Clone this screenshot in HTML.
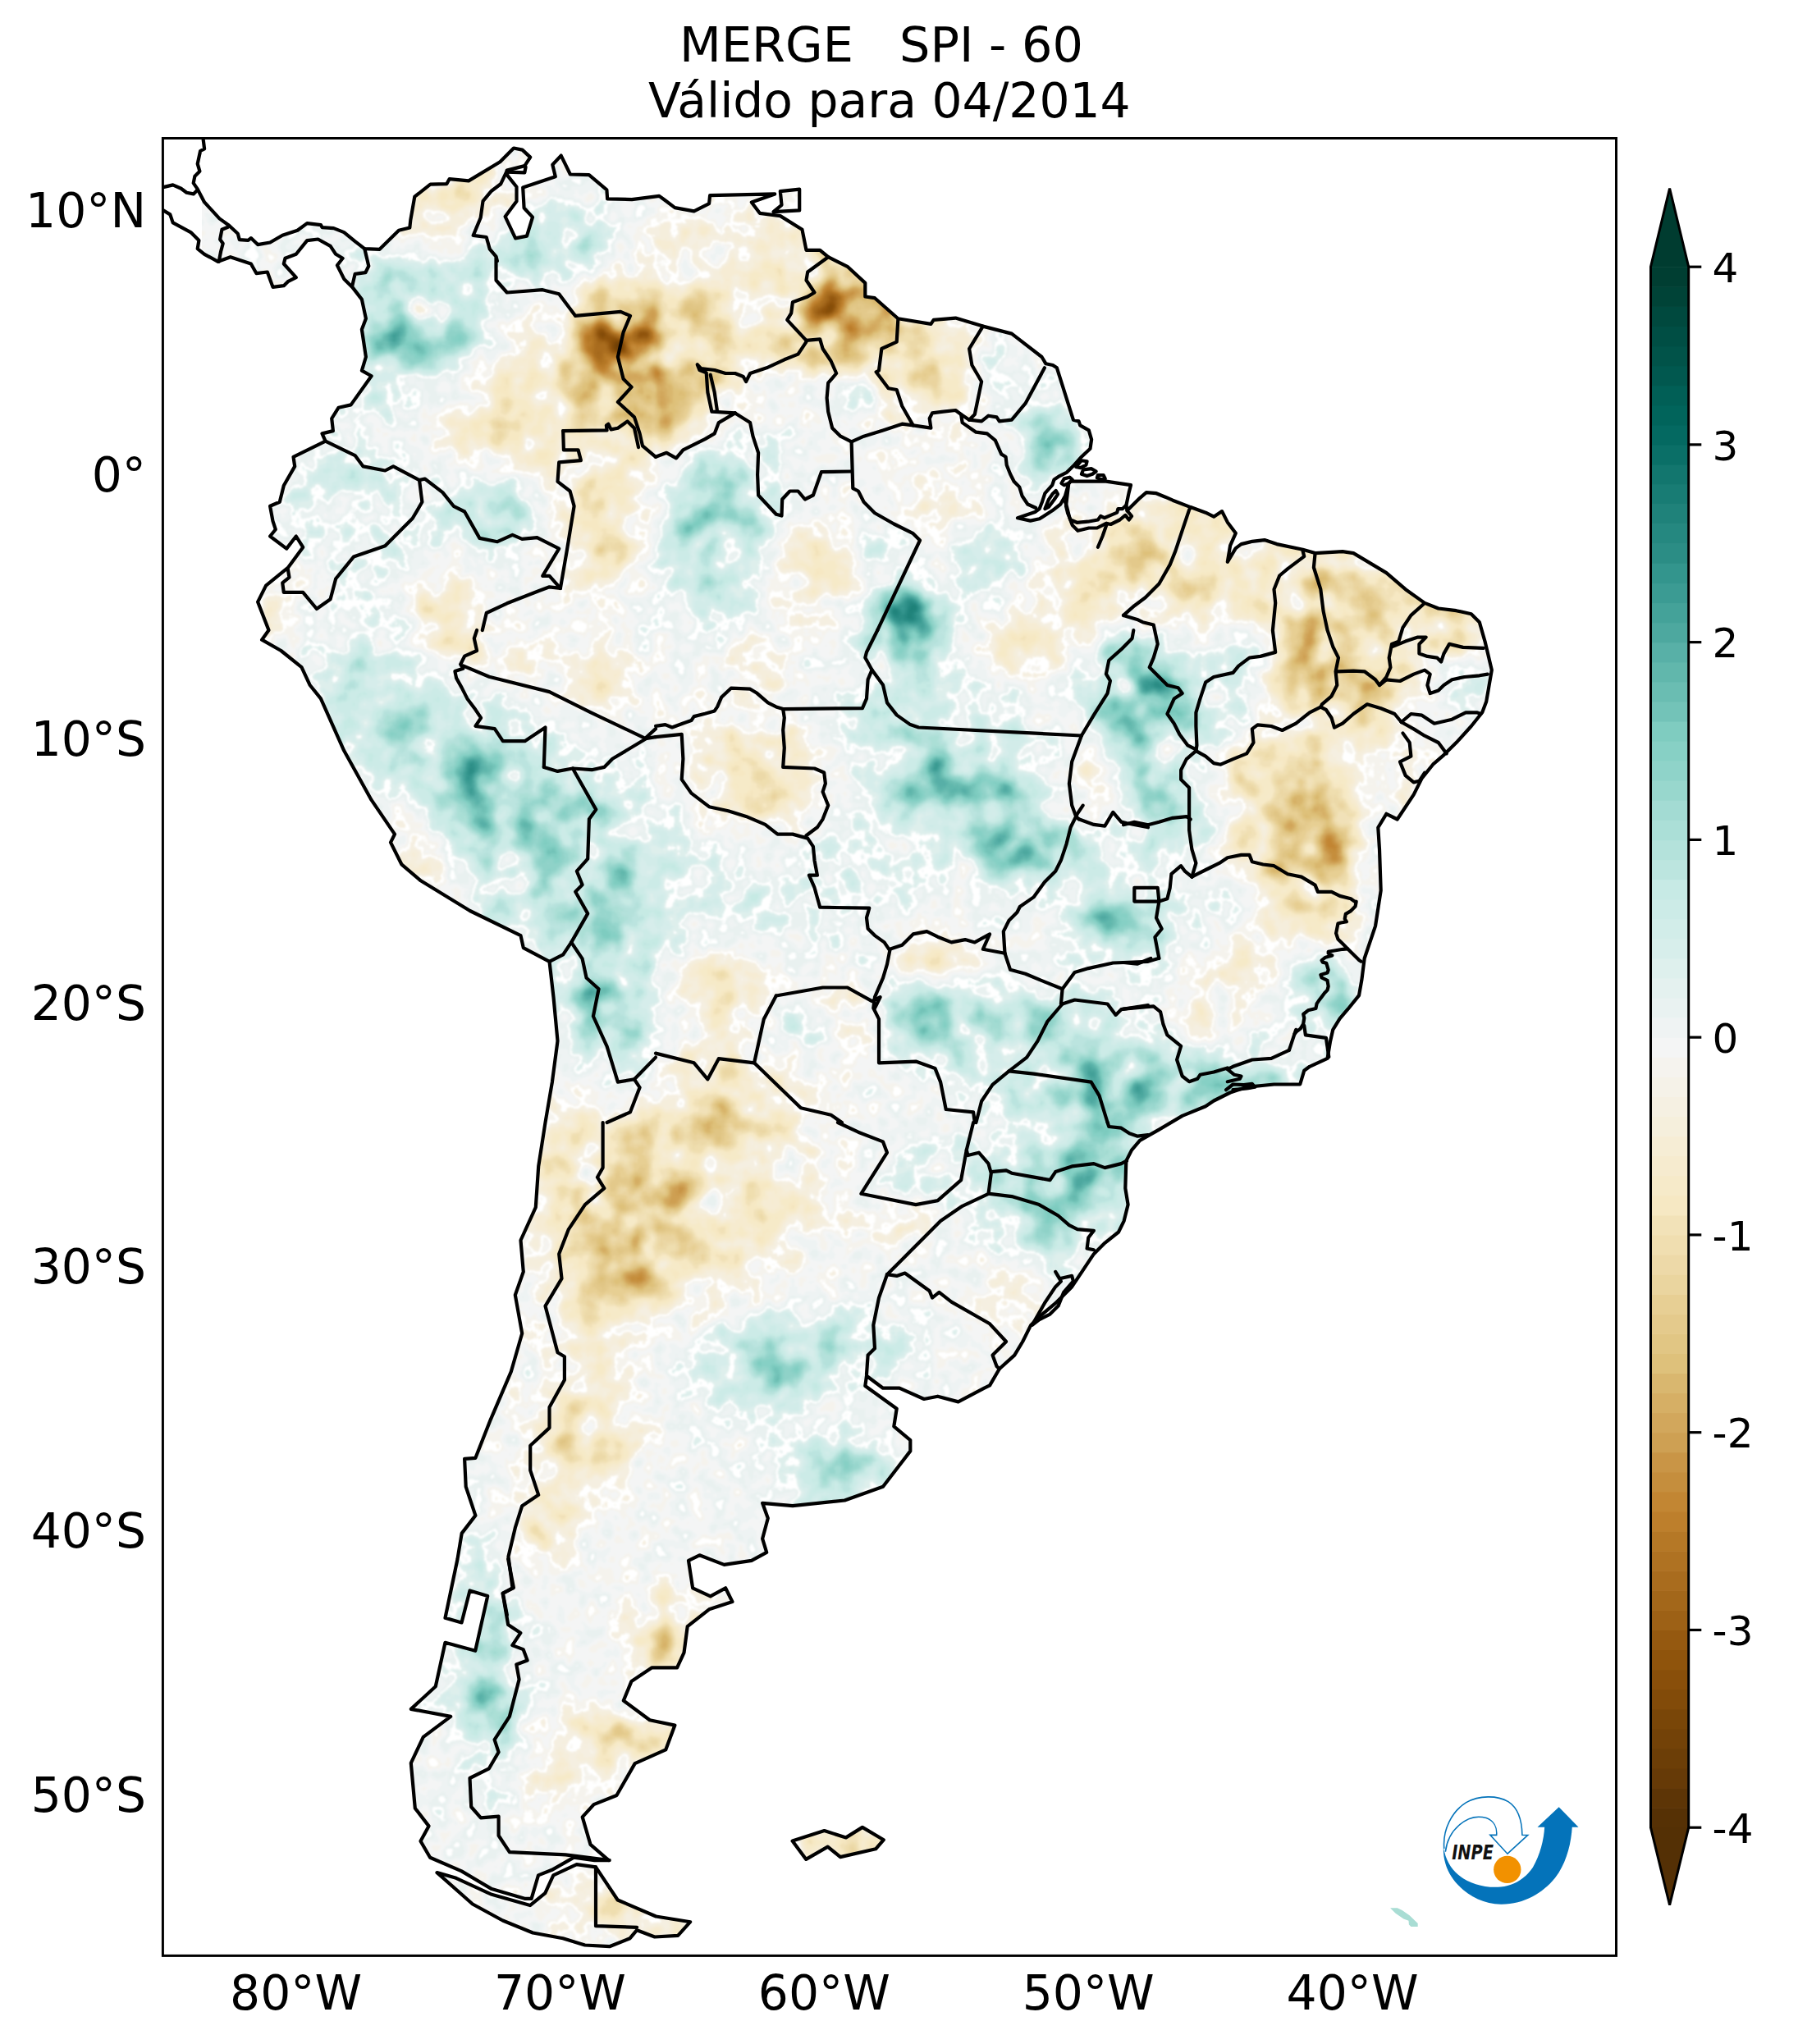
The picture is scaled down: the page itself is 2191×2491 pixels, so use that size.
<!DOCTYPE html>
<html><head><meta charset="utf-8"><title>MERGE SPI - 60</title>
<style>html,body{margin:0;padding:0;background:#fff;} svg{display:block;}</style></head>
<body>
<svg width="2191" height="2491" viewBox="0 0 2191 2491">
<rect width="2191" height="2491" fill="#fff"/>
<text x="1074" y="75.1" font-size="58.9" text-anchor="middle" font-family="DejaVu Sans, Liberation Sans, sans-serif" style="white-space:pre">MERGE   SPI - 60</text>
<text x="1083.8" y="143.3" font-size="58.3" text-anchor="middle" font-family="DejaVu Sans, Liberation Sans, sans-serif">Válido para 04/2014</text>
<svg x="198.4" y="168.5" width="1771.1" height="2214.9" viewBox="198.4 168.5 1771.1 2214.9" overflow="hidden">
<defs><clipPath id="land"><path d="M247.4,168.0 L249.1,181.3 L244.1,184.0 L240.7,199.7 L243.4,208.7 L237.4,214.7 L235.7,223.1 L240.7,230.4 L249.1,246.4 L267.4,266.4 L279.1,274.8 L289.8,284.8 L291.8,292.1 L302.4,292.8 L305.8,290.1 L314.1,298.1 L329.1,295.5 L344.2,286.8 L362.5,280.8 L374.2,272.1 L390.9,274.1 L392.5,277.1 L406.6,278.1 L419.2,283.1 L432.6,294.1 L444.3,303.2 L462.6,303.8 L486.0,280.8 L499.3,277.5 L500.3,268.1 L505.3,239.7 L524.4,224.7 L544.4,224.1 L547.7,218.1 L571.1,220.4 L609.4,197.2 L626.0,180.5 L636.5,182.6 L646.2,191.6 L639.3,202.1 L617.7,207.6 L618.4,213.9 L629.5,227.8 L629.5,245.2 L615.6,263.9 L628.1,290.4 L642.0,287.6 L649.0,264.6 L638.6,253.5 L637.2,228.5 L676.8,215.3 L673.3,200.7 L683.7,189.6 L694.9,212.5 L717.8,213.2 L739.4,231.3 L740.1,242.4 L770.0,243.1 L803.3,238.9 L810.0,243.8 L822.4,253.1 L845.7,257.4 L864.1,248.1 L865.1,238.1 L944.2,236.4 L915.8,246.4 L925.8,259.8 L950.8,263.1 L977.5,279.8 L982.5,304.8 L999.2,304.8 L1009.2,313.2 L1032.6,324.8 L1054.3,344.9 L1054.3,361.5 L1066.0,363.2 L1094.3,388.2 L1134.4,394.9 L1137.7,389.9 L1164.4,387.6 L1197.8,397.6 L1232.8,406.6 L1269.5,435.0 L1274.5,443.3 L1282.9,445.0 L1287.9,448.3 L1307.9,511.7 L1314.6,513.4 L1316.2,518.4 L1326.8,524.4 L1330.1,535.6 L1328.5,546.7 L1317.9,556.7 L1309.0,566.7 L1300.1,575.6 L1291.2,580.1 L1284.5,584.5 L1282.3,591.2 L1273.4,601.2 L1270.1,611.2 L1266.7,620.1 L1261.2,624.0 L1240.0,631.2 L1255.6,634.6 L1266.7,632.3 L1282.3,622.3 L1292.3,614.5 L1297.9,604.5 L1302.3,589.0 L1304.5,586.7 L1320.1,586.7 L1347.9,586.7 L1378.0,591.2 L1375.7,600.1 L1372.4,615.7 L1373.5,622.3 L1381.3,614.5 L1389.1,606.8 L1396.9,600.1 L1409.1,601.2 L1420.0,605.7 L1429.1,609.7 L1450.8,618.1 L1469.1,624.7 L1479.1,629.7 L1489.1,623.1 L1495.8,636.4 L1505.8,649.8 L1499.1,664.8 L1495.8,684.8 L1505.8,668.1 L1512.5,663.1 L1525.8,659.8 L1540.9,658.1 L1555.9,663.1 L1587.6,669.8 L1602.6,674.1 L1636.0,672.1 L1649.3,674.1 L1689.4,698.1 L1712.7,718.2 L1736.1,734.9 L1752.8,741.5 L1774.5,744.2 L1792.8,748.2 L1802.8,758.2 L1809.5,781.6 L1817.8,816.6 L1811.2,855.0 L1806.2,868.3 L1792.8,885.0 L1776.1,903.4 L1759.4,920.1 L1746.1,931.7 L1732.7,948.4 L1722.7,968.4 L1702.7,998.5 L1689.4,991.8 L1679.3,1008.5 L1681.0,1035.2 L1682.7,1085.2 L1676.0,1128.6 L1662.7,1168.0 L1659.3,1194.7 L1656.0,1213.1 L1642.6,1229.7 L1632.6,1241.4 L1624.3,1254.8 L1620.9,1269.8 L1617.6,1289.8 L1595.9,1299.8 L1589.2,1304.8 L1584.2,1321.5 L1552.5,1321.5 L1519.2,1324.8 L1499.1,1331.5 L1479.1,1341.5 L1469.1,1348.2 L1440.7,1359.9 L1412.4,1376.6 L1389.0,1389.9 L1379.0,1401.6 L1372.3,1414.9 L1371.3,1448.1 L1374.6,1468.1 L1369.6,1488.1 L1363.0,1501.5 L1346.3,1514.8 L1332.9,1528.2 L1319.6,1548.2 L1306.2,1568.2 L1286.2,1588.2 L1266.2,1604.9 L1256.2,1614.9 L1246.2,1635.0 L1236.2,1651.6 L1217.8,1668.3 L1206.1,1688.4 L1199.4,1691.7 L1167.7,1708.4 L1142.7,1701.7 L1126.0,1705.0 L1096.0,1691.7 L1076.0,1691.7 L1056.0,1676.7 L1054.3,1689.0 L1092.7,1716.7 L1089.3,1738.4 L1109.3,1755.1 L1109.3,1768.4 L1076.0,1811.8 L1029.3,1828.5 L965.9,1835.2 L929.1,1831.8 L935.8,1850.2 L929.1,1875.2 L934.2,1891.9 L915.8,1901.9 L882.4,1906.9 L852.4,1895.3 L839.0,1901.9 L844.1,1935.3 L865.7,1945.3 L884.1,1935.3 L892.4,1952.0 L864.1,1961.3 L837.7,1982.2 L833.5,2014.2 L825.1,2032.3 L794.5,2032.3 L769.5,2048.9 L759.8,2072.6 L791.8,2096.2 L822.4,2102.6 L811.2,2132.4 L773.7,2149.1 L751.4,2188.0 L723.6,2199.1 L709.7,2214.4 L719.5,2247.8 L741.7,2267.2 L724.4,2267.1 L699.3,2263.7 L672.6,2278.8 L656.0,2285.4 L647.6,2313.8 L639.3,2313.8 L599.2,2302.1 L562.5,2280.4 L524.1,2263.7 L512.5,2243.7 L522.5,2225.4 L505.8,2203.7 L500.8,2148.6 L515.8,2116.9 L549.2,2091.9 L500.8,2082.9 L530.8,2055.2 L542.5,2001.8 L579.2,2011.8 L594.2,1945.1 L572.5,1938.4 L562.5,1977.4 L542.5,1971.7 L557.5,1900.0 L562.7,1868.6 L579.4,1846.9 L567.7,1811.8 L566.1,1777.8 L579.4,1776.8 L597.8,1730.1 L622.8,1671.7 L636.2,1625.0 L627.8,1578.2 L637.8,1549.9 L634.5,1511.5 L652.8,1471.4 L656.2,1421.4 L664.5,1368.0 L672.9,1318.6 L679.5,1268.6 L674.5,1215.2 L669.5,1171.8 L637.8,1155.1 L634.5,1140.1 L572.7,1110.0 L512.7,1073.3 L489.3,1053.3 L476.0,1026.6 L481.0,1016.6 L452.6,974.9 L419.2,914.8 L390.9,851.4 L377.5,834.7 L367.5,813.1 L342.5,793.0 L319.1,779.7 L327.5,768.0 L314.1,733.6 L324.1,713.6 L350.8,691.9 L369.2,666.9 L360.8,653.5 L349.2,668.6 L329.1,653.5 L335.8,645.2 L332.5,635.2 L329.1,616.8 L340.8,611.8 L345.8,591.8 L359.2,568.4 L357.5,556.8 L396.6,537.7 L392.5,528.4 L405.9,525.1 L404.2,510.0 L412.6,496.7 L427.6,493.4 L452.6,458.3 L440.9,451.6 L445.9,435.0 L440.9,401.6 L445.9,388.2 L440.9,364.9 L429.3,349.9 L419.2,339.9 L410.9,323.2 L417.6,314.8 L409.2,309.8 L402.6,299.8 L387.5,291.5 L374.2,293.1 L360.8,309.8 L347.5,314.8 L345.8,321.5 L360.8,338.2 L350.8,343.2 L345.8,348.2 L332.5,349.9 L325.8,331.5 L312.5,333.2 L305.8,321.5 L280.8,313.2 L265.7,318.8 L249.1,309.8 L240.7,303.2 L242.4,293.1 L232.4,283.1 L210.7,271.4 L207.3,261.4 L199.0,256.4 L194.0,256.4 L194.0,163.0 L247.4,163.0Z M942.5,258.1 L952.5,249.8 L950.8,233.1 L974.2,230.7 L974.2,256.4Z M532.5,2282.1 L555.8,2288.8 L599.2,2308.8 L645.9,2322.1 L664.3,2307.1 L674.3,2285.4 L702.7,2272.1 L726.0,2275.4 L752.7,2315.5 L799.4,2335.5 L841.2,2342.2 L826.1,2358.8 L797.8,2360.5 L776.1,2352.2 L767.7,2362.2 L742.7,2372.2 L712.7,2370.5 L686.0,2362.2 L649.3,2355.5 L612.6,2340.5 L575.9,2320.5Z M965.6,2243.6 L1004.5,2231.1 L1030.9,2239.4 L1050.9,2226.9 L1076.8,2242.2 L1067.1,2253.3 L1024.0,2263.1 L1008.7,2250.6 L982.3,2265.9Z" clip-rule="nonzero"/></clipPath><filter id="spi" filterUnits="userSpaceOnUse" x="190" y="160" width="1800" height="2240" color-interpolation-filters="sRGB">
<feGaussianBlur in="SourceGraphic" stdDeviation="7.0" result="b"/>
<feTurbulence type="fractalNoise" baseFrequency="0.02" numOctaves="2" seed="5" result="n"/>
<feColorMatrix in="n" type="matrix" values="1 0 0 0 0 1 0 0 0 0 1 0 0 0 0 0 0 0 0 1" result="n2"/>
<feComposite in="b" in2="n2" operator="arithmetic" k1="2.5" k2="-0.4" k3="-1.2647" k4="0.7082" result="m"/>
<feTurbulence type="fractalNoise" baseFrequency="0.0440" numOctaves="2" seed="16" result="q"/>
<feColorMatrix in="q" type="matrix" values="1 0 0 0 0 1 0 0 0 0 1 0 0 0 0 0 0 0 0 1" result="q2"/>
<feComposite in="m" in2="q2" operator="arithmetic" k1="0" k2="1" k3="0.12" k4="-0.0600" result="s"/>
<feComponentTransfer in="s" result="col">
<feFuncR type="discrete" tableValues="0.329 0.337 0.365 0.400 0.424 0.451 0.475 0.510 0.537 0.561 0.584 0.616 0.639 0.663 0.686 0.710 0.741 0.761 0.773 0.788 0.808 0.824 0.839 0.851 0.871 0.882 0.894 0.906 0.918 0.929 0.941 0.949 0.965 0.965 0.965 0.965 0.961 0.961 1.000 0.961 0.957 0.937 0.914 1.000 0.871 0.843 0.824 0.800 0.780 0.737 0.706 0.671 0.639 0.596 0.561 0.529 0.498 0.451 0.416 0.380 0.345 0.302 0.267 0.231 0.200 0.169 0.145 0.122 0.094 0.071 0.039 0.016 0.004 0.004 0.004 0.004 0.000 0.000 0.000 0.000 0.000"/>
<feFuncG type="discrete" tableValues="0.188 0.192 0.208 0.227 0.243 0.259 0.275 0.294 0.310 0.329 0.349 0.380 0.404 0.424 0.447 0.471 0.498 0.525 0.557 0.584 0.627 0.655 0.686 0.718 0.757 0.776 0.792 0.812 0.835 0.851 0.871 0.886 0.910 0.918 0.922 0.929 0.937 0.941 1.000 0.953 0.961 0.953 0.949 1.000 0.941 0.933 0.929 0.922 0.918 0.898 0.886 0.875 0.859 0.843 0.827 0.816 0.800 0.765 0.741 0.718 0.690 0.659 0.635 0.608 0.584 0.553 0.533 0.510 0.486 0.463 0.435 0.412 0.392 0.373 0.345 0.325 0.306 0.286 0.263 0.243 0.235"/>
<feFuncB type="discrete" tableValues="0.020 0.020 0.024 0.027 0.027 0.031 0.031 0.035 0.039 0.047 0.063 0.086 0.102 0.118 0.133 0.149 0.173 0.200 0.239 0.275 0.325 0.361 0.396 0.435 0.482 0.518 0.549 0.580 0.624 0.659 0.690 0.722 0.765 0.788 0.812 0.835 0.863 0.886 1.000 0.933 0.961 0.953 0.945 1.000 0.929 0.922 0.914 0.906 0.898 0.875 0.859 0.843 0.827 0.804 0.788 0.773 0.753 0.722 0.698 0.675 0.655 0.624 0.600 0.576 0.553 0.522 0.502 0.478 0.455 0.431 0.404 0.380 0.357 0.337 0.310 0.286 0.267 0.243 0.216 0.196 0.188"/>
<feFuncA type="identity"/>
</feComponentTransfer>
<feTurbulence type="fractalNoise" baseFrequency="0.035" numOctaves="3" seed="28" result="v"/>
<feColorMatrix in="v" type="matrix" values="0 0 0 0 1 0 0 0 0 1 0 0 0 0 1 1 0 0 0 0" result="v2"/>
<feComponentTransfer in="v2" result="v3"><feFuncA type="table" tableValues="0.00 0.00 0.00 0.00 0.00 0.00 0.00 0.00 0.00 0.00 0.00 0.00 0.00 0.00 0.00 0.00 0.00 0.00 0.00 0.00 0.00 0.00 0.00 0.00 0.00 0.00 0.00 0.00 0.00 0.00 0.00 0.00 0.00 0.00 0.00 0.00 0.00 0.00 0.00 0.00 0.00"/></feComponentTransfer>
<feComposite in="v3" in2="col" operator="over" result="fin"/>
<feGaussianBlur in="fin" stdDeviation="1.1"/>
</filter></defs>
<g clip-path="url(#land)">
<g filter="url(#spi)"><rect x="190" y="160" width="1790" height="2232" fill="#818181"/>
<path d="M750,416h32v16h-32z" fill="#313131"/>
<path d="M782,416h16v16h-16z" fill="#323232"/>
<path d="M766,432h16v16h-16z" fill="#333333"/>
<path d="M766,400h16v16h-16zM734,416h16v16h-16zM750,432h16v16h-16z" fill="#343434"/>
<path d="M782,400h16v16h-16zM782,432h16v16h-16z" fill="#353535"/>
<path d="M750,400h16v16h-16z" fill="#363636"/>
<path d="M798,416h16v16h-16zM734,432h16v16h-16z" fill="#373737"/>
<path d="M1022,368h16v16h-16z" fill="#383838"/>
<path d="M1022,352h16v16h-16zM734,400h16v16h-16zM798,400h16v16h-16zM798,432h16v16h-16zM766,448h16v16h-16z" fill="#393939"/>
<path d="M1038,368h16v16h-16zM782,448h16v16h-16z" fill="#3a3a3a"/>
<path d="M1038,352h16v16h-16zM1006,368h16v16h-16zM750,448h16v16h-16z" fill="#3b3b3b"/>
<path d="M1006,352h16v16h-16zM1022,384h16v16h-16zM718,416h16v16h-16z" fill="#3c3c3c"/>
<path d="M1038,384h16v16h-16z" fill="#3d3d3d"/>
<path d="M766,384h32v16h-32zM798,448h16v16h-16z" fill="#3e3e3e"/>
<path d="M1022,336h16v16h-16zM1006,384h16v16h-16zM718,432h16v16h-16zM734,448h16v16h-16z" fill="#3f3f3f"/>
<path d="M1054,368h16v16h-16zM718,400h16v16h-16zM814,416h16v16h-16zM766,464h32v16h-32z" fill="#404040"/>
<path d="M1006,336h16v16h-16zM1038,336h16v16h-16zM750,384h16v16h-16zM798,384h16v16h-16z" fill="#414141"/>
<path d="M1054,352h16v16h-16zM990,368h16v16h-16zM814,400h16v16h-16zM814,432h16v16h-16z" fill="#424242"/>
<path d="M990,352h16v16h-16zM1054,384h16v16h-16zM750,464h16v16h-16zM798,464h16v16h-16zM1582,1024h16v16h-16z" fill="#434343"/>
<path d="M1022,400h16v16h-16zM1582,1008h16v16h-16z" fill="#444444"/>
<path d="M734,384h16v16h-16zM1038,400h16v16h-16zM814,448h16v16h-16zM1566,1024h16v16h-16z" fill="#454545"/>
<path d="M990,384h16v16h-16zM718,448h16v16h-16zM1566,1008h16v16h-16zM1598,1024h16v16h-16z" fill="#464646"/>
<path d="M990,336h16v16h-16zM1054,336h16v16h-16zM1006,400h16v16h-16zM734,464h16v16h-16zM782,480h16v16h-16zM1598,1008h16v16h-16zM1582,1040h16v16h-16z" fill="#474747"/>
<path d="M1022,320h16v16h-16zM1054,400h16v16h-16zM702,416h16v16h-16zM766,480h16v16h-16zM766,1472h16v16h-16zM750,1488h32v16h-32zM750,1504h32v16h-32z" fill="#484848"/>
<path d="M1070,368h16v16h-16zM814,384h16v16h-16zM814,464h16v16h-16zM798,480h16v16h-16zM1582,992h16v16h-16zM1566,1040h16v16h-16zM750,1472h16v16h-16zM782,1472h16v16h-16zM750,1520h16v16h-16z" fill="#494949"/>
<path d="M1006,320h16v16h-16zM1038,320h16v16h-16zM1070,384h16v16h-16zM702,432h16v16h-16zM1598,1040h16v16h-16zM782,1488h16v16h-16z" fill="#4a4a4a"/>
<path d="M1070,352h16v16h-16zM782,368h16v16h-16zM830,416h16v16h-16zM750,480h16v16h-16zM1566,992h16v16h-16zM1550,1024h16v16h-16zM766,1456h48v16h-48zM798,1472h16v16h-16zM734,1488h16v16h-16zM766,1520h16v16h-16z" fill="#4b4b4b"/>
<path d="M974,352h16v16h-16zM766,368h16v16h-16zM974,368h16v16h-16zM718,384h16v16h-16zM702,400h16v16h-16zM830,432h16v16h-16zM1598,992h16v16h-16zM1550,1008h16v16h-16zM750,1456h16v16h-16zM734,1472h16v16h-16zM734,1504h16v16h-16z" fill="#4c4c4c"/>
<path d="M990,400h16v16h-16zM718,464h16v16h-16zM814,480h16v16h-16zM1614,1024h16v16h-16zM734,1456h16v16h-16zM782,1504h16v16h-16z" fill="#4d4d4d"/>
<path d="M798,368h16v16h-16zM830,400h16v16h-16zM1070,400h16v16h-16zM830,448h16v16h-16zM1614,1008h16v16h-16zM734,1440h16v16h-16zM798,1488h16v16h-16zM734,1520h16v16h-16zM750,1536h16v16h-16z" fill="#4e4e4e"/>
<path d="M990,320h16v16h-16zM1054,320h16v16h-16zM750,368h16v16h-16zM974,384h16v16h-16zM1022,416h32v16h-32zM702,448h16v16h-16zM734,480h16v16h-16zM1598,752h16v16h-16zM1598,768h16v16h-16zM1550,992h16v16h-16zM1550,1040h16v16h-16zM1582,1056h16v16h-16zM718,1440h16v16h-16zM750,1440h48v16h-48zM718,1456h16v16h-16zM814,1456h16v16h-16zM766,1536h16v16h-16z" fill="#4f4f4f"/>
<path d="M974,336h16v16h-16zM1070,336h16v16h-16zM782,496h16v16h-16zM1598,736h16v16h-16zM1582,752h16v16h-16zM1598,784h16v16h-16zM1598,800h16v16h-16zM1598,816h16v16h-16zM1598,832h16v16h-16zM1582,976h16v16h-16zM1614,1040h16v16h-16zM1566,1056h16v16h-16zM798,1440h16v16h-16zM718,1472h16v16h-16zM814,1472h16v16h-16zM798,1984h16v16h-16zM798,2000h16v16h-16z" fill="#505050"/>
<path d="M1006,416h16v16h-16zM1054,416h16v16h-16zM830,464h16v16h-16zM766,496h16v16h-16zM1582,736h16v16h-16zM1614,752h16v16h-16zM1582,768h16v16h-16zM1614,816h16v16h-16zM1614,832h16v16h-16zM1566,976h16v16h-16zM1598,1056h16v16h-16zM718,1424h16v16h-16zM718,1488h16v16h-16zM782,1520h16v16h-16z" fill="#515151"/>
<path d="M1086,384h16v16h-16zM798,496h16v16h-16zM1598,720h16v16h-16zM1614,736h16v16h-16zM1614,768h16v16h-16zM1582,784h16v16h-16zM1582,800h16v16h-16zM1614,992h16v16h-16zM734,1424h16v16h-16zM702,1440h16v16h-16zM734,1536h16v16h-16z" fill="#525252"/>
<path d="M1022,304h16v16h-16zM734,368h16v16h-16zM1086,368h16v16h-16zM830,384h16v16h-16zM1614,784h16v16h-16zM1614,800h16v16h-16zM1582,816h16v16h-16zM1598,848h32v16h-32zM1598,976h16v16h-16zM702,1424h16v16h-16zM814,1440h16v16h-16zM702,1456h16v16h-16zM718,1504h16v16h-16zM798,1504h16v16h-16z" fill="#535353"/>
<path d="M1006,304h16v16h-16zM814,368h16v16h-16zM1086,400h16v16h-16zM1070,416h16v16h-16zM702,464h16v16h-16zM718,480h16v16h-16zM830,480h16v16h-16zM750,496h16v16h-16zM1582,720h16v16h-16zM1614,720h16v16h-16zM1582,832h16v16h-16zM1630,832h16v16h-16zM1550,976h16v16h-16zM1534,1008h16v16h-16zM1534,1024h16v16h-16zM750,1424h16v16h-16zM814,1488h16v16h-16zM814,1984h16v16h-16z" fill="#545454"/>
<path d="M1038,304h16v16h-16zM1086,352h16v16h-16zM974,400h16v16h-16zM1630,816h16v16h-16zM766,1424h16v16h-16zM718,1520h16v16h-16zM782,1536h16v16h-16zM750,1552h16v16h-16zM814,2000h16v16h-16z" fill="#555555"/>
<path d="M974,320h16v16h-16zM702,384h16v16h-16zM686,416h16v16h-16zM990,416h16v16h-16zM686,432h16v16h-16zM814,496h16v16h-16zM1598,704h16v16h-16zM1566,736h16v16h-16zM1630,736h16v16h-16zM1566,752h16v16h-16zM1630,752h16v16h-16zM1630,848h16v16h-16zM1550,1056h16v16h-16zM782,1424h16v16h-16zM830,1456h16v16h-16zM702,1472h16v16h-16zM830,1472h16v16h-16zM766,1552h16v16h-16z" fill="#565656"/>
<path d="M1070,320h16v16h-16zM958,352h16v16h-16zM958,368h16v16h-16zM846,416h16v16h-16zM1086,416h16v16h-16zM846,432h16v16h-16zM734,496h16v16h-16zM1582,704h16v16h-16zM1630,720h16v16h-16zM1630,768h16v16h-16zM1630,800h16v16h-16zM1582,848h16v16h-16zM1566,960h32v16h-32zM1534,992h16v16h-16zM1630,1024h16v16h-16zM1534,1040h16v16h-16zM1614,1056h16v16h-16zM718,1408h16v16h-16zM798,1424h16v16h-16z" fill="#575757"/>
<path d="M990,304h16v16h-16zM846,448h16v16h-16zM1614,704h16v16h-16zM1566,720h16v16h-16zM1566,768h16v16h-16zM1630,784h16v16h-16zM1598,864h16v16h-16zM1550,960h16v16h-16zM1614,976h16v16h-16zM1630,1008h16v16h-16zM1582,1072h16v16h-16zM702,1408h16v16h-16zM734,1408h16v16h-16zM686,1440h16v16h-16zM798,1520h16v16h-16zM718,1536h16v16h-16zM734,1552h16v16h-16zM734,2112h16v16h-16z" fill="#585858"/>
<path d="M1054,304h16v16h-16zM782,352h16v16h-16zM958,384h16v16h-16zM846,400h16v16h-16zM686,448h16v16h-16zM1758,752h16v16h-16zM1646,832h16v16h-16zM1614,864h16v16h-16zM1534,960h16v16h-16zM1598,960h16v16h-16zM1534,976h16v16h-16zM750,1408h16v16h-16zM686,1424h16v16h-16zM830,1440h16v16h-16zM702,1488h16v16h-16zM782,1984h16v16h-16zM782,2000h16v16h-16zM750,2112h16v16h-16z" fill="#595959"/>
<path d="M958,336h16v16h-16zM1086,336h16v16h-16zM766,352h16v16h-16zM798,352h16v16h-16zM718,368h16v16h-16zM686,400h16v16h-16zM1102,400h16v16h-16zM846,464h16v16h-16zM702,480h16v16h-16zM1646,736h16v16h-16zM1646,752h16v16h-16zM1566,784h16v16h-16zM1566,800h16v16h-16zM1566,816h16v16h-16zM1646,816h16v16h-16zM1534,944h16v16h-16zM1630,1040h16v16h-16zM1566,1072h16v16h-16zM1598,1072h16v16h-16zM814,1424h16v16h-16zM830,1488h16v16h-16zM814,1504h16v16h-16zM702,1728h16v16h-16zM798,1968h16v16h-16z" fill="#5a5a5a"/>
<path d="M830,368h16v16h-16zM1102,384h16v16h-16zM1102,416h16v16h-16zM718,496h16v16h-16zM766,512h16v16h-16zM1598,688h16v16h-16zM1630,704h16v16h-16zM1646,720h16v16h-16zM1742,752h16v16h-16zM1646,768h16v16h-16zM1646,848h16v16h-16zM1582,864h16v16h-16zM1518,944h16v16h-16zM1630,992h16v16h-16zM766,1408h16v16h-16zM686,1456h16v16h-16zM702,1504h16v16h-16zM702,1744h16v16h-16zM798,2016h16v16h-16z" fill="#5b5b5b"/>
<path d="M1102,368h16v16h-16zM1038,432h48v16h-48zM686,464h16v16h-16zM830,496h16v16h-16zM750,512h16v16h-16zM782,512h16v16h-16zM1582,688h16v16h-16zM1566,704h16v16h-16zM1646,800h16v16h-16zM1566,832h16v16h-16zM1630,864h16v16h-16zM1550,944h48v16h-48zM782,1408h16v16h-16zM782,1552h16v16h-16zM718,1728h16v16h-16zM718,1744h16v16h-16zM718,2112h16v16h-16zM1022,2240h32v16h-32z" fill="#5c5c5c"/>
<path d="M750,352h16v16h-16zM846,384h16v16h-16zM958,400h16v16h-16zM974,416h16v16h-16zM1022,432h16v16h-16zM1086,432h16v16h-16zM846,480h16v16h-16zM1614,688h16v16h-16zM1662,736h16v16h-16zM1646,784h16v16h-16zM1518,960h16v16h-16zM862,1344h32v16h-32zM846,1456h16v16h-16zM846,1472h16v16h-16zM702,1520h16v16h-16zM798,1536h16v16h-16zM718,1552h16v16h-16zM750,1568h16v16h-16zM814,1968h16v16h-16zM766,2112h16v16h-16z" fill="#5d5d5d"/>
<path d="M974,304h16v16h-16zM814,352h16v16h-16zM1006,432h16v16h-16zM1102,432h16v16h-16zM734,512h16v16h-16zM798,512h16v16h-16zM1646,704h16v16h-16zM1662,720h16v16h-16zM1742,736h32v16h-32zM1662,752h16v16h-16zM1662,832h16v16h-16zM1598,880h16v16h-16zM1598,944h16v16h-16zM1614,960h16v16h-16zM862,1328h32v16h-32zM718,1392h16v16h-16zM686,1408h16v16h-16zM798,1408h16v16h-16zM830,1424h16v16h-16zM686,1472h16v16h-16zM766,1568h16v16h-16z" fill="#5e5e5e"/>
<path d="M1006,288h32v16h-32zM958,320h16v16h-16zM1118,416h16v16h-16zM1118,432h16v16h-16zM686,480h16v16h-16zM702,496h16v16h-16zM1630,688h16v16h-16zM1550,720h16v16h-16zM1550,736h16v16h-16zM1726,752h16v16h-16zM1774,752h16v16h-16zM1662,768h16v16h-16zM1662,816h16v16h-16zM1566,848h16v16h-16zM1582,880h16v16h-16zM1630,976h16v16h-16zM1518,1008h16v16h-16zM1518,1024h16v16h-16zM1534,1056h16v16h-16zM1630,1056h16v16h-16zM1614,1072h16v16h-16zM846,1344h16v16h-16zM894,1344h16v16h-16zM862,1360h32v16h-32zM734,1392h16v16h-16zM814,1408h16v16h-16zM846,1440h16v16h-16zM830,1504h16v16h-16zM814,1520h16v16h-16zM734,1568h16v16h-16zM702,1712h16v16h-16zM686,1728h16v16h-16zM686,1744h16v16h-16zM814,2016h16v16h-16z" fill="#5f5f5f"/>
<path d="M1038,288h16v16h-16zM1102,352h16v16h-16zM942,368h16v16h-16zM1118,400h16v16h-16zM862,416h16v16h-16zM862,432h16v16h-16zM1390,672h32v16h-32zM1358,688h64v16h-64zM1566,688h16v16h-16zM1678,736h16v16h-16zM1758,768h16v16h-16zM1614,880h16v16h-16zM1534,928h64v16h-64zM1518,976h16v16h-16zM1550,1072h16v16h-16zM846,1328h16v16h-16zM894,1328h16v16h-16zM846,1360h16v16h-16zM702,1392h16v16h-16zM750,1392h16v16h-16zM846,1488h16v16h-16zM702,1536h16v16h-16zM718,1712h16v16h-16zM702,1760h16v16h-16zM734,2096h32v16h-32zM1054,2240h16v16h-16z" fill="#606060"/>
<path d="M942,352h16v16h-16zM686,384h16v16h-16zM670,432h16v16h-16zM990,432h16v16h-16zM670,448h16v16h-16zM718,512h16v16h-16zM1374,672h16v16h-16zM1422,672h16v16h-16zM1598,672h16v16h-16zM1422,688h16v16h-16zM1550,704h16v16h-16zM1662,704h16v16h-16zM1678,720h16v16h-16zM1726,736h16v16h-16zM1550,752h16v16h-16zM1678,752h16v16h-16zM1742,768h16v16h-16zM1662,784h16v16h-16zM1662,800h16v16h-16zM1662,848h16v16h-16zM1566,864h16v16h-16zM1646,864h16v16h-16zM1582,896h16v16h-16zM1502,944h16v16h-16zM1518,992h16v16h-16zM1582,1088h16v16h-16zM862,1312h32v16h-32zM894,1360h16v16h-16zM766,1392h16v16h-16zM830,1408h16v16h-16zM686,1488h16v16h-16zM718,1760h16v16h-16zM830,1984h16v16h-16zM1006,2240h16v16h-16z" fill="#616161"/>
<path d="M990,288h16v16h-16zM734,352h16v16h-16zM702,368h16v16h-16zM942,384h16v16h-16zM1118,384h16v16h-16zM862,400h16v16h-16zM670,416h16v16h-16zM1134,432h16v16h-16zM862,448h16v16h-16zM1102,448h32v16h-32zM670,464h16v16h-16zM718,656h16v16h-16zM1406,656h32v16h-32zM718,672h16v16h-16zM1358,672h16v16h-16zM1438,672h16v16h-16zM1582,672h16v16h-16zM1614,672h16v16h-16zM1342,688h16v16h-16zM1646,688h16v16h-16zM1342,704h48v16h-48zM1694,736h16v16h-16zM1710,752h16v16h-16zM1598,896h16v16h-16zM1582,912h16v16h-16zM1518,928h16v16h-16zM1598,928h16v16h-16zM1614,944h16v16h-16zM1518,1040h16v16h-16zM1598,1088h16v16h-16zM830,1344h16v16h-16zM830,1360h16v16h-16zM846,1376h32v16h-32zM782,1392h32v16h-32zM846,1424h16v16h-16zM670,1440h16v16h-16zM862,1456h16v16h-16zM798,1552h16v16h-16zM718,1568h16v16h-16zM734,1728h16v16h-16zM782,1968h16v16h-16zM830,2000h16v16h-16zM782,2016h16v16h-16zM702,2112h16v16h-16z" fill="#626262"/>
<path d="M942,336h16v16h-16zM830,352h16v16h-16zM846,368h16v16h-16zM1134,416h16v16h-16zM686,496h16v16h-16zM814,512h16v16h-16zM1390,656h16v16h-16zM1438,656h16v16h-16zM1438,688h16v16h-16zM1390,704h32v16h-32zM1678,704h16v16h-16zM1710,736h16v16h-16zM1774,736h16v16h-16zM1694,752h16v16h-16zM542,768h16v16h-16zM1678,768h16v16h-16zM1726,768h16v16h-16zM1566,880h16v16h-16zM1630,880h16v16h-16zM1566,912h16v16h-16zM1598,912h16v16h-16zM1566,1088h16v16h-16zM846,1312h16v16h-16zM894,1312h16v16h-16zM910,1328h16v16h-16zM910,1344h16v16h-16zM830,1376h16v16h-16zM878,1376h16v16h-16zM814,1392h32v16h-32zM670,1424h16v16h-16zM862,1472h16v16h-16zM686,1504h16v16h-16zM846,1504h16v16h-16zM814,1536h16v16h-16zM702,1552h16v16h-16zM782,1568h16v16h-16zM686,1712h16v16h-16zM734,1744h16v16h-16zM718,2096h16v16h-16z" fill="#636363"/>
<path d="M782,336h32v16h-32zM1102,336h16v16h-16zM958,416h16v16h-16zM1086,448h16v16h-16zM1134,448h16v16h-16zM862,464h16v16h-16zM670,480h16v16h-16zM846,496h16v16h-16zM702,512h16v16h-16zM734,528h32v16h-32zM734,656h16v16h-16zM1374,656h16v16h-16zM734,672h16v16h-16zM1342,672h16v16h-16zM1454,672h16v16h-16zM1566,672h16v16h-16zM1326,688h16v16h-16zM1550,688h16v16h-16zM1662,688h16v16h-16zM1326,704h16v16h-16zM1422,704h16v16h-16zM1694,720h16v16h-16zM1678,832h16v16h-16zM1566,896h16v16h-16zM1614,896h16v16h-16zM1630,960h16v16h-16zM830,1328h16v16h-16zM814,1376h16v16h-16zM686,1392h16v16h-16zM846,1392h32v16h-32zM846,1408h16v16h-16zM862,1440h16v16h-16zM670,1456h16v16h-16zM862,1488h16v16h-16zM830,1520h16v16h-16zM686,1760h16v16h-16zM766,2096h16v16h-16zM782,2112h16v16h-16z" fill="#646464"/>
<path d="M958,304h16v16h-16zM1118,368h16v16h-16zM862,384h16v16h-16zM670,400h16v16h-16zM942,400h16v16h-16zM1134,400h16v16h-16zM766,528h16v16h-16zM718,640h32v16h-32zM1406,640h32v16h-32zM1358,656h16v16h-16zM1454,656h16v16h-16zM1630,672h16v16h-16zM1454,688h16v16h-16zM1438,704h16v16h-16zM1694,768h32v16h-32zM1774,768h16v16h-16zM1678,784h16v16h-16zM1678,800h16v16h-16zM1678,816h16v16h-16zM1550,912h16v16h-16zM910,928h32v16h-32zM1614,928h16v16h-16zM1502,960h16v16h-16zM1630,1072h16v16h-16zM1614,1088h16v16h-16zM814,1360h16v16h-16zM910,1360h16v16h-16zM894,1376h16v16h-16zM878,1392h16v16h-16zM862,1408h16v16h-16zM862,1424h16v16h-16zM686,1520h16v16h-16zM750,1584h16v16h-16zM734,2128h16v16h-16z" fill="#656565"/>
<path d="M542,240h16v16h-16zM974,288h16v16h-16zM942,320h16v16h-16zM766,336h16v16h-16zM814,336h16v16h-16zM974,432h16v16h-16zM670,496h16v16h-16zM718,528h16v16h-16zM1390,640h16v16h-16zM1438,640h16v16h-16zM1326,672h16v16h-16zM990,688h16v16h-16zM1310,704h16v16h-16zM1694,704h16v16h-16zM1534,720h16v16h-16zM1710,720h32v16h-32zM542,752h16v16h-16zM1550,816h16v16h-16zM1678,848h16v16h-16zM1614,912h16v16h-16zM910,944h32v16h-32zM910,1312h16v16h-16zM718,1376h16v16h-16zM798,1376h16v16h-16zM670,1408h16v16h-16zM878,1456h16v16h-16zM878,1472h16v16h-16zM862,1504h16v16h-16zM734,1584h16v16h-16zM766,1584h16v16h-16zM702,1696h16v16h-16zM734,1712h16v16h-16zM718,2128h16v16h-16zM750,2128h16v16h-16zM1022,2224h32v16h-32zM1022,2256h32v16h-32z" fill="#666666"/>
<path d="M558,240h16v16h-16zM878,416h16v16h-16zM654,464h16v16h-16zM1118,464h32v16h-32zM654,480h16v16h-16zM862,480h16v16h-16zM654,496h16v16h-16zM606,512h16v16h-16zM686,512h16v16h-16zM782,528h16v16h-16zM734,608h16v16h-16zM718,624h32v16h-32zM702,656h16v16h-16zM1342,656h16v16h-16zM1582,656h32v16h-32zM702,672h16v16h-16zM1470,672h16v16h-16zM1646,672h16v16h-16zM718,688h16v16h-16zM974,688h16v16h-16zM1310,688h16v16h-16zM1470,688h16v16h-16zM1678,688h16v16h-16zM1454,704h16v16h-16zM1534,704h16v16h-16zM1326,720h48v16h-48zM1742,720h16v16h-16zM1534,736h16v16h-16zM1550,768h16v16h-16zM1662,864h16v16h-16zM1502,928h16v16h-16zM1630,944h16v16h-16zM1582,1104h16v16h-16zM878,1200h16v16h-16zM862,1296h32v16h-32zM814,1344h16v16h-16zM734,1376h16v16h-16zM782,1376h16v16h-16zM910,1376h16v16h-16zM894,1392h16v16h-16zM878,1408h16v16h-16zM878,1424h16v16h-16zM878,1440h16v16h-16zM670,1472h16v16h-16zM878,1488h16v16h-16zM846,1520h16v16h-16zM686,1536h16v16h-16zM702,1568h16v16h-16zM670,1728h16v16h-16zM670,1744h16v16h-16zM734,1760h16v16h-16zM830,1968h16v16h-16zM1070,2240h16v16h-16z" fill="#676767"/>
<path d="M558,224h16v16h-16zM718,352h16v16h-16zM846,352h16v16h-16zM1118,352h16v16h-16zM926,368h16v16h-16zM1134,384h16v16h-16zM878,400h16v16h-16zM1150,416h16v16h-16zM878,432h16v16h-16zM1150,432h16v16h-16zM654,448h16v16h-16zM1070,448h16v16h-16zM1150,448h16v16h-16zM1102,464h16v16h-16zM638,480h16v16h-16zM606,496h48v16h-48zM590,512h16v16h-16zM622,512h16v16h-16zM734,544h32v16h-32zM734,592h16v16h-16zM718,608h16v16h-16zM1374,640h16v16h-16zM1454,640h16v16h-16zM1470,656h16v16h-16zM1614,656h16v16h-16zM990,672h16v16h-16zM1550,672h16v16h-16zM1374,720h32v16h-32zM542,736h16v16h-16zM1694,784h16v16h-16zM1550,832h16v16h-16zM1646,880h16v16h-16zM1630,896h16v16h-16zM910,912h32v16h-32zM894,928h16v16h-16zM942,928h16v16h-16zM894,944h16v16h-16zM942,944h16v16h-16zM1550,1088h16v16h-16zM1598,1104h16v16h-16zM862,1200h16v16h-16zM894,1296h16v16h-16zM830,1312h16v16h-16zM926,1328h16v16h-16zM926,1344h16v16h-16zM702,1376h16v16h-16zM750,1376h32v16h-32zM878,1504h16v16h-16zM830,1536h16v16h-16zM814,1552h16v16h-16zM798,1568h16v16h-16zM718,1584h16v16h-16zM718,1696h16v16h-16zM702,1776h16v16h-16zM798,1952h16v16h-16zM766,1984h16v16h-16zM766,2000h16v16h-16zM702,2096h16v16h-16z" fill="#686868"/>
<path d="M542,224h16v16h-16zM574,224h16v16h-16zM526,240h16v16h-16zM1006,272h32v16h-32zM830,336h16v16h-16zM926,352h16v16h-16zM862,368h16v16h-16zM926,384h16v16h-16zM942,416h16v16h-16zM654,432h16v16h-16zM622,480h16v16h-16zM590,496h16v16h-16zM638,512h48v16h-48zM830,512h16v16h-16zM606,528h16v16h-16zM702,528h16v16h-16zM718,544h16v16h-16zM734,560h16v16h-16zM734,576h16v16h-16zM718,592h16v16h-16zM1422,624h16v16h-16zM1566,656h16v16h-16zM974,672h16v16h-16zM1310,672h16v16h-16zM1662,672h16v16h-16zM734,688h16v16h-16zM1534,688h16v16h-16zM1694,688h16v16h-16zM1470,704h16v16h-16zM1710,704h16v16h-16zM1310,720h16v16h-16zM1406,720h48v16h-48zM1758,720h16v16h-16zM526,736h16v16h-16zM526,752h16v16h-16zM1790,752h16v16h-16zM526,768h16v16h-16zM558,768h16v16h-16zM542,784h16v16h-16zM1246,784h16v16h-16zM1550,800h16v16h-16zM1694,800h16v16h-16zM718,816h32v16h-32zM1550,896h16v16h-16zM1534,912h16v16h-16zM910,960h32v16h-32zM1518,1056h16v16h-16zM1534,1072h16v16h-16zM1566,1104h16v16h-16zM1134,1168h16v16h-16zM878,1184h16v16h-16zM846,1296h16v16h-16zM798,1360h16v16h-16zM926,1360h16v16h-16zM894,1408h16v16h-16zM894,1424h16v16h-16zM894,1440h16v16h-16zM894,1456h16v16h-16zM894,1472h16v16h-16zM670,1488h16v16h-16zM894,1488h16v16h-16zM862,1520h16v16h-16zM686,1552h16v16h-16zM686,1696h16v16h-16zM718,1776h16v16h-16zM814,1952h16v16h-16zM782,2096h16v16h-16zM766,2128h16v16h-16zM1054,2224h16v16h-16zM990,2240h16v16h-16zM1054,2256h16v16h-16zM750,2304h32v16h-32zM750,2320h32v16h-32z" fill="#696969"/>
<path d="M542,256h16v16h-16zM750,336h16v16h-16zM926,336h16v16h-16zM686,368h16v16h-16zM670,384h16v16h-16zM878,384h16v16h-16zM926,400h16v16h-16zM958,432h16v16h-16zM878,448h16v16h-16zM638,464h16v16h-16zM606,480h16v16h-16zM574,512h16v16h-16zM590,528h16v16h-16zM622,528h16v16h-16zM718,560h16v16h-16zM718,576h16v16h-16zM750,592h16v16h-16zM750,608h16v16h-16zM750,624h16v16h-16zM1406,624h16v16h-16zM1438,624h16v16h-16zM702,640h16v16h-16zM750,640h16v16h-16zM1358,640h16v16h-16zM1470,640h16v16h-16zM750,656h16v16h-16zM1326,656h16v16h-16zM1630,656h16v16h-16zM1486,672h16v16h-16zM1006,688h16v16h-16zM1486,688h16v16h-16zM974,704h32v16h-32zM1294,704h16v16h-16zM526,720h32v16h-32zM1454,720h16v16h-16zM1246,768h16v16h-16zM1710,784h16v16h-16zM1694,816h16v16h-16zM1694,832h16v16h-16zM1550,848h16v16h-16zM894,912h16v16h-16zM942,912h16v16h-16zM1630,912h16v16h-16zM1630,928h16v16h-16zM1502,1024h16v16h-16zM1614,1104h16v16h-16zM1118,1168h16v16h-16zM862,1184h16v16h-16zM894,1200h16v16h-16zM814,1328h16v16h-16zM910,1392h16v16h-16zM894,1504h16v16h-16zM846,1536h16v16h-16zM702,1584h16v16h-16zM782,1584h16v16h-16zM670,1712h16v16h-16zM686,1776h16v16h-16zM830,2016h16v16h-16zM798,2032h16v16h-16zM686,2112h16v16h-16zM702,2128h16v16h-16zM1006,2224h16v16h-16zM1006,2256h16v16h-16zM782,2304h16v16h-16zM782,2320h16v16h-16z" fill="#6a6a6a"/>
<path d="M574,240h16v16h-16zM526,256h16v16h-16zM990,272h16v16h-16zM958,288h16v16h-16zM942,304h16v16h-16zM1150,400h16v16h-16zM654,416h16v16h-16zM1150,464h16v16h-16zM574,496h16v16h-16zM638,528h16v16h-16zM686,528h16v16h-16zM798,528h16v16h-16zM702,544h16v16h-16zM766,544h16v16h-16zM750,560h16v16h-16zM750,576h16v16h-16zM1390,624h16v16h-16zM1454,624h16v16h-16zM1486,656h16v16h-16zM1534,672h16v16h-16zM1678,672h16v16h-16zM702,688h16v16h-16zM1294,688h16v16h-16zM1502,688h32v16h-32zM1486,704h16v16h-16zM1518,704h16v16h-16zM1518,720h16v16h-16zM1262,768h16v16h-16zM1230,784h16v16h-16zM1726,784h16v16h-16zM718,832h16v16h-16zM1678,864h16v16h-16zM1550,880h16v16h-16zM894,960h16v16h-16zM942,960h16v16h-16zM1502,976h16v16h-16zM1646,1008h16v16h-16zM1646,1024h16v16h-16zM1630,1088h16v16h-16zM1134,1152h16v16h-16zM894,1184h16v16h-16zM910,1296h16v16h-16zM926,1312h16v16h-16zM686,1376h16v16h-16zM926,1376h16v16h-16zM670,1392h16v16h-16zM910,1408h16v16h-16zM910,1440h16v16h-16zM910,1456h16v16h-16zM910,1472h16v16h-16zM1102,1472h16v16h-16zM910,1488h16v16h-16zM670,1504h16v16h-16zM878,1520h16v16h-16zM830,1552h16v16h-16zM686,1568h16v16h-16zM750,1728h16v16h-16zM750,1744h16v16h-16zM670,1760h16v16h-16zM670,1840h16v16h-16zM670,1856h16v16h-16zM734,2304h16v16h-16zM734,2320h16v16h-16z" fill="#6b6b6b"/>
<path d="M526,224h16v16h-16zM798,320h32v16h-32zM862,352h16v16h-16zM1134,368h16v16h-16zM910,384h16v16h-16zM894,400h16v16h-16zM894,416h16v16h-16zM638,448h16v16h-16zM622,464h16v16h-16zM878,464h16v16h-16zM590,480h16v16h-16zM1118,480h16v16h-16zM574,528h16v16h-16zM654,528h32v16h-32zM702,608h16v16h-16zM702,624h16v16h-16zM1342,640h16v16h-16zM1550,656h16v16h-16zM1646,656h16v16h-16zM750,672h16v16h-16zM1006,672h16v16h-16zM1502,672h32v16h-32zM1710,688h16v16h-16zM1502,704h16v16h-16zM1726,704h16v16h-16zM1294,720h16v16h-16zM1470,720h16v16h-16zM1790,736h16v16h-16zM558,752h16v16h-16zM1230,768h16v16h-16zM1262,784h16v16h-16zM1550,784h16v16h-16zM702,816h16v16h-16zM734,832h16v16h-16zM1694,848h16v16h-16zM1550,864h16v16h-16zM910,896h32v16h-32zM878,928h16v16h-16zM958,928h16v16h-16zM958,944h16v16h-16zM1646,992h16v16h-16zM1502,1008h16v16h-16zM1502,1040h16v16h-16zM1582,1120h16v16h-16zM1118,1152h16v16h-16zM846,1200h16v16h-16zM878,1216h16v16h-16zM1454,1232h32v16h-32zM798,1344h16v16h-16zM782,1360h16v16h-16zM910,1424h16v16h-16zM1102,1488h16v16h-16zM910,1504h16v16h-16zM670,1520h16v16h-16zM894,1520h16v16h-16zM862,1536h16v16h-16zM814,1568h16v16h-16zM1214,1568h16v16h-16zM718,1600h48v16h-48zM734,1696h16v16h-16zM654,1840h16v16h-16zM654,1856h16v16h-16zM814,2032h16v16h-16zM798,2112h16v16h-16z" fill="#6c6c6c"/>
<path d="M558,208h32v16h-32zM590,224h16v16h-16zM510,240h16v16h-16zM558,256h16v16h-16zM782,320h16v16h-16zM926,320h16v16h-16zM846,336h16v16h-16zM878,368h16v16h-16zM910,368h16v16h-16zM894,384h16v16h-16zM910,400h16v16h-16zM926,416h16v16h-16zM894,432h16v16h-16zM1054,448h16v16h-16zM1086,464h16v16h-16zM1134,480h16v16h-16zM862,496h16v16h-16zM686,544h16v16h-16zM702,560h16v16h-16zM702,576h16v16h-16zM702,592h16v16h-16zM1374,624h16v16h-16zM1470,624h16v16h-16zM1486,640h16v16h-16zM1582,640h32v16h-32zM990,656h16v16h-16zM1310,656h16v16h-16zM1502,656h16v16h-16zM1294,672h16v16h-16zM1694,672h16v16h-16zM958,688h16v16h-16zM1006,704h16v16h-16zM1486,720h32v16h-32zM1774,720h16v16h-16zM1310,736h32v16h-32zM1518,736h16v16h-16zM1534,752h16v16h-16zM558,784h16v16h-16zM1742,784h16v16h-16zM1710,800h16v16h-16zM894,896h16v16h-16zM878,912h16v16h-16zM1518,912h16v16h-16zM878,944h16v16h-16zM1486,944h16v16h-16zM1646,1040h16v16h-16zM1550,1104h16v16h-16zM1566,1120h16v16h-16zM1598,1120h16v16h-16zM846,1184h16v16h-16zM862,1216h16v16h-16zM830,1296h16v16h-16zM942,1344h16v16h-16zM926,1392h16v16h-16zM654,1424h16v16h-16zM654,1440h16v16h-16zM926,1456h16v16h-16zM926,1472h16v16h-16zM1086,1472h16v16h-16zM1086,1488h16v16h-16zM878,1536h16v16h-16zM1230,1568h16v16h-16zM686,1584h16v16h-16zM702,1600h16v16h-16zM766,1600h16v16h-16zM702,1680h16v16h-16zM782,1952h16v16h-16zM766,2288h16v16h-16zM798,2304h16v16h-16zM798,2320h16v16h-16zM766,2336h16v16h-16z" fill="#6d6d6d"/>
<path d="M510,256h16v16h-16zM974,272h16v16h-16zM830,320h16v16h-16zM910,352h16v16h-16zM894,368h16v16h-16zM1150,384h16v16h-16zM654,400h16v16h-16zM910,416h16v16h-16zM942,432h16v16h-16zM990,448h16v16h-16zM606,464h16v16h-16zM1102,480h16v16h-16zM558,512h16v16h-16zM766,560h16v16h-16zM1406,608h48v16h-48zM1566,640h16v16h-16zM1614,640h16v16h-16zM974,656h16v16h-16zM1518,656h32v16h-32zM1662,656h16v16h-16zM958,672h16v16h-16zM1742,704h16v16h-16zM558,736h16v16h-16zM1294,736h16v16h-16zM1342,736h16v16h-16zM1790,768h16v16h-16zM1662,880h16v16h-16zM942,896h16v16h-16zM1646,896h16v16h-16zM958,912h16v16h-16zM958,960h16v16h-16zM910,976h32v16h-32zM1646,976h16v16h-16zM1502,992h16v16h-16zM910,1200h16v16h-16zM894,1216h16v16h-16zM862,1280h32v16h-32zM814,1312h16v16h-16zM942,1328h16v16h-16zM702,1360h32v16h-32zM942,1360h16v16h-16zM926,1408h16v16h-16zM926,1424h16v16h-16zM926,1440h16v16h-16zM654,1456h16v16h-16zM926,1488h16v16h-16zM910,1520h16v16h-16zM670,1536h16v16h-16zM846,1552h16v16h-16zM798,1584h16v16h-16zM718,1680h16v16h-16zM670,1696h16v16h-16zM750,1712h16v16h-16zM734,1776h16v16h-16zM670,1824h16v16h-16zM686,1840h16v16h-16zM766,1968h16v16h-16zM766,2016h16v16h-16zM782,2032h16v16h-16zM782,2128h16v16h-16zM1070,2224h16v16h-16zM1070,2256h16v16h-16zM750,2288h16v16h-16zM782,2288h16v16h-16zM718,2304h16v16h-16zM718,2320h16v16h-16zM750,2336h16v16h-16zM782,2336h16v16h-16z" fill="#6e6e6e"/>
<path d="M542,208h16v16h-16zM590,208h16v16h-16zM942,288h16v16h-16zM926,304h16v16h-16zM734,336h16v16h-16zM910,336h16v16h-16zM702,352h16v16h-16zM878,352h16v16h-16zM638,432h16v16h-16zM894,448h16v16h-16zM974,448h16v16h-16zM1006,448h16v16h-16zM574,480h16v16h-16zM878,480h16v16h-16zM1150,480h16v16h-16zM558,496h16v16h-16zM558,528h16v16h-16zM622,544h16v16h-16zM654,544h32v16h-32zM782,544h16v16h-16zM686,560h16v16h-16zM1454,608h16v16h-16zM1358,624h16v16h-16zM1486,624h16v16h-16zM1326,640h16v16h-16zM1502,640h16v16h-16zM1550,640h16v16h-16zM1630,640h16v16h-16zM1678,656h16v16h-16zM1726,688h16v16h-16zM958,704h16v16h-16zM1278,704h16v16h-16zM1278,720h16v16h-16zM1438,736h32v16h-32zM1262,752h32v16h-32zM1278,768h16v16h-16zM1758,784h16v16h-16zM622,800h16v16h-16zM718,800h16v16h-16zM750,816h16v16h-16zM1710,816h16v16h-16zM702,832h16v16h-16zM1534,896h16v16h-16zM878,960h16v16h-16zM1646,960h16v16h-16zM494,1024h16v16h-16zM1646,1056h16v16h-16zM1630,1104h16v16h-16zM1614,1120h16v16h-16zM1150,1168h16v16h-16zM846,1216h16v16h-16zM894,1280h16v16h-16zM734,1360h48v16h-48zM942,1376h16v16h-16zM654,1408h16v16h-16zM926,1504h16v16h-16zM894,1536h16v16h-16zM670,1552h16v16h-16zM862,1552h16v16h-16zM1214,1584h16v16h-16zM686,1600h16v16h-16zM686,1680h16v16h-16zM750,1760h16v16h-16zM670,1776h16v16h-16zM686,1792h32v16h-32zM654,1824h16v16h-16zM638,1840h16v16h-16zM638,1856h16v16h-16zM686,1856h16v16h-16zM654,1872h32v16h-32zM830,1952h16v16h-16zM686,2096h16v16h-16zM798,2096h16v16h-16zM686,2128h16v16h-16zM990,2224h16v16h-16zM1086,2240h16v16h-16zM990,2256h16v16h-16zM734,2288h16v16h-16zM734,2336h16v16h-16z" fill="#6f6f6f"/>
<path d="M510,224h16v16h-16zM814,304h32v16h-32zM766,320h16v16h-16zM846,320h16v16h-16zM862,336h16v16h-16zM894,352h16v16h-16zM1134,352h16v16h-16zM1166,416h16v16h-16zM910,432h32v16h-32zM1166,432h16v16h-16zM622,448h16v16h-16zM1038,448h16v16h-16zM590,464h16v16h-16zM846,512h16v16h-16zM814,528h16v16h-16zM590,544h32v16h-32zM638,544h16v16h-16zM766,576h16v16h-16zM766,592h16v16h-16zM766,608h16v16h-16zM1390,608h16v16h-16zM1518,640h32v16h-32zM686,656h16v16h-16zM686,672h16v16h-16zM1710,672h16v16h-16zM1022,688h16v16h-16zM1278,688h16v16h-16zM526,704h32v16h-32zM718,704h16v16h-16zM558,720h16v16h-16zM990,720h16v16h-16zM1278,736h16v16h-16zM1358,736h16v16h-16zM1422,736h16v16h-16zM1470,736h16v16h-16zM1246,752h16v16h-16zM526,784h16v16h-16zM638,800h16v16h-16zM734,800h16v16h-16zM750,832h16v16h-16zM1710,832h16v16h-16zM1694,864h16v16h-16zM910,880h16v16h-16zM878,896h16v16h-16zM1646,912h16v16h-16zM894,976h16v16h-16zM942,976h16v16h-16zM478,1024h16v16h-16zM494,1040h16v16h-16zM1550,1120h16v16h-16zM1150,1152h16v16h-16zM910,1184h16v16h-16zM1022,1216h16v16h-16zM1454,1216h32v16h-32zM846,1280h16v16h-16zM926,1296h16v16h-16zM942,1312h16v16h-16zM670,1376h16v16h-16zM942,1392h16v16h-16zM942,1440h16v16h-16zM942,1456h16v16h-16zM654,1472h16v16h-16zM942,1472h16v16h-16zM942,1488h16v16h-16zM926,1520h16v16h-16zM670,1568h16v16h-16zM830,1568h16v16h-16zM1230,1584h16v16h-16zM782,1600h16v16h-16zM702,1616h32v16h-32zM654,1728h16v16h-16zM686,1824h16v16h-16zM846,1984h16v16h-16zM798,2288h16v16h-16zM814,2304h16v16h-16zM814,2320h16v16h-16zM798,2336h16v16h-16z" fill="#707070"/>
<path d="M590,240h16v16h-16zM958,272h16v16h-16zM798,304h16v16h-16zM846,304h16v16h-16zM862,320h16v16h-16zM910,320h16v16h-16zM878,336h32v16h-32zM638,416h16v16h-16zM958,448h16v16h-16zM1022,448h16v16h-16zM1166,448h16v16h-16zM574,544h16v16h-16zM686,576h16v16h-16zM686,592h16v16h-16zM1374,608h16v16h-16zM1470,608h16v16h-16zM766,624h16v16h-16zM1342,624h16v16h-16zM686,640h16v16h-16zM1646,640h16v16h-16zM1294,656h16v16h-16zM1694,656h16v16h-16zM750,688h16v16h-16zM734,704h16v16h-16zM1758,704h16v16h-16zM510,720h16v16h-16zM974,720h16v16h-16zM1374,736h48v16h-48zM1486,736h32v16h-32zM1294,752h16v16h-16zM1214,768h16v16h-16zM1214,784h16v16h-16zM1278,784h16v16h-16zM702,800h16v16h-16zM1246,800h16v16h-16zM926,880h16v16h-16zM1678,880h16v16h-16zM862,928h16v16h-16zM1486,928h16v16h-16zM1646,928h16v16h-16zM1326,944h16v16h-16zM1646,944h16v16h-16zM478,1040h16v16h-16zM1534,1088h16v16h-16zM1022,1232h16v16h-16zM798,1328h16v16h-16zM686,1360h16v16h-16zM942,1408h16v16h-16zM942,1424h16v16h-16zM654,1488h16v16h-16zM942,1504h16v16h-16zM910,1536h16v16h-16zM878,1552h16v16h-16zM1198,1568h16v16h-16zM814,1584h16v16h-16zM686,1616h16v16h-16zM734,1616h32v16h-32zM702,1664h16v16h-16zM654,1744h16v16h-16zM718,1792h16v16h-16zM670,1808h32v16h-32zM846,2000h16v16h-16zM670,2112h16v16h-16zM974,2240h16v16h-16z" fill="#717171"/>
<path d="M526,208h16v16h-16zM494,240h16v16h-16zM574,256h16v16h-16zM926,288h16v16h-16zM910,304h16v16h-16zM670,368h16v16h-16zM1150,368h16v16h-16zM654,384h16v16h-16zM1166,400h16v16h-16zM894,464h16v16h-16zM1166,464h16v16h-16zM1118,496h32v16h-32zM670,560h16v16h-16zM1134,592h16v16h-16zM1422,592h32v16h-32zM686,608h16v16h-16zM1134,608h16v16h-16zM686,624h16v16h-16zM1502,624h16v16h-16zM1566,624h48v16h-48zM766,640h16v16h-16zM1310,640h16v16h-16zM1662,640h16v16h-16zM1006,656h16v16h-16zM1278,672h16v16h-16zM1022,704h16v16h-16zM1006,720h16v16h-16zM510,736h16v16h-16zM1310,752h16v16h-16zM1230,800h16v16h-16zM1726,800h16v16h-16zM686,816h16v16h-16zM1710,848h16v16h-16zM894,880h16v16h-16zM958,896h16v16h-16zM862,912h16v16h-16zM1502,912h16v16h-16zM974,928h16v16h-16zM862,944h16v16h-16zM974,944h16v16h-16zM1326,960h16v16h-16zM1630,1120h16v16h-16zM1102,1152h16v16h-16zM862,1168h32v16h-32zM1102,1168h16v16h-16zM830,1200h16v16h-16zM910,1216h16v16h-16zM878,1232h16v16h-16zM1454,1248h32v16h-32zM910,1280h16v16h-16zM782,1344h16v16h-16zM958,1344h16v16h-16zM958,1360h16v16h-16zM654,1392h16v16h-16zM1118,1472h16v16h-16zM1118,1488h16v16h-16zM654,1504h16v16h-16zM894,1552h16v16h-16zM846,1568h16v16h-16zM670,1584h16v16h-16zM702,1632h16v16h-16zM686,1664h16v16h-16zM670,1680h16v16h-16zM734,1680h16v16h-16zM750,1696h16v16h-16zM654,1712h16v16h-16zM670,1792h16v16h-16zM686,1872h16v16h-16zM702,2144h32v16h-32zM718,2288h16v16h-16zM702,2304h16v16h-16zM702,2320h16v16h-16zM718,2336h16v16h-16z" fill="#727272"/>
<path d="M606,208h16v16h-16zM606,224h16v16h-16zM494,256h16v16h-16zM990,256h16v16h-16zM526,272h32v16h-32zM814,288h48v16h-48zM782,304h16v16h-16zM862,304h16v16h-16zM878,320h32v16h-32zM1134,336h16v16h-16zM622,432h16v16h-16zM606,448h16v16h-16zM910,448h16v16h-16zM942,448h16v16h-16zM558,480h16v16h-16zM1086,480h16v16h-16zM1102,496h16v16h-16zM542,512h16v16h-16zM1118,592h16v16h-16zM1406,592h16v16h-16zM1454,592h16v16h-16zM1118,608h16v16h-16zM1358,608h16v16h-16zM1486,608h16v16h-16zM1518,624h16v16h-16zM1550,624h16v16h-16zM1614,624h16v16h-16zM686,688h16v16h-16zM1742,688h16v16h-16zM702,704h16v16h-16zM1790,720h16v16h-16zM1262,736h16v16h-16zM1230,752h16v16h-16zM1294,768h16v16h-16zM606,800h16v16h-16zM910,800h16v16h-16zM1262,800h16v16h-16zM942,880h16v16h-16zM1310,944h16v16h-16zM1310,960h16v16h-16zM1486,960h16v16h-16zM958,976h16v16h-16zM478,1008h32v16h-32zM1502,1056h16v16h-16zM1646,1072h16v16h-16zM1550,1136h32v16h-32zM830,1184h16v16h-16zM862,1232h16v16h-16zM1038,1232h16v16h-16zM878,1264h16v16h-16zM830,1280h16v16h-16zM814,1296h16v16h-16zM958,1328h16v16h-16zM958,1376h16v16h-16zM958,1440h16v16h-16zM958,1456h16v16h-16zM958,1472h16v16h-16zM958,1488h16v16h-16zM654,1520h16v16h-16zM942,1520h16v16h-16zM926,1536h16v16h-16zM1214,1552h16v16h-16zM862,1568h16v16h-16zM1246,1568h16v16h-16zM1198,1584h16v16h-16zM670,1600h16v16h-16zM798,1600h16v16h-16zM766,1616h16v16h-16zM686,1632h16v16h-16zM718,1632h16v16h-16zM686,1648h32v16h-32zM718,1664h16v16h-16zM654,1760h16v16h-16zM750,1776h16v16h-16zM654,1808h16v16h-16zM702,1808h16v16h-16zM638,1824h16v16h-16zM702,1824h16v16h-16zM702,1840h16v16h-16zM702,1856h16v16h-16zM638,1872h16v16h-16zM846,1968h16v16h-16zM830,2032h16v16h-16zM734,2080h32v16h-32zM814,2112h16v16h-16zM798,2128h16v16h-16zM734,2144h16v16h-16zM814,2288h16v16h-16zM814,2336h16v16h-16z" fill="#737373"/>
<path d="M574,192h16v16h-16zM974,256h16v16h-16zM510,272h16v16h-16zM942,272h16v16h-16zM862,288h16v16h-16zM910,288h16v16h-16zM878,304h32v16h-32zM1166,384h16v16h-16zM638,400h16v16h-16zM926,448h16v16h-16zM574,464h16v16h-16zM1166,480h16v16h-16zM1150,496h16v16h-16zM542,528h16v16h-16zM558,544h16v16h-16zM654,560h16v16h-16zM782,560h16v16h-16zM1150,592h16v16h-16zM1390,592h16v16h-16zM1470,592h16v16h-16zM1150,608h16v16h-16zM1502,608h16v16h-16zM1326,624h16v16h-16zM1534,624h16v16h-16zM1630,624h16v16h-16zM990,640h16v16h-16zM766,656h16v16h-16zM958,656h16v16h-16zM334,704h16v16h-16zM334,720h16v16h-16zM958,720h16v16h-16zM1262,720h16v16h-16zM510,752h16v16h-16zM1806,752h16v16h-16zM574,768h16v16h-16zM574,784h16v16h-16zM622,784h16v16h-16zM1774,784h16v16h-16zM654,800h16v16h-16zM750,800h16v16h-16zM878,880h16v16h-16zM1534,880h16v16h-16zM1694,880h16v16h-16zM862,896h16v16h-16zM1662,896h16v16h-16zM974,912h16v16h-16zM862,960h16v16h-16zM974,960h16v16h-16zM878,976h16v16h-16zM926,992h16v16h-16zM494,1056h16v16h-16zM1518,1072h16v16h-16zM1134,1136h16v16h-16zM1582,1136h16v16h-16zM894,1168h16v16h-16zM926,1200h16v16h-16zM1470,1200h16v16h-16zM1038,1216h16v16h-16zM1486,1216h16v16h-16zM894,1232h16v16h-16zM1438,1232h16v16h-16zM1486,1232h16v16h-16zM862,1264h16v16h-16zM942,1296h16v16h-16zM702,1344h16v16h-16zM670,1360h16v16h-16zM958,1392h16v16h-16zM958,1408h16v16h-16zM958,1424h16v16h-16zM958,1504h16v16h-16zM654,1536h16v16h-16zM910,1552h16v16h-16zM1230,1552h16v16h-16zM830,1584h16v16h-16zM670,1616h16v16h-16zM734,1632h16v16h-16zM718,1648h16v16h-16zM766,1728h16v16h-16zM766,1744h16v16h-16zM734,1792h16v16h-16zM798,1936h32v16h-32zM718,2080h16v16h-16zM766,2080h16v16h-16zM670,2128h16v16h-16zM686,2144h16v16h-16zM750,2144h16v16h-16zM686,2160h32v16h-32zM1086,2224h16v16h-16zM1086,2256h16v16h-16zM750,2272h32v16h-32zM830,2304h16v16h-16zM830,2320h16v16h-16zM750,2352h32v16h-32z" fill="#747474"/>
<path d="M558,192h16v16h-16zM590,192h16v16h-16zM494,224h16v16h-16zM798,288h16v16h-16zM878,288h32v16h-32zM750,320h16v16h-16zM718,336h16v16h-16zM1150,352h16v16h-16zM1070,464h16v16h-16zM542,496h16v16h-16zM878,496h16v16h-16zM798,544h16v16h-16zM670,576h16v16h-16zM1374,592h16v16h-16zM1134,624h16v16h-16zM1646,624h16v16h-16zM1294,640h16v16h-16zM1278,656h16v16h-16zM1022,672h16v16h-16zM318,704h16v16h-16zM558,704h16v16h-16zM1774,704h16v16h-16zM318,720h16v16h-16zM1806,736h16v16h-16zM1326,752h16v16h-16zM1454,752h16v16h-16zM638,784h16v16h-16zM686,800h16v16h-16zM894,800h16v16h-16zM926,800h16v16h-16zM622,816h32v16h-32zM1534,816h16v16h-16zM686,832h16v16h-16zM1534,832h16v16h-16zM718,848h32v16h-32zM910,864h16v16h-16zM1710,864h16v16h-16zM910,992h16v16h-16zM462,1024h16v16h-16zM1486,1040h16v16h-16zM478,1056h16v16h-16zM1534,1104h16v16h-16zM1534,1120h16v16h-16zM1118,1136h16v16h-16zM1534,1136h16v16h-16zM1598,1136h16v16h-16zM1534,1152h16v16h-16zM846,1168h16v16h-16zM926,1184h16v16h-16zM1022,1200h16v16h-16zM1454,1200h16v16h-16zM830,1216h16v16h-16zM1006,1216h16v16h-16zM846,1232h16v16h-16zM878,1248h16v16h-16zM1022,1248h32v16h-32zM846,1264h16v16h-16zM894,1264h16v16h-16zM958,1312h16v16h-16zM686,1344h16v16h-16zM718,1344h16v16h-16zM654,1376h16v16h-16zM638,1424h16v16h-16zM638,1440h16v16h-16zM974,1472h16v16h-16zM1070,1472h16v16h-16zM1070,1488h16v16h-16zM958,1520h16v16h-16zM942,1536h16v16h-16zM654,1552h16v16h-16zM654,1568h16v16h-16zM878,1568h16v16h-16zM1246,1584h16v16h-16zM782,1616h16v16h-16zM670,1632h16v16h-16zM750,1632h16v16h-16zM734,1648h16v16h-16zM670,1664h16v16h-16zM734,1664h16v16h-16zM654,1696h16v16h-16zM654,1776h16v16h-16zM654,1792h16v16h-16zM718,1808h16v16h-16zM622,1840h16v16h-16zM654,1888h32v16h-32zM766,1952h16v16h-16zM846,2016h16v16h-16zM670,2096h16v16h-16zM814,2096h16v16h-16zM718,2160h16v16h-16zM686,2176h32v16h-32zM974,2224h16v16h-16zM974,2256h16v16h-16zM734,2272h16v16h-16zM702,2288h16v16h-16zM702,2336h16v16h-16zM734,2352h16v16h-16zM782,2352h16v16h-16z" fill="#757575"/>
<path d="M542,192h16v16h-16zM606,192h16v16h-16zM510,208h16v16h-16zM958,256h16v16h-16zM830,272h48v16h-48zM926,272h16v16h-16zM686,352h16v16h-16zM622,416h16v16h-16zM590,448h16v16h-16zM910,464h16v16h-16zM894,480h16v16h-16zM1086,496h16v16h-16zM638,560h16v16h-16zM1118,576h32v16h-32zM1406,576h64v16h-64zM1102,592h16v16h-16zM1486,592h16v16h-16zM1102,608h16v16h-16zM1342,608h16v16h-16zM1518,608h48v16h-48zM1118,624h16v16h-16zM1310,624h16v16h-16zM974,640h16v16h-16zM1006,640h16v16h-16zM766,672h16v16h-16zM942,688h16v16h-16zM1758,688h16v16h-16zM510,704h16v16h-16zM1262,704h16v16h-16zM318,736h32v16h-32zM1246,736h16v16h-16zM574,752h16v16h-16zM1470,752h16v16h-16zM1806,768h16v16h-16zM606,784h16v16h-16zM910,784h16v16h-16zM670,800h16v16h-16zM1214,800h16v16h-16zM654,816h32v16h-32zM766,816h16v16h-16zM910,816h16v16h-16zM1726,816h16v16h-16zM894,864h16v16h-16zM926,864h16v16h-16zM1518,896h16v16h-16zM1678,896h16v16h-16zM846,912h16v16h-16zM846,928h16v16h-16zM1310,928h32v16h-32zM894,992h16v16h-16zM942,992h16v16h-16zM462,1040h16v16h-16zM510,1040h16v16h-16zM1646,1088h16v16h-16zM1614,1136h16v16h-16zM1518,1152h16v16h-16zM1486,1168h48v16h-48zM1134,1184h16v16h-16zM1486,1184h32v16h-32zM1486,1200h16v16h-16zM1438,1216h16v16h-16zM862,1248h16v16h-16zM926,1280h16v16h-16zM798,1312h16v16h-16zM766,1344h16v16h-16zM974,1344h16v16h-16zM974,1360h16v16h-16zM974,1424h16v16h-16zM974,1440h16v16h-16zM638,1456h16v16h-16zM974,1456h16v16h-16zM638,1472h16v16h-16zM974,1488h16v16h-16zM974,1504h16v16h-16zM926,1552h16v16h-16zM1198,1552h16v16h-16zM654,1584h16v16h-16zM846,1584h16v16h-16zM814,1600h16v16h-16zM670,1648h16v16h-16zM750,1680h16v16h-16zM766,1712h16v16h-16zM766,1760h16v16h-16zM638,1808h16v16h-16zM622,1856h16v16h-16zM702,1872h16v16h-16zM750,1984h16v16h-16zM750,2000h16v16h-16zM766,2032h16v16h-16zM798,2048h16v16h-16zM702,2080h16v16h-16zM782,2080h16v16h-16zM670,2144h16v16h-16zM670,2160h16v16h-16zM670,2176h16v16h-16zM1102,2240h16v16h-16zM686,2304h16v16h-16zM686,2320h16v16h-16zM798,2352h16v16h-16z" fill="#767676"/>
<path d="M622,208h16v16h-16zM478,240h16v16h-16zM478,256h16v16h-16zM494,272h16v16h-16zM558,272h16v16h-16zM814,272h16v16h-16zM878,272h48v16h-48zM766,304h16v16h-16zM1166,368h16v16h-16zM606,432h16v16h-16zM958,464h32v16h-32zM1166,496h16v16h-16zM862,512h16v16h-16zM1118,512h32v16h-32zM830,528h16v16h-16zM542,544h16v16h-16zM782,576h16v16h-16zM1150,576h16v16h-16zM1390,576h16v16h-16zM1470,576h16v16h-16zM670,592h16v16h-16zM1150,624h16v16h-16zM334,688h16v16h-16zM750,704h16v16h-16zM942,704h16v16h-16zM350,720h16v16h-16zM1022,720h16v16h-16zM574,736h16v16h-16zM974,736h32v16h-32zM1214,752h16v16h-16zM1438,752h16v16h-16zM1518,752h16v16h-16zM510,768h16v16h-16zM590,784h16v16h-16zM926,784h16v16h-16zM1198,784h16v16h-16zM1294,784h16v16h-16zM1278,800h16v16h-16zM894,816h16v16h-16zM926,816h16v16h-16zM766,832h16v16h-16zM702,848h16v16h-16zM750,848h16v16h-16zM862,880h16v16h-16zM958,880h16v16h-16zM846,944h16v16h-16zM974,976h16v16h-16zM1326,976h16v16h-16zM462,1008h16v16h-16zM510,1024h16v16h-16zM1486,1024h16v16h-16zM1646,1104h16v16h-16zM1150,1136h16v16h-16zM1630,1136h16v16h-16zM1502,1152h16v16h-16zM1550,1152h16v16h-16zM910,1168h16v16h-16zM1166,1168h16v16h-16zM1534,1168h16v16h-16zM1470,1184h16v16h-16zM1518,1184h16v16h-16zM1006,1200h16v16h-16zM846,1248h16v16h-16zM894,1248h16v16h-16zM974,1328h16v16h-16zM670,1344h16v16h-16zM734,1344h32v16h-32zM974,1376h16v16h-16zM974,1392h16v16h-16zM638,1408h16v16h-16zM974,1408h16v16h-16zM638,1488h16v16h-16zM974,1520h16v16h-16zM958,1536h16v16h-16zM894,1568h16v16h-16zM654,1600h16v16h-16zM1214,1600h32v16h-32zM766,1632h16v16h-16zM750,1648h16v16h-16zM654,1680h16v16h-16zM622,1824h16v16h-16zM718,1824h16v16h-16zM686,1888h16v16h-16zM782,1936h16v16h-16zM830,1936h16v16h-16zM846,1952h16v16h-16zM814,2048h16v16h-16zM766,2144h16v16h-16zM734,2160h16v16h-16zM718,2176h16v16h-16zM1022,2208h32v16h-32zM958,2240h16v16h-16zM718,2272h16v16h-16zM1022,2272h32v16h-32zM830,2288h16v16h-16zM830,2336h16v16h-16zM718,2352h16v16h-16z" fill="#777777"/>
<path d="M606,240h16v16h-16zM990,240h32v16h-32zM942,256h16v16h-16zM798,272h16v16h-16zM782,288h16v16h-16zM1150,336h16v16h-16zM654,368h16v16h-16zM638,384h16v16h-16zM926,464h32v16h-32zM1102,512h16v16h-16zM1150,512h16v16h-16zM622,560h16v16h-16zM1166,592h16v16h-16zM1358,592h16v16h-16zM1166,608h16v16h-16zM1326,608h16v16h-16zM1278,640h16v16h-16zM670,656h16v16h-16zM670,672h16v16h-16zM942,672h16v16h-16zM318,688h16v16h-16zM1038,688h16v16h-16zM1262,688h16v16h-16zM350,704h16v16h-16zM686,704h16v16h-16zM574,720h16v16h-16zM718,720h16v16h-16zM1006,736h16v16h-16zM1198,768h16v16h-16zM1310,768h16v16h-16zM654,784h16v16h-16zM718,784h32v16h-32zM894,784h16v16h-16zM1790,784h16v16h-16zM590,800h16v16h-16zM1742,800h16v16h-16zM910,832h16v16h-16zM1726,832h16v16h-16zM910,848h16v16h-16zM1534,848h16v16h-16zM878,864h16v16h-16zM942,864h16v16h-16zM1534,864h16v16h-16zM1710,880h16v16h-16zM846,896h16v16h-16zM974,896h16v16h-16zM1694,896h16v16h-16zM1662,912h16v16h-16zM990,928h16v16h-16zM990,944h16v16h-16zM862,976h16v16h-16zM1694,976h16v16h-16zM958,992h16v16h-16zM1694,992h16v16h-16zM1694,1008h16v16h-16zM1694,1024h16v16h-16zM510,1056h16v16h-16zM1518,1136h16v16h-16zM1166,1152h16v16h-16zM1486,1152h16v16h-16zM1470,1168h16v16h-16zM1118,1184h16v16h-16zM1038,1200h16v16h-16zM1502,1200h16v16h-16zM910,1232h16v16h-16zM830,1264h16v16h-16zM910,1264h16v16h-16zM974,1312h16v16h-16zM782,1328h16v16h-16zM654,1360h16v16h-16zM638,1392h16v16h-16zM990,1440h16v16h-16zM990,1456h16v16h-16zM990,1472h16v16h-16zM990,1488h16v16h-16zM638,1504h16v16h-16zM1102,1504h16v16h-16zM638,1520h16v16h-16zM942,1552h16v16h-16zM1182,1568h16v16h-16zM654,1616h16v16h-16zM798,1616h16v16h-16zM750,1664h16v16h-16zM766,1696h16v16h-16zM638,1728h16v16h-16zM638,1744h16v16h-16zM750,1792h16v16h-16zM718,1840h16v16h-16zM718,1856h16v16h-16zM638,1888h16v16h-16zM750,1968h16v16h-16zM750,2016h16v16h-16zM782,2048h16v16h-16zM798,2080h16v16h-16zM654,2112h16v16h-16zM814,2128h16v16h-16zM654,2160h16v16h-16zM654,2176h16v16h-16zM1006,2208h16v16h-16zM1054,2208h16v16h-16zM1006,2272h16v16h-16zM1054,2272h16v16h-16zM686,2288h16v16h-16zM846,2304h16v16h-16zM846,2320h16v16h-16zM686,2336h16v16h-16zM814,2352h16v16h-16z" fill="#787878"/>
<path d="M526,192h16v16h-16zM622,192h16v16h-16zM478,224h16v16h-16zM622,224h16v16h-16zM974,240h16v16h-16zM830,256h48v16h-48zM926,256h16v16h-16zM1166,352h16v16h-16zM1182,384h16v16h-16zM622,400h16v16h-16zM1182,400h16v16h-16zM558,464h16v16h-16zM542,480h16v16h-16zM526,512h16v16h-16zM1086,512h16v16h-16zM526,528h16v16h-16zM1422,560h16v16h-16zM654,576h16v16h-16zM1102,576h16v16h-16zM1374,576h16v16h-16zM782,592h16v16h-16zM670,608h16v16h-16zM670,624h16v16h-16zM1102,624h16v16h-16zM1294,624h16v16h-16zM670,640h16v16h-16zM526,688h32v16h-32zM766,688h16v16h-16zM302,704h16v16h-16zM1038,704h16v16h-16zM1790,704h16v16h-16zM302,720h16v16h-16zM702,720h16v16h-16zM734,720h16v16h-16zM1806,720h16v16h-16zM350,736h16v16h-16zM318,752h32v16h-32zM1342,752h16v16h-16zM1422,752h16v16h-16zM1486,752h16v16h-16zM702,784h16v16h-16zM542,800h32v16h-32zM766,800h16v16h-16zM942,800h16v16h-16zM606,816h16v16h-16zM894,832h16v16h-16zM926,832h16v16h-16zM894,848h16v16h-16zM926,848h16v16h-16zM1726,848h16v16h-16zM1486,912h16v16h-16zM1678,912h32v16h-32zM1694,928h16v16h-16zM1694,944h16v16h-16zM846,960h16v16h-16zM990,960h16v16h-16zM1694,960h16v16h-16zM1310,976h16v16h-16zM878,992h16v16h-16zM1694,1040h16v16h-16zM462,1056h16v16h-16zM478,1072h32v16h-32zM1646,1120h16v16h-16zM1102,1136h16v16h-16zM830,1168h16v16h-16zM1150,1184h16v16h-16zM1454,1184h16v16h-16zM1518,1200h16v16h-16zM926,1216h16v16h-16zM1502,1216h16v16h-16zM830,1232h16v16h-16zM1006,1232h16v16h-16zM1486,1248h16v16h-16zM1038,1264h16v16h-16zM814,1280h16v16h-16zM958,1296h16v16h-16zM686,1328h16v16h-16zM990,1392h16v16h-16zM990,1408h16v16h-16zM990,1424h16v16h-16zM990,1504h16v16h-16zM1086,1504h16v16h-16zM990,1520h16v16h-16zM638,1536h16v16h-16zM974,1536h16v16h-16zM638,1552h16v16h-16zM1246,1552h16v16h-16zM910,1568h16v16h-16zM862,1584h16v16h-16zM1182,1584h16v16h-16zM830,1600h16v16h-16zM1198,1600h16v16h-16zM654,1632h16v16h-16zM782,1632h16v16h-16zM654,1648h16v16h-16zM654,1664h16v16h-16zM638,1712h16v16h-16zM638,1760h16v16h-16zM766,1776h16v16h-16zM638,1792h16v16h-16zM734,1808h16v16h-16zM622,1872h16v16h-16zM846,2032h16v16h-16zM686,2080h16v16h-16zM830,2112h16v16h-16zM654,2128h16v16h-16zM654,2144h16v16h-16zM782,2144h16v16h-16zM750,2160h16v16h-16zM734,2176h16v16h-16zM686,2192h16v16h-16zM702,2272h16v16h-16zM702,2352h16v16h-16z" fill="#797979"/>
<path d="M574,176h32v16h-32zM494,208h16v16h-16zM958,240h16v16h-16zM590,256h16v16h-16zM814,256h16v16h-16zM878,256h48v16h-48zM1182,368h16v16h-16zM574,448h16v16h-16zM910,480h16v16h-16zM894,496h16v16h-16zM1166,512h16v16h-16zM1118,528h32v16h-32zM606,560h16v16h-16zM1118,560h48v16h-48zM1406,560h16v16h-16zM1166,576h16v16h-16zM1086,592h16v16h-16zM1342,592h16v16h-16zM782,608h16v16h-16zM1086,608h16v16h-16zM990,624h32v16h-32zM1262,672h16v16h-16zM350,688h16v16h-16zM670,688h16v16h-16zM302,736h16v16h-16zM958,736h16v16h-16zM1230,736h16v16h-16zM590,768h16v16h-16zM670,784h32v16h-32zM942,784h16v16h-16zM574,800h16v16h-16zM878,800h16v16h-16zM942,816h16v16h-16zM670,832h16v16h-16zM878,848h16v16h-16zM862,864h16v16h-16zM1726,864h16v16h-16zM846,880h16v16h-16zM1710,896h16v16h-16zM830,912h16v16h-16zM990,912h16v16h-16zM830,928h16v16h-16zM1710,976h16v16h-16zM478,992h16v16h-16zM1710,992h16v16h-16zM1710,1008h16v16h-16zM1710,1024h16v16h-16zM1694,1056h16v16h-16zM1086,1152h16v16h-16zM1470,1152h16v16h-16zM926,1168h16v16h-16zM1086,1168h16v16h-16zM942,1184h16v16h-16zM1534,1184h16v16h-16zM814,1200h16v16h-16zM942,1200h16v16h-16zM1438,1200h16v16h-16zM830,1248h16v16h-16zM910,1248h16v16h-16zM1438,1248h16v16h-16zM1022,1264h16v16h-16zM670,1328h16v16h-16zM702,1328h16v16h-16zM990,1328h16v16h-16zM654,1344h16v16h-16zM990,1344h16v16h-16zM990,1360h16v16h-16zM638,1376h16v16h-16zM990,1376h16v16h-16zM1006,1456h16v16h-16zM1006,1472h16v16h-16zM1006,1488h16v16h-16zM958,1552h16v16h-16zM638,1568h16v16h-16zM1246,1600h16v16h-16zM766,1648h16v16h-16zM766,1680h16v16h-16zM638,1696h16v16h-16zM782,1744h16v16h-16zM638,1776h16v16h-16zM622,1808h16v16h-16zM718,1872h16v16h-16zM702,1888h16v16h-16zM862,1984h16v16h-16zM862,2000h16v16h-16zM830,2048h16v16h-16zM654,2096h16v16h-16zM830,2096h16v16h-16zM670,2192h16v16h-16zM702,2192h32v16h-32zM990,2208h16v16h-16zM1070,2208h16v16h-16zM958,2224h16v16h-16zM750,2256h32v16h-32zM958,2256h16v16h-16zM990,2272h16v16h-16zM1070,2272h16v16h-16zM670,2304h16v16h-16zM670,2320h16v16h-16zM846,2336h16v16h-16zM830,2352h16v16h-16zM750,2368h48v16h-48z" fill="#7a7a7a"/>
<path d="M558,176h16v16h-16zM606,176h16v16h-16zM510,192h16v16h-16zM638,192h16v16h-16zM638,208h16v16h-16zM462,240h16v16h-16zM942,240h16v16h-16zM462,256h16v16h-16zM798,256h16v16h-16zM478,272h16v16h-16zM782,272h16v16h-16zM734,320h16v16h-16zM1166,336h16v16h-16zM606,416h16v16h-16zM1182,416h16v16h-16zM590,432h16v16h-16zM990,464h16v16h-16zM1182,480h16v16h-16zM526,496h16v16h-16zM1070,496h16v16h-16zM1182,496h16v16h-16zM1070,512h16v16h-16zM1102,528h16v16h-16zM1150,528h16v16h-16zM526,544h16v16h-16zM1134,544h16v16h-16zM1390,560h16v16h-16zM1358,576h16v16h-16zM1310,608h16v16h-16zM782,624h16v16h-16zM1278,624h16v16h-16zM958,640h16v16h-16zM1118,640h32v16h-32zM1262,656h16v16h-16zM318,672h32v16h-32zM302,688h16v16h-16zM574,704h16v16h-16zM494,720h16v16h-16zM942,720h16v16h-16zM1246,720h16v16h-16zM1502,752h16v16h-16zM1822,752h16v16h-16zM1534,768h16v16h-16zM750,784h16v16h-16zM1198,800h16v16h-16zM878,816h16v16h-16zM1246,816h16v16h-16zM942,832h16v16h-16zM686,848h16v16h-16zM766,848h16v16h-16zM942,848h16v16h-16zM958,864h16v16h-16zM1726,880h16v16h-16zM830,896h16v16h-16zM1710,912h16v16h-16zM1470,928h16v16h-16zM1678,928h16v16h-16zM1710,928h16v16h-16zM830,944h16v16h-16zM1470,944h16v16h-16zM1710,944h16v16h-16zM1710,960h16v16h-16zM1486,976h16v16h-16zM494,992h16v16h-16zM910,1008h32v16h-32zM1710,1040h16v16h-16zM1486,1056h16v16h-16zM510,1072h16v16h-16zM1694,1072h16v16h-16zM1502,1136h16v16h-16zM1646,1136h16v16h-16zM1566,1152h16v16h-16zM1454,1168h16v16h-16zM814,1184h16v16h-16zM1022,1184h16v16h-16zM1502,1232h16v16h-16zM942,1280h16v16h-16zM798,1296h16v16h-16zM990,1312h16v16h-16zM638,1360h16v16h-16zM622,1408h16v16h-16zM622,1424h16v16h-16zM1006,1424h16v16h-16zM622,1440h16v16h-16zM1006,1440h16v16h-16zM622,1456h16v16h-16zM622,1472h16v16h-16zM1054,1472h16v16h-16zM622,1488h16v16h-16zM1054,1488h16v16h-16zM1006,1504h16v16h-16zM1070,1504h16v16h-16zM1118,1504h16v16h-16zM1006,1520h16v16h-16zM990,1536h16v16h-16zM1182,1552h16v16h-16zM926,1568h16v16h-16zM1262,1568h16v16h-16zM638,1584h16v16h-16zM878,1584h16v16h-16zM1262,1584h16v16h-16zM638,1600h16v16h-16zM814,1616h16v16h-16zM766,1664h16v16h-16zM782,1728h16v16h-16zM782,1760h16v16h-16zM734,1824h16v16h-16zM654,1904h48v16h-48zM798,1920h32v16h-32zM766,1936h16v16h-16zM862,1968h16v16h-16zM798,2064h16v16h-16zM814,2080h16v16h-16zM638,2160h16v16h-16zM638,2176h16v16h-16zM750,2176h16v16h-16zM654,2192h16v16h-16zM734,2256h16v16h-16zM686,2272h16v16h-16zM670,2288h16v16h-16zM862,2320h16v16h-16zM670,2336h16v16h-16zM686,2352h16v16h-16zM734,2368h16v16h-16zM798,2368h16v16h-16z" fill="#7b7b7b"/>
<path d="M542,176h16v16h-16zM622,176h16v16h-16zM478,208h16v16h-16zM990,224h32v16h-32zM830,240h64v16h-64zM910,240h32v16h-32zM766,288h16v16h-16zM702,336h16v16h-16zM670,352h16v16h-16zM1182,352h16v16h-16zM622,384h16v16h-16zM926,480h48v16h-48zM1070,480h16v16h-16zM1086,528h16v16h-16zM1166,528h16v16h-16zM814,544h16v16h-16zM1102,544h32v16h-32zM1150,544h16v16h-16zM558,560h48v16h-48zM798,560h16v16h-16zM1102,560h16v16h-16zM1166,560h16v16h-16zM1374,560h16v16h-16zM1086,576h16v16h-16zM1182,592h16v16h-16zM1022,624h16v16h-16zM1166,624h16v16h-16zM782,640h16v16h-16zM1022,640h16v16h-16zM1262,640h16v16h-16zM1022,656h16v16h-16zM510,688h16v16h-16zM558,688h16v16h-16zM670,704h16v16h-16zM686,720h16v16h-16zM750,720h16v16h-16zM1022,736h16v16h-16zM1822,736h16v16h-16zM302,752h16v16h-16zM350,752h16v16h-16zM974,752h32v16h-32zM1198,752h16v16h-16zM1406,752h16v16h-16zM318,768h16v16h-16zM606,768h48v16h-48zM926,768h16v16h-16zM1822,768h16v16h-16zM1806,784h16v16h-16zM1534,800h16v16h-16zM782,816h16v16h-16zM1230,816h16v16h-16zM1262,816h16v16h-16zM782,832h16v16h-16zM878,832h16v16h-16zM862,848h16v16h-16zM846,864h16v16h-16zM830,880h16v16h-16zM974,880h16v16h-16zM1502,896h16v16h-16zM1726,896h16v16h-16zM1310,912h16v16h-16zM1662,928h16v16h-16zM1678,944h16v16h-16zM846,976h16v16h-16zM990,976h16v16h-16zM462,992h16v16h-16zM862,992h16v16h-16zM974,992h16v16h-16zM1726,992h16v16h-16zM510,1008h16v16h-16zM942,1008h16v16h-16zM1486,1008h16v16h-16zM446,1024h16v16h-16zM446,1040h16v16h-16zM1710,1056h16v16h-16zM462,1072h16v16h-16zM494,1088h16v16h-16zM1694,1088h16v16h-16zM1134,1120h16v16h-16zM1518,1120h16v16h-16zM1166,1136h16v16h-16zM878,1152h16v16h-16zM1550,1168h16v16h-16zM1006,1184h16v16h-16zM1438,1184h16v16h-16zM990,1200h16v16h-16zM1534,1200h16v16h-16zM814,1216h16v16h-16zM1518,1216h16v16h-16zM974,1296h16v16h-16zM654,1328h16v16h-16zM718,1328h16v16h-16zM638,1344h16v16h-16zM1006,1344h16v16h-16zM1006,1360h16v16h-16zM1006,1376h16v16h-16zM622,1392h16v16h-16zM1006,1392h16v16h-16zM1006,1408h16v16h-16zM1086,1456h32v16h-32zM1022,1472h16v16h-16zM1022,1488h16v16h-16zM1134,1488h16v16h-16zM622,1504h16v16h-16zM1022,1504h16v16h-16zM622,1520h16v16h-16zM622,1536h16v16h-16zM974,1552h16v16h-16zM846,1600h16v16h-16zM1182,1600h16v16h-16zM638,1616h16v16h-16zM638,1632h16v16h-16zM798,1632h16v16h-16zM782,1648h16v16h-16zM638,1680h16v16h-16zM782,1712h16v16h-16zM766,1792h16v16h-16zM750,1808h16v16h-16zM606,1840h16v16h-16zM734,1840h16v16h-16zM734,1856h16v16h-16zM718,1888h16v16h-16zM846,1936h16v16h-16zM750,1952h16v16h-16zM862,2016h16v16h-16zM750,2032h16v16h-16zM766,2048h16v16h-16zM766,2064h32v16h-32zM814,2064h16v16h-16zM670,2080h16v16h-16zM830,2128h16v16h-16zM798,2144h16v16h-16zM766,2160h16v16h-16zM734,2192h16v16h-16zM974,2208h16v16h-16zM942,2240h16v16h-16zM718,2256h16v16h-16zM974,2272h16v16h-16zM654,2304h16v16h-16zM654,2320h16v16h-16zM862,2336h16v16h-16zM846,2352h16v16h-16zM718,2368h16v16h-16zM814,2368h16v16h-16z" fill="#7c7c7c"/>
<path d="M526,176h16v16h-16zM638,176h16v16h-16zM494,192h16v16h-16zM654,192h16v16h-16zM462,224h16v16h-16zM958,224h32v16h-32zM814,240h16v16h-16zM894,240h16v16h-16zM574,272h16v16h-16zM526,288h16v16h-16zM750,304h16v16h-16zM638,368h16v16h-16zM1198,368h16v16h-16zM1182,432h16v16h-16zM1182,464h16v16h-16zM974,480h16v16h-16zM878,512h16v16h-16zM1182,512h16v16h-16zM846,528h16v16h-16zM1070,528h16v16h-16zM1166,544h16v16h-16zM542,560h16v16h-16zM1086,560h16v16h-16zM1182,576h16v16h-16zM1326,592h16v16h-16zM1070,608h16v16h-16zM1182,608h16v16h-16zM1294,608h16v16h-16zM974,624h16v16h-16zM1086,624h16v16h-16zM1150,640h16v16h-16zM942,656h16v16h-16zM286,704h16v16h-16zM366,704h16v16h-16zM494,704h16v16h-16zM766,704h16v16h-16zM286,720h16v16h-16zM366,720h16v16h-16zM494,736h16v16h-16zM590,736h16v16h-16zM702,736h48v16h-48zM590,752h16v16h-16zM958,752h16v16h-16zM1006,752h16v16h-16zM1358,752h16v16h-16zM334,768h16v16h-16zM654,768h16v16h-16zM718,768h16v16h-16zM910,768h16v16h-16zM942,768h16v16h-16zM1182,768h16v16h-16zM1454,768h16v16h-16zM510,784h16v16h-16zM878,784h16v16h-16zM958,784h16v16h-16zM1182,784h16v16h-16zM958,800h16v16h-16zM1294,800h16v16h-16zM654,832h16v16h-16zM958,848h16v16h-16zM718,864h32v16h-32zM1726,912h16v16h-16zM1726,928h16v16h-16zM1294,944h16v16h-16zM1342,944h16v16h-16zM1726,944h16v16h-16zM830,960h16v16h-16zM1294,960h16v16h-16zM1342,960h16v16h-16zM1678,960h16v16h-16zM1726,960h16v16h-16zM1726,976h16v16h-16zM446,1008h16v16h-16zM894,1008h16v16h-16zM1470,1040h16v16h-16zM446,1056h16v16h-16zM1710,1072h16v16h-16zM478,1088h16v16h-16zM1518,1088h16v16h-16zM1710,1088h16v16h-16zM1694,1104h16v16h-16zM1118,1120h16v16h-16zM1486,1136h16v16h-16zM862,1152h16v16h-16zM894,1152h16v16h-16zM1182,1152h16v16h-16zM1454,1152h16v16h-16zM1038,1184h16v16h-16zM1054,1248h16v16h-16zM814,1264h16v16h-16zM926,1264h16v16h-16zM1054,1264h16v16h-16zM1022,1280h32v16h-32zM654,1312h48v16h-48zM1006,1312h16v16h-16zM638,1328h16v16h-16zM766,1328h16v16h-16zM1006,1328h16v16h-16zM622,1376h16v16h-16zM1022,1440h16v16h-16zM1022,1456h16v16h-16zM1038,1472h16v16h-16zM1134,1472h16v16h-16zM1038,1488h16v16h-16zM1038,1504h32v16h-32zM1022,1520h16v16h-16zM1006,1536h16v16h-16zM1214,1536h16v16h-16zM622,1552h16v16h-16zM622,1568h16v16h-16zM1166,1568h16v16h-16zM1262,1600h16v16h-16zM1214,1616h32v16h-32zM638,1648h16v16h-16zM638,1664h16v16h-16zM782,1696h16v16h-16zM622,1712h16v16h-16zM622,1728h16v16h-16zM622,1744h16v16h-16zM622,1760h16v16h-16zM622,1776h16v16h-16zM782,1776h16v16h-16zM622,1792h16v16h-16zM606,1824h16v16h-16zM606,1856h16v16h-16zM734,1872h16v16h-16zM622,1888h16v16h-16zM638,1904h16v16h-16zM702,1904h16v16h-16zM782,1920h16v16h-16zM830,1920h16v16h-16zM862,1952h16v16h-16zM734,1984h16v16h-16zM734,2000h16v16h-16zM750,2064h16v16h-16zM830,2080h16v16h-16zM846,2096h16v16h-16zM846,2112h16v16h-16zM638,2144h16v16h-16zM766,2176h16v16h-16zM638,2192h16v16h-16zM750,2192h16v16h-16zM942,2224h16v16h-16zM702,2256h16v16h-16zM942,2256h16v16h-16zM670,2272h16v16h-16zM654,2288h16v16h-16zM654,2336h16v16h-16zM670,2352h16v16h-16zM702,2368h16v16h-16zM830,2368h16v16h-16z" fill="#7d7d7d"/>
<path d="M574,160h64v16h-64zM510,176h16v16h-16zM654,176h16v16h-16zM654,208h16v16h-16zM638,224h16v16h-16zM926,224h32v16h-32zM798,240h16v16h-16zM446,256h16v16h-16zM782,256h16v16h-16zM462,272h16v16h-16zM510,288h16v16h-16zM542,288h16v16h-16zM1198,352h16v16h-16zM1198,384h16v16h-16zM1182,448h16v16h-16zM910,496h16v16h-16zM510,512h16v16h-16zM1054,512h16v16h-16zM510,528h16v16h-16zM1054,528h16v16h-16zM1182,528h16v16h-16zM1086,544h16v16h-16zM1182,560h16v16h-16zM1070,576h16v16h-16zM654,592h16v16h-16zM1070,592h16v16h-16zM1006,608h16v16h-16zM1262,624h16v16h-16zM1102,640h16v16h-16zM782,656h16v16h-16zM350,672h16v16h-16zM654,672h16v16h-16zM654,688h16v16h-16zM590,720h16v16h-16zM670,720h16v16h-16zM1038,720h16v16h-16zM286,736h16v16h-16zM366,736h16v16h-16zM686,736h16v16h-16zM942,736h16v16h-16zM1214,736h16v16h-16zM1374,752h32v16h-32zM302,768h16v16h-16zM670,768h48v16h-48zM734,768h16v16h-16zM958,768h32v16h-32zM766,784h16v16h-16zM1822,784h16v16h-16zM782,800h16v16h-16zM590,816h16v16h-16zM958,816h16v16h-16zM1278,816h16v16h-16zM638,832h16v16h-16zM862,832h16v16h-16zM958,832h16v16h-16zM782,848h16v16h-16zM846,848h16v16h-16zM750,864h16v16h-16zM830,864h16v16h-16zM814,880h16v16h-16zM1518,880h16v16h-16zM1742,880h16v16h-16zM814,896h16v16h-16zM990,896h16v16h-16zM1742,896h16v16h-16zM814,912h16v16h-16zM1326,912h16v16h-16zM1742,912h16v16h-16zM814,928h16v16h-16zM1006,928h16v16h-16zM1294,928h16v16h-16zM1742,928h16v16h-16zM1006,944h16v16h-16zM1662,944h16v16h-16zM1742,944h16v16h-16zM1742,960h16v16h-16zM1742,976h16v16h-16zM1486,992h16v16h-16zM958,1008h16v16h-16zM526,1056h16v16h-16zM510,1088h16v16h-16zM1710,1104h16v16h-16zM1150,1120h16v16h-16zM1694,1120h16v16h-16zM1086,1136h16v16h-16zM846,1152h16v16h-16zM1646,1152h16v16h-16zM942,1168h16v16h-16zM1182,1168h16v16h-16zM958,1184h16v16h-16zM990,1184h16v16h-16zM1102,1184h16v16h-16zM990,1216h16v16h-16zM1422,1216h16v16h-16zM1534,1216h16v16h-16zM814,1232h16v16h-16zM926,1232h16v16h-16zM1054,1232h16v16h-16zM1006,1248h16v16h-16zM990,1296h48v16h-48zM638,1312h16v16h-16zM782,1312h16v16h-16zM1022,1312h16v16h-16zM734,1328h16v16h-16zM1022,1328h16v16h-16zM622,1344h16v16h-16zM1022,1344h16v16h-16zM622,1360h16v16h-16zM1022,1360h16v16h-16zM1022,1376h16v16h-16zM1022,1392h16v16h-16zM606,1408h16v16h-16zM1022,1408h16v16h-16zM606,1424h16v16h-16zM1022,1424h16v16h-16zM606,1440h16v16h-16zM606,1456h16v16h-16zM1070,1456h16v16h-16zM606,1472h16v16h-16zM606,1488h16v16h-16zM606,1504h16v16h-16zM606,1520h16v16h-16zM1038,1520h16v16h-16zM1022,1536h16v16h-16zM1198,1536h16v16h-16zM990,1552h16v16h-16zM942,1568h16v16h-16zM622,1584h16v16h-16zM894,1584h16v16h-16zM1166,1584h16v16h-16zM622,1600h16v16h-16zM622,1616h16v16h-16zM830,1616h16v16h-16zM1198,1616h16v16h-16zM1246,1616h16v16h-16zM782,1664h16v16h-16zM782,1680h16v16h-16zM622,1696h16v16h-16zM798,1744h16v16h-16zM782,1792h16v16h-16zM606,1808h16v16h-16zM766,1808h16v16h-16zM750,1824h16v16h-16zM750,1840h16v16h-16zM654,1920h32v16h-32zM766,1920h16v16h-16zM750,1936h16v16h-16zM734,1968h16v16h-16zM734,2016h16v16h-16zM750,2048h16v16h-16zM718,2064h32v16h-32zM638,2128h16v16h-16zM814,2144h16v16h-16zM782,2160h16v16h-16zM766,2192h16v16h-16zM670,2208h80v16h-80zM958,2208h16v16h-16zM734,2240h32v16h-32zM686,2256h16v16h-16zM654,2272h16v16h-16zM958,2272h16v16h-16zM638,2304h16v16h-16zM638,2320h16v16h-16zM878,2336h16v16h-16zM654,2352h16v16h-16zM862,2352h16v16h-16zM686,2368h16v16h-16zM846,2368h16v16h-16zM734,2384h64v16h-64z" fill="#7e7e7e"/>
<path d="M638,160h32v16h-32zM670,176h16v16h-16zM670,192h16v16h-16zM958,208h48v16h-48zM814,224h112v16h-112zM622,240h16v16h-16zM782,240h16v16h-16zM766,272h16v16h-16zM1214,368h16v16h-16zM606,400h16v16h-16zM558,448h16v16h-16zM542,464h16v16h-16zM926,496h64v16h-64zM1038,512h16v16h-16zM1038,528h16v16h-16zM510,544h16v16h-16zM1054,544h32v16h-32zM1182,544h16v16h-16zM526,560h16v16h-16zM1070,560h16v16h-16zM1358,560h16v16h-16zM638,576h16v16h-16zM1342,576h16v16h-16zM1054,592h16v16h-16zM1198,592h16v16h-16zM990,608h16v16h-16zM1022,608h48v16h-48zM1278,608h16v16h-16zM1038,624h16v16h-16zM1070,624h16v16h-16zM318,656h16v16h-16zM654,656h16v16h-16zM1134,656h16v16h-16zM366,688h16v16h-16zM574,688h16v16h-16zM1054,688h16v16h-16zM590,704h16v16h-16zM654,704h16v16h-16zM1246,704h16v16h-16zM654,720h16v16h-16zM670,736h16v16h-16zM750,736h16v16h-16zM286,752h16v16h-16zM606,752h16v16h-16zM686,752h64v16h-64zM942,752h16v16h-16zM1838,752h16v16h-16zM350,768h16v16h-16zM750,768h16v16h-16zM894,768h16v16h-16zM990,768h16v16h-16zM1326,768h16v16h-16zM1438,768h16v16h-16zM1838,768h16v16h-16zM318,784h16v16h-16zM974,784h16v16h-16zM526,800h16v16h-16zM862,800h16v16h-16zM1758,800h16v16h-16zM862,816h16v16h-16zM1214,816h16v16h-16zM622,832h16v16h-16zM798,832h16v16h-16zM670,848h16v16h-16zM798,848h16v16h-16zM830,848h16v16h-16zM702,864h16v16h-16zM766,864h16v16h-16zM814,864h16v16h-16zM974,864h16v16h-16zM1742,864h16v16h-16zM1758,896h16v16h-16zM1758,912h16v16h-16zM1758,928h16v16h-16zM814,944h16v16h-16zM1758,944h16v16h-16zM1006,960h16v16h-16zM1758,960h16v16h-16zM1678,976h16v16h-16zM878,1008h16v16h-16zM526,1040h16v16h-16zM526,1072h16v16h-16zM1502,1072h16v16h-16zM494,1104h16v16h-16zM1518,1104h16v16h-16zM1102,1120h16v16h-16zM1166,1120h16v16h-16zM1710,1120h16v16h-16zM1182,1136h16v16h-16zM1470,1136h16v16h-16zM1694,1136h32v16h-32zM910,1152h16v16h-16zM1694,1152h16v16h-16zM1070,1168h16v16h-16zM1438,1168h16v16h-16zM974,1184h16v16h-16zM1166,1184h16v16h-16zM958,1200h32v16h-32zM1422,1200h16v16h-16zM1054,1216h16v16h-16zM1422,1232h16v16h-16zM1518,1232h16v16h-16zM814,1248h16v16h-16zM1006,1280h16v16h-16zM1054,1280h16v16h-16zM638,1296h32v16h-32zM1038,1296h16v16h-16zM622,1312h16v16h-16zM702,1312h16v16h-16zM1038,1312h16v16h-16zM622,1328h16v16h-16zM750,1328h16v16h-16zM1038,1328h16v16h-16zM1038,1344h16v16h-16zM1038,1360h16v16h-16zM1038,1376h16v16h-16zM606,1392h16v16h-16zM1038,1456h32v16h-32zM1054,1520h64v16h-64zM606,1536h16v16h-16zM1038,1536h16v16h-16zM1230,1536h16v16h-16zM606,1552h16v16h-16zM1006,1552h16v16h-16zM1166,1552h16v16h-16zM1262,1552h16v16h-16zM606,1568h16v16h-16zM958,1568h16v16h-16zM606,1584h16v16h-16zM1278,1584h16v16h-16zM862,1600h16v16h-16zM1166,1600h16v16h-16zM1182,1616h16v16h-16zM622,1632h16v16h-16zM814,1632h16v16h-16zM622,1648h16v16h-16zM798,1648h16v16h-16zM622,1664h16v16h-16zM622,1680h16v16h-16zM798,1728h16v16h-16zM798,1760h16v16h-16zM798,1776h16v16h-16zM606,1792h16v16h-16zM766,1824h16v16h-16zM750,1856h16v16h-16zM750,1872h16v16h-16zM734,1888h16v16h-16zM718,1904h16v16h-16zM782,1904h64v16h-64zM686,1920h32v16h-32zM846,1920h16v16h-16zM862,1936h16v16h-16zM734,1952h16v16h-16zM878,1968h16v16h-16zM878,1984h16v16h-16zM734,2032h16v16h-16zM686,2064h32v16h-32zM654,2080h16v16h-16zM638,2112h16v16h-16zM798,2160h16v16h-16zM622,2176h16v16h-16zM782,2176h16v16h-16zM1006,2192h64v16h-64zM654,2208h16v16h-16zM750,2208h16v16h-16zM718,2224h32v16h-32zM702,2240h32v16h-32zM926,2240h16v16h-16zM670,2256h16v16h-16zM926,2256h16v16h-16zM638,2288h16v16h-16zM1006,2288h64v16h-64zM638,2336h16v16h-16zM670,2368h16v16h-16zM702,2384h32v16h-32zM798,2384h48v16h-48z" fill="#7f7f7f"/>
<path d="M670,160h32v16h-32zM686,176h16v16h-16zM942,192h48v16h-48zM798,208h160v16h-160zM782,224h32v16h-32zM430,256h16v16h-16zM446,272h16v16h-16zM494,288h16v16h-16zM1214,352h16v16h-16zM622,368h16v16h-16zM1230,368h16v16h-16zM1214,384h16v16h-16zM1198,400h16v16h-16zM1054,464h16v16h-16zM526,480h16v16h-16zM990,496h16v16h-16zM1198,496h16v16h-16zM974,512h64v16h-64zM1198,512h16v16h-16zM1006,528h32v16h-32zM1038,544h16v16h-16zM1054,560h16v16h-16zM798,576h16v16h-16zM1054,576h16v16h-16zM1198,576h16v16h-16zM1022,592h32v16h-32zM1198,608h16v16h-16zM1262,608h16v16h-16zM1054,624h16v16h-16zM1182,624h16v16h-16zM1246,624h16v16h-16zM302,656h16v16h-16zM334,656h16v16h-16zM1118,656h16v16h-16zM526,672h16v16h-16zM782,672h16v16h-16zM638,688h16v16h-16zM638,704h16v16h-16zM1054,704h16v16h-16zM270,720h16v16h-16zM606,720h16v16h-16zM638,720h16v16h-16zM766,720h16v16h-16zM270,736h16v16h-16zM606,736h16v16h-16zM654,736h16v16h-16zM270,752h16v16h-16zM366,752h16v16h-16zM494,752h16v16h-16zM622,752h64v16h-64zM750,752h16v16h-16zM1022,752h16v16h-16zM1182,752h16v16h-16zM286,768h16v16h-16zM1006,768h16v16h-16zM1470,768h16v16h-16zM302,784h16v16h-16zM334,784h16v16h-16zM990,784h16v16h-16zM1310,784h16v16h-16zM1838,784h16v16h-16zM974,800h16v16h-16zM1182,800h16v16h-16zM1838,800h16v16h-16zM798,816h16v16h-16zM974,816h16v16h-16zM1742,816h16v16h-16zM814,832h48v16h-48zM814,848h16v16h-16zM974,848h16v16h-16zM782,864h32v16h-32zM798,880h16v16h-16zM1758,880h16v16h-16zM798,896h16v16h-16zM1774,896h16v16h-16zM798,912h16v16h-16zM1470,912h16v16h-16zM1774,912h32v16h-32zM1774,928h16v16h-16zM830,976h16v16h-16zM1342,976h16v16h-16zM446,992h16v16h-16zM846,992h16v16h-16zM990,992h16v16h-16zM1326,992h16v16h-16zM1678,992h16v16h-16zM1678,1008h16v16h-16zM430,1024h16v16h-16zM1470,1056h16v16h-16zM526,1088h16v16h-16zM510,1104h16v16h-16zM1678,1120h16v16h-16zM1662,1136h32v16h-32zM1070,1152h16v16h-16zM1198,1152h16v16h-16zM1582,1152h16v16h-16zM1630,1152h16v16h-16zM1662,1152h32v16h-32zM814,1168h16v16h-16zM1678,1168h32v16h-32zM1054,1184h16v16h-16zM1550,1184h16v16h-16zM1694,1184h16v16h-16zM1054,1200h16v16h-16zM942,1216h16v16h-16zM926,1248h16v16h-16zM1502,1248h16v16h-16zM1006,1264h16v16h-16zM1470,1264h16v16h-16zM622,1280h32v16h-32zM958,1280h16v16h-16zM622,1296h16v16h-16zM670,1296h16v16h-16zM1054,1296h16v16h-16zM1054,1312h16v16h-16zM1054,1328h16v16h-16zM1054,1344h16v16h-16zM1054,1360h16v16h-16zM1038,1392h16v16h-16zM1038,1440h16v16h-16zM1118,1456h16v16h-16zM590,1488h16v16h-16zM590,1504h16v16h-16zM1134,1504h16v16h-16zM590,1520h16v16h-16zM1118,1520h16v16h-16zM590,1536h16v16h-16zM1054,1536h32v16h-32zM1182,1536h16v16h-16zM590,1552h16v16h-16zM1022,1552h32v16h-32zM590,1568h16v16h-16zM1150,1568h16v16h-16zM1278,1568h16v16h-16zM590,1584h16v16h-16zM910,1584h16v16h-16zM1150,1584h16v16h-16zM590,1600h32v16h-32zM1278,1600h16v16h-16zM606,1616h16v16h-16zM1262,1616h32v16h-32zM606,1632h16v16h-16zM1198,1632h64v16h-64zM606,1648h16v16h-16zM606,1664h16v16h-16zM606,1680h16v16h-16zM606,1696h16v16h-16zM606,1712h16v16h-16zM798,1712h16v16h-16zM606,1728h16v16h-16zM606,1744h16v16h-16zM606,1760h16v16h-16zM814,1760h16v16h-16zM606,1776h16v16h-16zM814,1776h16v16h-16zM798,1792h16v16h-16zM782,1808h32v16h-32zM782,1824h16v16h-16zM766,1840h16v16h-16zM766,1856h16v16h-16zM606,1872h16v16h-16zM766,1872h16v16h-16zM750,1888h80v16h-80zM734,1904h48v16h-48zM846,1904h16v16h-16zM638,1920h16v16h-16zM718,1920h48v16h-48zM862,1920h16v16h-16zM654,1936h96v16h-96zM878,1936h16v16h-16zM718,1952h16v16h-16zM878,1952h16v16h-16zM718,1968h16v16h-16zM718,1984h16v16h-16zM718,2000h16v16h-16zM718,2016h16v16h-16zM734,2048h16v16h-16zM670,2064h16v16h-16zM622,2160h16v16h-16zM622,2192h16v16h-16zM974,2192h32v16h-32zM638,2208h16v16h-16zM654,2224h64v16h-64zM750,2224h16v16h-16zM654,2240h48v16h-48zM638,2256h32v16h-32zM622,2272h32v16h-32zM942,2272h16v16h-16zM622,2288h16v16h-16zM958,2288h48v16h-48zM606,2304h32v16h-32zM606,2320h32v16h-32zM606,2336h32v16h-32zM622,2352h32v16h-32zM638,2368h32v16h-32zM654,2384h48v16h-48z" fill="#808080"/>
<path d="M686,208h16v16h-16zM734,208h32v16h-32zM654,224h16v16h-16zM606,256h16v16h-16zM382,288h32v16h-32zM478,288h16v16h-16zM750,288h16v16h-16zM382,304h16v16h-16zM366,320h16v16h-16zM366,336h16v16h-16zM686,336h16v16h-16zM350,352h32v16h-32zM350,368h16v16h-16zM1246,400h16v16h-16zM1262,416h16v16h-16zM574,432h16v16h-16zM1262,432h16v16h-16zM1278,448h64v16h-64zM1006,464h16v16h-16zM942,512h16v16h-16zM494,528h16v16h-16zM862,528h16v16h-16zM974,528h16v16h-16zM830,544h16v16h-16zM990,544h16v16h-16zM1006,560h16v16h-16zM1006,576h16v16h-16zM1214,576h16v16h-16zM990,592h16v16h-16zM1230,592h16v16h-16zM654,608h16v16h-16zM974,608h16v16h-16zM1230,608h16v16h-16zM654,624h16v16h-16zM1246,640h16v16h-16zM350,656h16v16h-16zM1150,656h16v16h-16zM366,672h16v16h-16zM510,672h16v16h-16zM1118,672h32v16h-32zM606,688h16v16h-16zM382,704h16v16h-16zM382,720h16v16h-16zM926,720h16v16h-16zM766,752h16v16h-16zM350,784h16v16h-16zM862,784h16v16h-16zM334,800h16v16h-16zM846,800h16v16h-16zM1006,800h16v16h-16zM1806,800h16v16h-16zM574,816h16v16h-16zM830,816h16v16h-16zM990,816h16v16h-16zM1198,816h16v16h-16zM1822,816h16v16h-16zM606,832h16v16h-16zM1246,832h32v16h-32zM1518,832h16v16h-16zM654,848h16v16h-16zM1822,848h16v16h-16zM734,880h16v16h-16zM1774,880h32v16h-32zM766,896h16v16h-16zM1486,896h16v16h-16zM782,912h16v16h-16zM798,944h16v16h-16zM430,992h16v16h-16zM1310,992h16v16h-16zM526,1024h16v16h-16zM910,1024h48v16h-48zM1470,1024h16v16h-16zM1454,1040h16v16h-16zM1678,1040h16v16h-16zM1454,1056h16v16h-16zM1678,1056h16v16h-16zM1678,1072h16v16h-16zM542,1088h16v16h-16zM542,1104h16v16h-16zM1118,1104h16v16h-16zM1150,1104h48v16h-48zM542,1120h16v16h-16zM1086,1120h16v16h-16zM1198,1120h64v16h-64zM1502,1120h16v16h-16zM558,1136h16v16h-16zM1070,1136h16v16h-16zM1230,1136h48v16h-48zM574,1152h16v16h-16zM1230,1152h48v16h-48zM1438,1152h16v16h-16zM974,1168h32v16h-32zM1214,1168h16v16h-16zM622,1184h16v16h-16zM622,1200h16v16h-16zM622,1216h16v16h-16zM622,1232h16v16h-16zM638,1248h16v16h-16zM974,1280h32v16h-32zM1070,1280h16v16h-16zM1102,1312h16v16h-16zM1118,1328h32v16h-32zM1118,1344h32v16h-32zM1086,1360h48v16h-48zM1070,1376h16v16h-16zM1054,1392h16v16h-16zM1134,1520h16v16h-16zM1134,1536h32v16h-32zM990,1568h16v16h-16zM1070,1568h64v16h-64zM1294,1568h16v16h-16zM1326,1568h16v16h-16zM1118,1584h16v16h-16zM878,1600h16v16h-16zM1134,1600h16v16h-16zM846,1616h16v16h-16zM1150,1616h16v16h-16zM1150,1632h16v16h-16zM1150,1648h16v16h-16zM1150,1664h16v16h-16zM1134,1680h16v16h-16zM1102,1696h32v16h-32zM814,1712h16v16h-16zM1086,1712h48v16h-48zM1118,1728h32v16h-32zM830,1744h32v16h-32zM1150,1744h32v16h-32zM846,1760h48v16h-48zM558,1776h32v16h-32zM862,1776h32v16h-32zM558,1792h32v16h-32zM878,1792h16v16h-16zM542,1808h48v16h-48zM878,1808h32v16h-32zM542,1824h16v16h-16zM894,1824h16v16h-16zM542,1840h16v16h-16zM590,1840h16v16h-16zM894,1840h32v16h-32zM526,1856h16v16h-16zM926,1856h16v16h-16zM526,1872h16v16h-16zM942,1872h48v16h-48zM526,1888h16v16h-16zM526,1904h16v16h-16zM638,1936h16v16h-16zM510,1952h16v16h-16zM510,1968h16v16h-16zM654,1968h16v16h-16zM510,1984h16v16h-16zM654,1984h16v16h-16zM510,2000h16v16h-16zM654,2000h16v16h-16zM510,2016h16v16h-16zM654,2016h16v16h-16zM510,2032h16v16h-16zM654,2032h16v16h-16zM510,2048h16v16h-16zM654,2048h16v16h-16zM510,2064h16v16h-16zM510,2080h16v16h-16zM510,2096h16v16h-16zM526,2144h16v16h-16zM526,2160h16v16h-16zM526,2176h16v16h-16zM526,2192h16v16h-16zM542,2208h16v16h-16zM542,2224h16v16h-16zM622,2224h16v16h-16zM542,2240h32v16h-32zM606,2240h16v16h-16zM558,2256h64v16h-64zM558,2272h48v16h-48z" fill="#828282"/>
<path d="M702,208h32v16h-32zM750,224h16v16h-16zM414,288h32v16h-32zM462,288h16v16h-16zM398,304h16v16h-16zM734,304h16v16h-16zM382,320h16v16h-16zM382,336h16v16h-16zM590,416h16v16h-16zM1262,448h16v16h-16zM1326,464h16v16h-16zM1198,480h16v16h-16zM1006,496h16v16h-16zM494,512h16v16h-16zM910,512h32v16h-32zM1358,512h16v16h-16zM1358,528h16v16h-16zM494,544h16v16h-16zM990,560h16v16h-16zM1342,560h16v16h-16zM990,576h16v16h-16zM1326,576h16v16h-16zM798,592h16v16h-16zM1294,592h16v16h-16zM1230,624h16v16h-16zM286,640h48v16h-48zM942,640h16v16h-16zM558,672h16v16h-16zM1070,688h16v16h-16zM1246,688h16v16h-16zM782,704h16v16h-16zM478,720h16v16h-16zM382,736h16v16h-16zM926,736h16v16h-16zM1182,736h16v16h-16zM910,752h16v16h-16zM366,768h16v16h-16zM782,768h16v16h-16zM878,768h16v16h-16zM1022,768h16v16h-16zM1422,768h16v16h-16zM798,784h16v16h-16zM1022,784h16v16h-16zM1166,784h16v16h-16zM814,800h32v16h-32zM1022,800h16v16h-16zM1166,800h16v16h-16zM1774,800h16v16h-16zM318,816h16v16h-16zM1006,816h16v16h-16zM1294,816h16v16h-16zM990,832h16v16h-16zM1278,832h16v16h-16zM1742,832h16v16h-16zM1822,832h16v16h-16zM670,864h16v16h-16zM990,864h16v16h-16zM1806,864h16v16h-16zM718,880h16v16h-16zM750,896h16v16h-16zM1310,896h16v16h-16zM782,928h16v16h-16zM1022,944h16v16h-16zM462,976h32v16h-32zM414,992h16v16h-16zM830,992h16v16h-16zM894,1024h16v16h-16zM542,1072h16v16h-16zM1102,1104h16v16h-16zM1198,1104h80v16h-80zM1662,1104h16v16h-16zM558,1120h16v16h-16zM1262,1120h16v16h-16zM942,1152h16v16h-16zM1054,1152h16v16h-16zM1278,1152h16v16h-16zM1614,1152h16v16h-16zM606,1168h32v16h-32zM1230,1168h48v16h-48zM1070,1184h32v16h-32zM1182,1184h16v16h-16zM1662,1184h16v16h-16zM1406,1200h16v16h-16zM1550,1200h16v16h-16zM638,1216h16v16h-16zM1406,1216h16v16h-16zM638,1232h16v16h-16zM1518,1248h16v16h-16zM1662,1248h16v16h-16zM654,1264h16v16h-16zM942,1264h16v16h-16zM670,1280h16v16h-16zM1086,1296h16v16h-16zM718,1312h16v16h-16zM1118,1312h16v16h-16zM1150,1328h16v16h-16zM1150,1344h16v16h-16zM1134,1360h32v16h-32zM1086,1376h16v16h-16zM1054,1440h16v16h-16zM1150,1488h16v16h-16zM1150,1504h16v16h-16zM1150,1520h16v16h-16zM1246,1536h16v16h-16zM1006,1568h64v16h-64zM1310,1568h16v16h-16zM926,1584h16v16h-16zM1102,1584h16v16h-16zM1118,1600h16v16h-16zM1134,1616h16v16h-16zM830,1632h16v16h-16zM814,1648h16v16h-16zM1134,1648h16v16h-16zM1134,1664h16v16h-16zM1118,1680h16v16h-16zM1086,1696h16v16h-16zM1070,1712h16v16h-16zM830,1728h16v16h-16zM1086,1728h32v16h-32zM862,1744h32v16h-32zM1118,1744h32v16h-32zM894,1760h16v16h-16zM894,1776h16v16h-16zM894,1792h16v16h-16zM558,1824h32v16h-32zM910,1824h16v16h-16zM558,1840h16v16h-16zM926,1840h16v16h-16zM542,1856h16v16h-16zM590,1856h16v16h-16zM942,1856h32v16h-32zM1054,1856h16v16h-16zM542,1872h16v16h-16zM526,1920h16v16h-16zM526,1936h16v16h-16zM526,1952h16v16h-16zM638,1952h16v16h-16zM526,2112h16v16h-16zM526,2128h16v16h-16zM622,2144h16v16h-16zM542,2176h16v16h-16zM542,2192h16v16h-16zM606,2192h16v16h-16zM606,2208h16v16h-16zM558,2224h16v16h-16zM606,2224h16v16h-16zM574,2240h32v16h-32z" fill="#838383"/>
<path d="M734,224h16v16h-16zM750,240h16v16h-16zM750,256h16v16h-16zM750,272h16v16h-16zM446,288h16v16h-16zM398,320h16v16h-16zM382,352h16v16h-16zM638,352h16v16h-16zM606,368h16v16h-16zM1214,400h32v16h-32zM1246,416h16v16h-16zM1310,464h16v16h-16zM382,480h16v16h-16zM366,496h16v16h-16zM958,528h16v16h-16zM974,544h16v16h-16zM494,560h16v16h-16zM814,560h16v16h-16zM1214,560h16v16h-16zM526,576h16v16h-16zM974,592h16v16h-16zM1246,592h16v16h-16zM286,624h16v16h-16zM1198,624h16v16h-16zM334,640h16v16h-16zM1038,640h16v16h-16zM1086,640h16v16h-16zM638,656h16v16h-16zM1102,656h16v16h-16zM1246,656h16v16h-16zM622,672h16v16h-16zM926,672h16v16h-16zM1102,672h16v16h-16zM382,688h16v16h-16zM478,704h16v16h-16zM782,720h16v16h-16zM782,736h16v16h-16zM782,752h16v16h-16zM494,768h16v16h-16zM1166,768h16v16h-16zM1454,784h16v16h-16zM1534,784h16v16h-16zM350,800h16v16h-16zM1790,800h16v16h-16zM334,816h16v16h-16zM1182,816h16v16h-16zM1230,832h16v16h-16zM638,848h16v16h-16zM990,848h16v16h-16zM1518,864h16v16h-16zM1758,864h16v16h-16zM702,880h16v16h-16zM734,896h16v16h-16zM1006,896h16v16h-16zM1294,896h16v16h-16zM766,912h16v16h-16zM1022,928h16v16h-16zM1022,960h16v16h-16zM814,976h16v16h-16zM1662,976h16v16h-16zM510,992h16v16h-16zM1006,992h16v16h-16zM846,1008h16v16h-16zM990,1008h16v16h-16zM878,1024h16v16h-16zM958,1024h16v16h-16zM1118,1088h64v16h-64zM1070,1120h16v16h-16zM574,1136h16v16h-16zM862,1136h32v16h-32zM1054,1136h16v16h-16zM1278,1136h16v16h-16zM590,1152h16v16h-16zM958,1152h16v16h-16zM1022,1152h32v16h-32zM1598,1152h16v16h-16zM1278,1168h16v16h-16zM1422,1168h16v16h-16zM1646,1168h16v16h-16zM638,1184h16v16h-16zM1406,1184h16v16h-16zM638,1200h16v16h-16zM798,1200h16v16h-16zM1662,1200h16v16h-16zM1550,1216h16v16h-16zM1662,1216h16v16h-16zM1550,1232h16v16h-16zM1662,1232h16v16h-16zM1534,1248h16v16h-16zM1070,1264h16v16h-16zM1486,1264h16v16h-16zM1646,1280h16v16h-16zM782,1296h16v16h-16zM1102,1296h16v16h-16zM766,1312h16v16h-16zM1134,1312h16v16h-16zM1166,1328h16v16h-16zM1166,1344h16v16h-16zM1166,1360h16v16h-16zM1102,1376h16v16h-16zM1054,1408h16v16h-16zM1166,1520h32v16h-32zM1278,1552h16v16h-16zM1342,1552h16v16h-16zM1086,1584h16v16h-16zM1134,1632h16v16h-16zM814,1664h16v16h-16zM1118,1664h16v16h-16zM1102,1680h16v16h-16zM814,1696h16v16h-16zM1070,1696h16v16h-16zM1054,1712h16v16h-16zM846,1728h16v16h-16zM1070,1728h16v16h-16zM894,1744h16v16h-16zM1102,1744h16v16h-16zM910,1760h16v16h-16zM1134,1760h16v16h-16zM1134,1776h16v16h-16zM910,1808h16v16h-16zM574,1840h16v16h-16zM1070,1840h16v16h-16zM974,1856h16v16h-16zM1038,1856h16v16h-16zM542,1888h16v16h-16zM606,1888h16v16h-16zM526,1968h16v16h-16zM638,1968h16v16h-16zM526,1984h16v16h-16zM638,1984h16v16h-16zM526,2000h16v16h-16zM638,2000h16v16h-16zM526,2016h16v16h-16zM526,2032h16v16h-16zM526,2048h16v16h-16zM526,2064h16v16h-16zM526,2080h16v16h-16zM638,2080h16v16h-16zM526,2096h16v16h-16zM542,2160h16v16h-16zM606,2176h16v16h-16zM558,2208h16v16h-16zM574,2224h32v16h-32z" fill="#848484"/>
<path d="M670,224h16v16h-16zM718,224h16v16h-16zM638,240h16v16h-16zM590,272h16v16h-16zM414,304h16v16h-16zM1198,416h16v16h-16zM1262,464h48v16h-48zM398,480h16v16h-16zM1326,480h16v16h-16zM382,496h16v16h-16zM1214,496h16v16h-16zM1342,496h16v16h-16zM350,512h32v16h-32zM1214,512h16v16h-16zM334,528h16v16h-16zM478,528h16v16h-16zM942,528h16v16h-16zM1214,544h16v16h-16zM974,560h16v16h-16zM510,576h16v16h-16zM542,576h16v16h-16zM622,576h16v16h-16zM974,576h16v16h-16zM1230,576h16v16h-16zM1262,592h32v16h-32zM286,608h16v16h-16zM798,608h16v16h-16zM302,624h16v16h-16zM1214,624h16v16h-16zM494,672h16v16h-16zM574,672h16v16h-16zM1150,672h16v16h-16zM1246,672h16v16h-16zM478,688h16v16h-16zM1134,688h16v16h-16zM478,736h16v16h-16zM1038,736h16v16h-16zM382,752h16v16h-16zM798,768h16v16h-16zM366,784h16v16h-16zM814,784h48v16h-48zM558,816h16v16h-16zM1022,816h16v16h-16zM334,832h16v16h-16zM590,832h16v16h-16zM1006,832h16v16h-16zM1214,832h16v16h-16zM1262,848h32v16h-32zM1518,848h16v16h-16zM1790,864h16v16h-16zM686,880h16v16h-16zM750,912h16v16h-16zM1454,928h16v16h-16zM782,944h16v16h-16zM398,960h16v16h-16zM798,960h16v16h-16zM414,976h48v16h-48zM974,1024h16v16h-16zM542,1056h16v16h-16zM1438,1056h16v16h-16zM1102,1088h16v16h-16zM1182,1088h32v16h-32zM558,1104h16v16h-16zM1086,1104h16v16h-16zM1278,1120h16v16h-16zM846,1136h16v16h-16zM894,1136h16v16h-16zM1038,1136h16v16h-16zM606,1152h16v16h-16zM974,1152h48v16h-48zM638,1168h16v16h-16zM1294,1168h16v16h-16zM1566,1168h16v16h-16zM798,1184h16v16h-16zM1198,1184h16v16h-16zM1390,1200h16v16h-16zM798,1216h16v16h-16zM958,1216h32v16h-32zM990,1232h16v16h-16zM654,1248h16v16h-16zM1422,1248h16v16h-16zM1550,1248h16v16h-16zM798,1264h16v16h-16zM702,1296h16v16h-16zM1630,1296h16v16h-16zM1150,1312h16v16h-16zM1182,1344h16v16h-16zM1182,1360h16v16h-16zM1118,1376h48v16h-48zM1070,1392h16v16h-16zM1054,1424h16v16h-16zM1150,1472h16v16h-16zM1166,1504h16v16h-16zM1198,1520h16v16h-16zM1358,1536h16v16h-16zM1294,1552h16v16h-16zM1326,1552h16v16h-16zM942,1584h16v16h-16zM1070,1584h16v16h-16zM1102,1600h16v16h-16zM1118,1616h16v16h-16zM814,1680h16v16h-16zM1086,1680h16v16h-16zM1054,1696h16v16h-16zM830,1712h16v16h-16zM1038,1712h16v16h-16zM862,1728h16v16h-16zM1054,1728h16v16h-16zM910,1744h16v16h-16zM1118,1760h16v16h-16zM910,1776h16v16h-16zM910,1792h16v16h-16zM926,1824h16v16h-16zM942,1840h16v16h-16zM558,1856h16v16h-16zM990,1856h48v16h-48zM542,1904h16v16h-16zM622,1920h16v16h-16zM638,2016h16v16h-16zM638,2032h16v16h-16zM638,2048h16v16h-16zM638,2064h16v16h-16zM622,2128h16v16h-16zM542,2144h16v16h-16zM558,2192h16v16h-16zM574,2208h32v16h-32z" fill="#858585"/>
<path d="M686,224h32v16h-32zM734,240h16v16h-16zM398,336h16v16h-16zM622,352h16v16h-16zM1246,432h16v16h-16zM542,448h16v16h-16zM398,464h16v16h-16zM526,464h16v16h-16zM510,480h16v16h-16zM398,496h16v16h-16zM494,496h16v16h-16zM1022,496h32v16h-32zM382,512h16v16h-16zM478,512h16v16h-16zM350,528h16v16h-16zM878,528h16v16h-16zM1214,528h16v16h-16zM318,544h16v16h-16zM478,544h16v16h-16zM958,544h16v16h-16zM302,576h16v16h-16zM302,592h16v16h-16zM302,608h16v16h-16zM958,608h16v16h-16zM318,624h16v16h-16zM350,640h16v16h-16zM366,656h16v16h-16zM510,656h32v16h-32zM382,672h16v16h-16zM606,672h16v16h-16zM1086,688h16v16h-16zM1150,688h16v16h-16zM398,704h16v16h-16zM398,720h16v16h-16zM1214,720h16v16h-16zM398,736h16v16h-16zM798,752h16v16h-16zM1166,752h16v16h-16zM382,768h16v16h-16zM1038,800h16v16h-16zM350,816h16v16h-16zM1038,816h16v16h-16zM1806,816h16v16h-16zM1294,832h16v16h-16zM622,848h16v16h-16zM1806,848h16v16h-16zM350,864h16v16h-16zM654,864h16v16h-16zM1774,864h16v16h-16zM1294,880h16v16h-16zM1502,880h16v16h-16zM718,896h16v16h-16zM1278,896h16v16h-16zM1326,896h16v16h-16zM1022,912h16v16h-16zM1278,912h16v16h-16zM382,928h16v16h-16zM766,928h16v16h-16zM1454,944h16v16h-16zM494,976h16v16h-16zM1342,992h16v16h-16zM1662,992h16v16h-16zM862,1024h16v16h-16zM1438,1040h16v16h-16zM1118,1072h32v16h-32zM1486,1072h16v16h-16zM558,1088h16v16h-16zM1086,1088h16v16h-16zM1214,1088h64v16h-64zM1662,1088h16v16h-16zM1070,1104h16v16h-16zM1278,1104h16v16h-16zM1054,1120h16v16h-16zM1486,1120h16v16h-16zM910,1136h16v16h-16zM1022,1136h16v16h-16zM1438,1136h16v16h-16zM814,1152h16v16h-16zM1294,1152h16v16h-16zM1310,1168h16v16h-16zM1214,1184h112v16h-112zM798,1232h16v16h-16zM1646,1264h16v16h-16zM686,1280h16v16h-16zM1086,1280h16v16h-16zM1630,1280h16v16h-16zM734,1312h16v16h-16zM1182,1328h16v16h-16zM1166,1376h16v16h-16zM1070,1440h16v16h-16zM1134,1456h16v16h-16zM1214,1520h16v16h-16zM1310,1552h16v16h-16zM1054,1584h16v16h-16zM894,1600h16v16h-16zM862,1616h16v16h-16zM1118,1632h16v16h-16zM1118,1648h16v16h-16zM1102,1664h16v16h-16zM1070,1680h16v16h-16zM1038,1696h16v16h-16zM1022,1712h16v16h-16zM878,1728h16v16h-16zM1038,1728h16v16h-16zM926,1744h16v16h-16zM1086,1744h16v16h-16zM926,1760h16v16h-16zM1118,1776h16v16h-16zM1118,1792h16v16h-16zM1086,1824h16v16h-16zM1054,1840h16v16h-16zM574,1856h16v16h-16zM558,1872h16v16h-16zM590,1872h16v16h-16zM606,2160h16v16h-16zM558,2176h16v16h-16zM590,2192h16v16h-16z" fill="#868686"/>
<path d="M574,288h16v16h-16zM430,304h16v16h-16zM526,304h32v16h-32zM414,320h16v16h-16zM670,336h16v16h-16zM398,352h16v16h-16zM398,432h16v16h-16zM398,448h16v16h-16zM1246,448h16v16h-16zM1198,464h16v16h-16zM1246,464h16v16h-16zM414,480h16v16h-16zM1054,480h16v16h-16zM414,496h16v16h-16zM398,512h32v16h-32zM1342,512h16v16h-16zM366,528h32v16h-32zM462,528h16v16h-16zM894,528h16v16h-16zM926,528h16v16h-16zM334,544h16v16h-16zM1342,544h16v16h-16zM318,560h16v16h-16zM478,560h16v16h-16zM958,560h16v16h-16zM318,576h16v16h-16zM494,576h16v16h-16zM558,576h16v16h-16zM510,592h16v16h-16zM318,608h16v16h-16zM334,624h16v16h-16zM798,624h16v16h-16zM1182,640h16v16h-16zM494,656h16v16h-16zM542,656h16v16h-16zM1166,656h16v16h-16zM478,672h16v16h-16zM590,672h16v16h-16zM398,688h16v16h-16zM462,688h16v16h-16zM1118,688h16v16h-16zM414,704h16v16h-16zM462,704h16v16h-16zM462,720h16v16h-16zM1182,720h16v16h-16zM910,736h16v16h-16zM1166,736h16v16h-16zM894,752h16v16h-16zM814,768h16v16h-16zM862,768h16v16h-16zM1438,784h16v16h-16zM366,800h16v16h-16zM510,800h16v16h-16zM1310,800h16v16h-16zM542,816h16v16h-16zM1166,816h16v16h-16zM350,832h16v16h-16zM350,848h16v16h-16zM1006,848h16v16h-16zM1246,848h16v16h-16zM1294,848h16v16h-16zM1262,864h48v16h-48zM670,880h16v16h-16zM1006,880h16v16h-16zM1278,880h16v16h-16zM366,896h16v16h-16zM702,896h16v16h-16zM734,912h16v16h-16zM1342,912h16v16h-16zM1278,928h16v16h-16zM398,944h16v16h-16zM414,960h16v16h-16zM798,976h16v16h-16zM1022,976h16v16h-16zM814,992h16v16h-16zM830,1008h16v16h-16zM1006,1008h16v16h-16zM990,1024h16v16h-16zM894,1040h64v16h-64zM558,1072h16v16h-16zM1086,1072h32v16h-32zM1150,1072h16v16h-16zM1438,1072h32v16h-32zM1070,1088h16v16h-16zM1278,1088h16v16h-16zM1054,1104h16v16h-16zM574,1120h16v16h-16zM1038,1120h16v16h-16zM1454,1120h32v16h-32zM590,1136h16v16h-16zM830,1136h16v16h-16zM926,1136h32v16h-32zM990,1136h32v16h-32zM622,1152h16v16h-16zM1326,1184h32v16h-32zM1390,1184h16v16h-16zM1358,1200h32v16h-32zM1390,1216h16v16h-16zM654,1232h16v16h-16zM942,1232h16v16h-16zM1406,1232h16v16h-16zM798,1248h16v16h-16zM1566,1248h16v16h-16zM670,1264h16v16h-16zM990,1264h16v16h-16zM1438,1264h16v16h-16zM1118,1296h16v16h-16zM1614,1296h16v16h-16zM750,1312h16v16h-16zM1166,1312h16v16h-16zM1198,1360h16v16h-16zM1182,1376h16v16h-16zM1086,1392h16v16h-16zM1070,1408h16v16h-16zM1406,1472h16v16h-16zM1166,1488h16v16h-16zM1182,1504h16v16h-16zM1262,1536h16v16h-16zM1342,1536h16v16h-16zM958,1584h16v16h-16zM1038,1584h16v16h-16zM1086,1600h16v16h-16zM830,1648h16v16h-16zM830,1696h16v16h-16zM846,1712h16v16h-16zM1006,1712h16v16h-16zM894,1728h48v16h-48zM1006,1728h32v16h-32zM942,1744h16v16h-16zM1070,1744h16v16h-16zM1102,1760h16v16h-16zM926,1808h16v16h-16zM1102,1808h16v16h-16zM958,1840h16v16h-16zM542,1920h16v16h-16zM622,1936h16v16h-16zM622,2112h16v16h-16zM542,2128h16v16h-16zM574,2192h16v16h-16z" fill="#878787"/>
<path d="M734,288h16v16h-16zM510,304h16v16h-16zM702,320h16v16h-16zM606,352h16v16h-16zM398,368h16v16h-16zM398,416h16v16h-16zM1230,416h16v16h-16zM1214,480h16v16h-16zM1310,480h16v16h-16zM430,496h16v16h-16zM430,512h48v16h-48zM398,528h32v16h-32zM446,528h16v16h-16zM910,528h16v16h-16zM1342,528h16v16h-16zM350,544h16v16h-16zM462,544h16v16h-16zM846,544h16v16h-16zM942,544h16v16h-16zM334,560h16v16h-16zM958,576h16v16h-16zM1310,576h16v16h-16zM318,592h16v16h-16zM494,592h16v16h-16zM526,592h16v16h-16zM638,592h16v16h-16zM958,592h16v16h-16zM942,624h16v16h-16zM510,640h16v16h-16zM798,640h16v16h-16zM1230,640h16v16h-16zM382,656h16v16h-16zM478,656h16v16h-16zM926,656h16v16h-16zM398,672h16v16h-16zM462,672h16v16h-16zM1086,672h16v16h-16zM414,688h48v16h-48zM1102,688h16v16h-16zM430,704h32v16h-32zM1230,704h16v16h-16zM414,720h16v16h-16zM1166,720h16v16h-16zM1198,720h16v16h-16zM798,736h16v16h-16zM398,752h16v16h-16zM478,752h16v16h-16zM830,768h32v16h-32zM1342,768h16v16h-16zM1406,768h16v16h-16zM382,784h16v16h-16zM1470,784h16v16h-16zM1150,800h16v16h-16zM366,816h16v16h-16zM574,832h16v16h-16zM1022,832h16v16h-16zM1198,832h16v16h-16zM1806,832h16v16h-16zM606,848h16v16h-16zM1230,848h16v16h-16zM638,864h16v16h-16zM1006,864h16v16h-16zM366,880h16v16h-16zM1262,880h16v16h-16zM1310,880h16v16h-16zM1470,896h16v16h-16zM382,912h16v16h-16zM718,912h16v16h-16zM398,928h16v16h-16zM750,928h16v16h-16zM766,944h16v16h-16zM1038,944h16v16h-16zM1278,944h16v16h-16zM430,960h16v16h-16zM782,960h16v16h-16zM1278,960h16v16h-16zM1326,1008h16v16h-16zM1662,1008h16v16h-16zM846,1024h16v16h-16zM878,1040h16v16h-16zM958,1040h32v16h-32zM1102,1056h32v16h-32zM1422,1056h16v16h-16zM1070,1072h16v16h-16zM1166,1072h16v16h-16zM1470,1072h16v16h-16zM1662,1072h16v16h-16zM1054,1088h16v16h-16zM1038,1104h16v16h-16zM1006,1120h32v16h-32zM958,1136h32v16h-32zM638,1152h16v16h-16zM654,1168h16v16h-16zM798,1168h16v16h-16zM654,1184h16v16h-16zM1358,1184h32v16h-32zM654,1200h16v16h-16zM1326,1200h32v16h-32zM654,1216h16v16h-16zM1374,1216h16v16h-16zM942,1248h16v16h-16zM1502,1264h16v16h-16zM1550,1264h48v16h-48zM1598,1280h32v16h-32zM1182,1312h16v16h-16zM1614,1312h16v16h-16zM1198,1344h16v16h-16zM1102,1392h16v16h-16zM974,1584h16v16h-16zM1006,1584h32v16h-32zM1070,1600h16v16h-16zM1102,1616h16v16h-16zM846,1632h16v16h-16zM830,1680h16v16h-16zM1054,1680h16v16h-16zM862,1712h16v16h-16zM942,1728h64v16h-64zM926,1776h16v16h-16zM926,1792h16v16h-16zM942,1824h16v16h-16zM1070,1824h16v16h-16zM1038,1840h16v16h-16zM574,1872h16v16h-16zM542,1936h16v16h-16zM542,2112h16v16h-16zM558,2160h16v16h-16zM590,2176h16v16h-16z" fill="#888888"/>
<path d="M718,240h16v16h-16zM734,256h16v16h-16zM446,304h16v16h-16zM558,304h16v16h-16zM398,384h16v16h-16zM398,400h16v16h-16zM590,400h16v16h-16zM1214,416h16v16h-16zM558,432h16v16h-16zM1198,432h16v16h-16zM414,464h16v16h-16zM1022,464h32v16h-32zM1006,480h16v16h-16zM1230,480h32v16h-32zM478,496h16v16h-16zM1230,496h16v16h-16zM430,528h16v16h-16zM366,544h32v16h-32zM446,544h16v16h-16zM350,560h16v16h-16zM462,560h16v16h-16zM1230,560h16v16h-16zM334,576h16v16h-16zM478,576h16v16h-16zM1246,576h16v16h-16zM334,592h16v16h-16zM334,608h16v16h-16zM494,608h32v16h-32zM350,624h16v16h-16zM494,624h32v16h-32zM366,640h16v16h-16zM494,640h16v16h-16zM526,640h16v16h-16zM638,640h16v16h-16zM1070,640h16v16h-16zM798,656h16v16h-16zM414,672h16v16h-16zM446,672h16v16h-16zM798,672h16v16h-16zM798,688h16v16h-16zM798,704h16v16h-16zM1070,704h16v16h-16zM1150,704h32v16h-32zM430,720h32v16h-32zM798,720h16v16h-16zM910,720h16v16h-16zM1054,720h16v16h-16zM414,736h16v16h-16zM462,736h16v16h-16zM814,752h16v16h-16zM1486,768h16v16h-16zM494,784h16v16h-16zM1038,784h16v16h-16zM1054,816h16v16h-16zM1150,816h16v16h-16zM1502,816h16v16h-16zM366,832h16v16h-16zM366,848h16v16h-16zM366,864h16v16h-16zM1246,864h16v16h-16zM382,896h16v16h-16zM686,896h16v16h-16zM1262,896h16v16h-16zM1262,912h16v16h-16zM1454,912h16v16h-16zM1038,928h16v16h-16zM414,944h16v16h-16zM1022,992h16v16h-16zM526,1008h16v16h-16zM1006,1024h16v16h-16zM1454,1024h16v16h-16zM1662,1024h16v16h-16zM542,1040h16v16h-16zM862,1040h16v16h-16zM990,1040h16v16h-16zM1662,1040h16v16h-16zM1070,1056h32v16h-32zM1134,1056h16v16h-16zM1662,1056h16v16h-16zM1054,1072h16v16h-16zM1422,1072h16v16h-16zM1038,1088h16v16h-16zM1502,1088h16v16h-16zM1022,1104h16v16h-16zM1502,1104h16v16h-16zM846,1120h64v16h-64zM990,1120h16v16h-16zM1294,1136h16v16h-16zM1422,1152h16v16h-16zM1326,1168h16v16h-16zM1406,1168h16v16h-16zM1646,1184h16v16h-16zM1310,1200h16v16h-16zM990,1248h16v16h-16zM1070,1248h16v16h-16zM1646,1248h16v16h-16zM958,1264h16v16h-16zM1518,1264h32v16h-32zM782,1280h16v16h-16zM1582,1280h16v16h-16zM718,1296h16v16h-16zM1134,1296h16v16h-16zM1598,1296h16v16h-16zM1198,1328h16v16h-16zM1198,1376h16v16h-16zM1118,1392h64v16h-64zM1070,1424h16v16h-16zM1086,1440h16v16h-16zM1150,1456h16v16h-16zM1406,1456h16v16h-16zM1166,1472h16v16h-16zM1390,1488h16v16h-16zM1374,1504h16v16h-16zM1230,1520h16v16h-16zM1358,1520h16v16h-16zM1326,1536h16v16h-16zM990,1584h16v16h-16zM1102,1648h16v16h-16zM830,1664h16v16h-16zM1086,1664h16v16h-16zM1022,1696h16v16h-16zM990,1712h16v16h-16zM958,1744h16v16h-16zM1054,1744h16v16h-16zM942,1760h16v16h-16zM1086,1760h16v16h-16zM1102,1776h16v16h-16zM1102,1792h16v16h-16zM1086,1808h16v16h-16zM974,1840h16v16h-16zM558,1888h16v16h-16zM606,1904h16v16h-16zM542,1952h16v16h-16zM622,1952h16v16h-16zM574,2176h16v16h-16z" fill="#898989"/>
<path d="M654,240h16v16h-16zM622,256h16v16h-16zM734,272h16v16h-16zM462,304h16v16h-16zM494,304h16v16h-16zM718,304h16v16h-16zM414,336h16v16h-16zM590,352h16v16h-16zM590,368h16v16h-16zM1198,448h16v16h-16zM430,480h16v16h-16zM1262,480h16v16h-16zM1294,480h16v16h-16zM446,496h32v16h-32zM1326,496h16v16h-16zM398,544h48v16h-48zM926,544h16v16h-16zM366,560h16v16h-16zM942,560h16v16h-16zM1326,560h16v16h-16zM350,576h16v16h-16zM606,576h16v16h-16zM814,576h16v16h-16zM478,592h16v16h-16zM478,640h16v16h-16zM1054,640h16v16h-16zM398,656h16v16h-16zM462,656h16v16h-16zM622,656h16v16h-16zM1038,656h16v16h-16zM430,672h16v16h-16zM1054,672h16v16h-16zM1166,672h16v16h-16zM910,704h16v16h-16zM430,736h32v16h-32zM414,752h16v16h-16zM878,752h16v16h-16zM1038,752h16v16h-16zM398,768h16v16h-16zM382,800h16v16h-16zM1454,800h32v16h-32zM1758,816h16v16h-16zM1038,832h16v16h-16zM1182,832h16v16h-16zM1214,848h16v16h-16zM1758,848h16v16h-16zM382,880h16v16h-16zM654,880h16v16h-16zM1246,880h16v16h-16zM1022,896h16v16h-16zM1246,896h16v16h-16zM398,912h16v16h-16zM702,912h16v16h-16zM734,928h16v16h-16zM446,960h16v16h-16zM1038,960h16v16h-16zM1278,976h16v16h-16zM1470,976h16v16h-16zM798,992h16v16h-16zM1294,992h16v16h-16zM814,1008h16v16h-16zM1022,1008h16v16h-16zM1342,1008h16v16h-16zM1470,1008h16v16h-16zM830,1024h16v16h-16zM846,1040h16v16h-16zM1006,1040h16v16h-16zM1118,1040h16v16h-16zM1422,1040h16v16h-16zM558,1056h16v16h-16zM894,1056h80v16h-80zM1038,1056h32v16h-32zM1022,1072h32v16h-32zM1182,1072h16v16h-16zM1022,1088h16v16h-16zM1438,1088h16v16h-16zM574,1104h16v16h-16zM990,1104h32v16h-32zM910,1120h80v16h-80zM1438,1120h16v16h-16zM814,1136h16v16h-16zM654,1152h16v16h-16zM1310,1152h16v16h-16zM1294,1200h16v16h-16zM1358,1216h16v16h-16zM1566,1232h16v16h-16zM1598,1264h16v16h-16zM1630,1264h16v16h-16zM1102,1280h16v16h-16zM1566,1280h16v16h-16zM1598,1312h16v16h-16zM1598,1328h16v16h-16zM1214,1360h16v16h-16zM1390,1472h16v16h-16zM1182,1488h16v16h-16zM1198,1504h16v16h-16zM910,1600h16v16h-16zM1054,1600h16v16h-16zM1102,1632h16v16h-16zM1070,1664h16v16h-16zM1038,1680h16v16h-16zM846,1696h16v16h-16zM878,1712h16v16h-16zM974,1712h16v16h-16zM974,1744h16v16h-16zM1038,1744h16v16h-16zM1022,1840h16v16h-16zM542,1968h16v16h-16zM622,1968h16v16h-16zM542,2096h16v16h-16zM622,2096h16v16h-16zM606,2144h16v16h-16z" fill="#8a8a8a"/>
<path d="M702,240h16v16h-16zM478,304h16v16h-16zM430,320h16v16h-16zM654,336h16v16h-16zM590,384h16v16h-16zM1230,432h16v16h-16zM414,448h16v16h-16zM1230,464h16v16h-16zM494,480h16v16h-16zM1278,480h16v16h-16zM1230,512h16v16h-16zM382,560h16v16h-16zM446,560h16v16h-16zM830,560h16v16h-16zM462,576h16v16h-16zM574,576h16v16h-16zM350,592h16v16h-16zM350,608h16v16h-16zM478,608h16v16h-16zM526,608h16v16h-16zM366,624h16v16h-16zM478,624h16v16h-16zM382,640h16v16h-16zM462,640h16v16h-16zM1198,640h32v16h-32zM414,656h48v16h-48zM558,656h16v16h-16zM1086,656h16v16h-16zM1070,672h16v16h-16zM1166,688h16v16h-16zM814,736h16v16h-16zM830,752h16v16h-16zM478,768h16v16h-16zM398,784h16v16h-16zM1326,784h16v16h-16zM1054,800h16v16h-16zM382,816h16v16h-16zM526,816h16v16h-16zM1166,832h16v16h-16zM1502,832h16v16h-16zM590,848h16v16h-16zM1022,848h16v16h-16zM1790,848h16v16h-16zM382,864h16v16h-16zM622,864h16v16h-16zM1230,864h16v16h-16zM1310,864h16v16h-16zM670,896h16v16h-16zM1038,912h16v16h-16zM414,928h16v16h-16zM750,944h16v16h-16zM462,960h16v16h-16zM766,960h16v16h-16zM1454,960h16v16h-16zM782,976h16v16h-16zM1022,1024h16v16h-16zM1022,1040h32v16h-32zM1086,1040h32v16h-32zM862,1056h32v16h-32zM974,1056h64v16h-64zM1150,1056h16v16h-16zM990,1072h32v16h-32zM990,1088h32v16h-32zM1294,1088h16v16h-16zM958,1104h32v16h-32zM1438,1104h16v16h-16zM830,1120h16v16h-16zM606,1136h16v16h-16zM1342,1168h16v16h-16zM1630,1168h16v16h-16zM1070,1200h16v16h-16zM1278,1200h16v16h-16zM1342,1216h16v16h-16zM1390,1232h16v16h-16zM670,1248h16v16h-16zM1582,1248h16v16h-16zM974,1264h16v16h-16zM766,1296h16v16h-16zM1150,1296h16v16h-16zM1582,1296h16v16h-16zM1198,1312h16v16h-16zM1214,1344h16v16h-16zM1566,1360h16v16h-16zM1182,1392h16v16h-16zM1086,1408h16v16h-16zM1102,1440h16v16h-16zM1278,1536h16v16h-16zM1310,1536h16v16h-16zM1038,1600h16v16h-16zM878,1616h16v16h-16zM1086,1616h16v16h-16zM1006,1696h16v16h-16zM894,1712h16v16h-16zM958,1712h16v16h-16zM990,1840h32v16h-32zM590,1888h16v16h-16zM558,1904h16v16h-16zM542,1984h16v16h-16zM622,1984h16v16h-16zM542,2080h16v16h-16zM558,2144h16v16h-16zM590,2160h16v16h-16z" fill="#8b8b8b"/>
<path d="M670,240h32v16h-32zM574,304h16v16h-16zM558,320h16v16h-16zM414,352h16v16h-16zM1214,464h16v16h-16zM862,544h16v16h-16zM1230,544h16v16h-16zM398,560h48v16h-48zM366,576h16v16h-16zM590,576h16v16h-16zM942,576h16v16h-16zM1262,576h16v16h-16zM462,592h16v16h-16zM366,608h16v16h-16zM942,608h16v16h-16zM462,624h16v16h-16zM526,624h16v16h-16zM398,640h16v16h-16zM446,640h16v16h-16zM910,688h16v16h-16zM894,736h16v16h-16zM430,752h48v16h-48zM846,752h32v16h-32zM414,768h16v16h-16zM1038,768h16v16h-16zM1518,768h16v16h-16zM1150,784h16v16h-16zM1070,816h16v16h-16zM1134,816h16v16h-16zM1310,816h16v16h-16zM1486,816h16v16h-16zM1790,816h16v16h-16zM382,832h16v16h-16zM558,832h16v16h-16zM1054,832h16v16h-16zM382,848h16v16h-16zM1198,848h16v16h-16zM1230,880h16v16h-16zM1486,880h16v16h-16zM398,896h16v16h-16zM1230,896h16v16h-16zM1246,912h16v16h-16zM718,928h16v16h-16zM430,944h16v16h-16zM478,960h16v16h-16zM1310,1008h16v16h-16zM1342,1024h16v16h-16zM1438,1024h16v16h-16zM830,1040h16v16h-16zM1054,1040h32v16h-32zM1134,1040h16v16h-16zM846,1056h16v16h-16zM1406,1056h16v16h-16zM878,1072h112v16h-112zM1278,1072h16v16h-16zM574,1088h16v16h-16zM926,1088h64v16h-64zM1422,1088h16v16h-16zM1454,1088h16v16h-16zM846,1104h112v16h-112zM1294,1104h16v16h-16zM1454,1104h16v16h-16zM590,1120h16v16h-16zM1294,1120h16v16h-16zM798,1152h16v16h-16zM1390,1168h16v16h-16zM1214,1200h64v16h-64zM1326,1216h16v16h-16zM1086,1264h16v16h-16zM1614,1264h16v16h-16zM702,1280h16v16h-16zM1550,1280h16v16h-16zM1166,1296h16v16h-16zM1214,1328h16v16h-16zM1582,1344h16v16h-16zM1214,1376h16v16h-16zM1406,1440h16v16h-16zM1166,1456h16v16h-16zM1182,1472h16v16h-16zM1374,1488h16v16h-16zM1214,1504h16v16h-16zM1358,1504h16v16h-16zM1342,1520h16v16h-16zM1294,1536h16v16h-16zM846,1648h16v16h-16zM1086,1648h16v16h-16zM1054,1664h16v16h-16zM846,1680h16v16h-16zM910,1712h16v16h-16zM942,1712h16v16h-16zM990,1744h48v16h-48zM1070,1760h16v16h-16zM942,1776h16v16h-16zM1086,1776h16v16h-16zM1086,1792h16v16h-16zM942,1808h16v16h-16zM1054,1824h16v16h-16zM574,1888h16v16h-16zM606,1920h16v16h-16zM542,2000h16v16h-16zM622,2000h16v16h-16zM542,2016h16v16h-16zM542,2032h16v16h-16zM542,2048h16v16h-16zM542,2064h16v16h-16zM574,2160h16v16h-16z" fill="#8c8c8c"/>
<path d="M718,256h16v16h-16zM606,272h16v16h-16zM590,288h16v16h-16zM542,320h16v16h-16zM574,336h48v16h-48zM638,336h16v16h-16zM414,432h16v16h-16zM526,448h16v16h-16zM1230,448h16v16h-16zM430,464h16v16h-16zM510,464h16v16h-16zM446,480h16v16h-16zM1246,496h16v16h-16zM1230,528h16v16h-16zM910,544h16v16h-16zM382,576h16v16h-16zM446,576h16v16h-16zM1294,576h16v16h-16zM366,592h16v16h-16zM542,592h16v16h-16zM942,592h16v16h-16zM462,608h16v16h-16zM638,608h16v16h-16zM382,624h16v16h-16zM446,624h16v16h-16zM414,640h32v16h-32zM926,640h16v16h-16zM1230,656h16v16h-16zM1134,704h16v16h-16zM1182,704h16v16h-16zM814,720h16v16h-16zM1390,768h16v16h-16zM398,800h16v16h-16zM1518,800h16v16h-16zM1470,816h16v16h-16zM1150,832h16v16h-16zM1310,848h16v16h-16zM1774,848h16v16h-16zM606,864h16v16h-16zM1022,864h16v16h-16zM1214,864h16v16h-16zM1502,864h16v16h-16zM638,880h16v16h-16zM1022,880h16v16h-16zM1326,880h16v16h-16zM686,912h16v16h-16zM1054,928h16v16h-16zM1262,928h16v16h-16zM1358,944h16v16h-16zM1358,960h16v16h-16zM1038,976h16v16h-16zM798,1008h16v16h-16zM814,1024h16v16h-16zM1038,1024h16v16h-16zM1118,1024h16v16h-16zM1326,1024h16v16h-16zM1342,1040h16v16h-16zM1406,1040h16v16h-16zM574,1072h16v16h-16zM846,1072h32v16h-32zM1198,1072h16v16h-16zM1294,1072h16v16h-16zM1406,1072h16v16h-16zM846,1088h80v16h-80zM830,1104h16v16h-16zM814,1120h16v16h-16zM622,1136h16v16h-16zM1422,1136h16v16h-16zM1358,1168h32v16h-32zM1566,1184h16v16h-16zM1198,1200h16v16h-16zM958,1232h32v16h-32zM1374,1232h16v16h-16zM1646,1232h16v16h-16zM1406,1248h16v16h-16zM686,1264h16v16h-16zM782,1264h16v16h-16zM734,1296h16v16h-16zM1182,1296h16v16h-16zM1582,1312h16v16h-16zM1582,1328h16v16h-16zM1102,1408h16v16h-16zM1134,1408h48v16h-48zM1086,1424h16v16h-16zM1118,1440h16v16h-16zM1390,1456h16v16h-16zM1198,1488h16v16h-16zM1246,1520h16v16h-16zM926,1600h16v16h-16zM1022,1600h16v16h-16zM1070,1616h16v16h-16zM862,1632h16v16h-16zM1086,1632h16v16h-16zM846,1664h16v16h-16zM1022,1680h16v16h-16zM862,1696h16v16h-16zM926,1712h16v16h-16zM958,1760h16v16h-16zM1070,1808h16v16h-16zM958,1824h16v16h-16zM622,2016h16v16h-16zM622,2080h16v16h-16z" fill="#8d8d8d"/>
<path d="M526,320h16v16h-16zM574,320h16v16h-16zM686,320h16v16h-16zM558,336h16v16h-16zM622,336h16v16h-16zM574,352h16v16h-16zM414,368h16v16h-16zM414,416h16v16h-16zM574,416h16v16h-16zM1214,432h16v16h-16zM462,480h32v16h-32zM1326,512h16v16h-16zM878,544h32v16h-32zM926,560h16v16h-16zM398,576h48v16h-48zM1278,576h16v16h-16zM382,592h16v16h-16zM446,592h16v16h-16zM382,608h16v16h-16zM446,608h16v16h-16zM398,624h48v16h-48zM638,624h16v16h-16zM542,640h16v16h-16zM606,656h16v16h-16zM1182,656h16v16h-16zM1230,688h16v16h-16zM1150,720h16v16h-16zM830,736h16v16h-16zM430,768h16v16h-16zM462,768h16v16h-16zM414,784h16v16h-16zM1422,784h16v16h-16zM494,800h16v16h-16zM398,816h16v16h-16zM542,832h16v16h-16zM1070,832h16v16h-16zM1310,832h16v16h-16zM1758,832h16v16h-16zM574,848h16v16h-16zM1038,848h16v16h-16zM398,880h16v16h-16zM1214,880h16v16h-16zM654,896h16v16h-16zM1454,896h16v16h-16zM414,912h16v16h-16zM702,928h16v16h-16zM446,944h16v16h-16zM734,944h16v16h-16zM1054,944h16v16h-16zM510,976h16v16h-16zM1358,976h16v16h-16zM1134,1024h16v16h-16zM1326,1040h16v16h-16zM1358,1040h16v16h-16zM830,1056h16v16h-16zM1390,1056h16v16h-16zM830,1072h16v16h-16zM1262,1072h16v16h-16zM830,1088h16v16h-16zM1470,1104h16v16h-16zM638,1136h16v16h-16zM670,1168h16v16h-16zM670,1184h16v16h-16zM1182,1200h16v16h-16zM1646,1200h16v16h-16zM1310,1216h16v16h-16zM1566,1216h16v16h-16zM670,1232h16v16h-16zM1118,1280h16v16h-16zM1198,1296h16v16h-16zM1566,1296h16v16h-16zM1214,1312h16v16h-16zM1230,1360h16v16h-16zM1550,1360h16v16h-16zM1198,1392h16v16h-16zM1438,1392h16v16h-16zM1118,1408h16v16h-16zM1134,1440h48v16h-48zM1182,1456h16v16h-16zM1374,1472h16v16h-16zM1054,1616h16v16h-16zM1070,1648h16v16h-16zM1038,1664h16v16h-16zM990,1696h16v16h-16zM942,1792h16v16h-16zM558,1920h16v16h-16zM622,2032h16v16h-16zM558,2128h16v16h-16zM606,2128h16v16h-16z" fill="#8e8e8e"/>
<path d="M638,256h16v16h-16zM718,288h16v16h-16zM446,320h16v16h-16zM430,336h16v16h-16zM414,384h16v16h-16zM414,400h16v16h-16zM542,432h16v16h-16zM1310,496h16v16h-16zM1326,544h16v16h-16zM398,592h48v16h-48zM814,592h16v16h-16zM398,608h48v16h-48zM574,656h16v16h-16zM910,672h16v16h-16zM814,704h16v16h-16zM1214,704h16v16h-16zM894,720h16v16h-16zM878,736h16v16h-16zM446,768h16v16h-16zM1358,768h16v16h-16zM478,784h16v16h-16zM1438,800h16v16h-16zM1486,800h16v16h-16zM510,816h16v16h-16zM1086,816h16v16h-16zM1118,816h16v16h-16zM1774,816h16v16h-16zM398,832h16v16h-16zM1086,832h16v16h-16zM1134,832h16v16h-16zM1790,832h16v16h-16zM398,848h16v16h-16zM1182,848h16v16h-16zM1502,848h16v16h-16zM398,864h16v16h-16zM1038,896h16v16h-16zM1214,896h16v16h-16zM1342,896h16v16h-16zM1054,912h16v16h-16zM1230,912h16v16h-16zM430,928h16v16h-16zM1438,928h16v16h-16zM1438,944h16v16h-16zM750,960h16v16h-16zM1262,960h16v16h-16zM766,976h16v16h-16zM782,992h16v16h-16zM1038,992h16v16h-16zM1358,992h16v16h-16zM1470,992h16v16h-16zM1038,1008h16v16h-16zM1134,1008h16v16h-16zM542,1024h16v16h-16zM1102,1024h16v16h-16zM1358,1024h16v16h-16zM1422,1024h16v16h-16zM814,1040h16v16h-16zM1150,1040h16v16h-16zM1390,1040h16v16h-16zM1166,1056h16v16h-16zM1310,1056h32v16h-32zM1214,1072h16v16h-16zM1310,1072h16v16h-16zM1470,1088h32v16h-32zM814,1104h16v16h-16zM1422,1104h16v16h-16zM1486,1104h16v16h-16zM654,1136h16v16h-16zM670,1152h16v16h-16zM1406,1152h16v16h-16zM670,1200h16v16h-16zM782,1200h16v16h-16zM1150,1200h32v16h-32zM670,1216h16v16h-16zM1646,1216h16v16h-16zM1070,1232h16v16h-16zM1358,1232h16v16h-16zM1422,1264h16v16h-16zM1534,1280h16v16h-16zM750,1296h16v16h-16zM1230,1344h16v16h-16zM1566,1344h16v16h-16zM1182,1408h16v16h-16zM1102,1424h16v16h-16zM1150,1424h32v16h-32zM1406,1424h16v16h-16zM1198,1472h16v16h-16zM1326,1520h16v16h-16zM1006,1600h16v16h-16zM1070,1632h16v16h-16zM1054,1760h16v16h-16zM590,1904h16v16h-16zM622,2048h16v16h-16zM622,2064h16v16h-16z" fill="#8f8f8f"/>
<path d="M718,272h16v16h-16zM590,320h16v16h-16zM430,448h16v16h-16zM1214,448h16v16h-16zM1022,480h32v16h-32zM1246,560h16v16h-16zM926,576h16v16h-16zM590,656h16v16h-16zM1230,672h16v16h-16zM1198,704h16v16h-16zM846,736h32v16h-32zM1374,768h16v16h-16zM1502,768h16v16h-16zM430,784h16v16h-16zM414,800h16v16h-16zM1134,800h16v16h-16zM1102,816h16v16h-16zM1102,832h32v16h-32zM590,864h16v16h-16zM1198,864h16v16h-16zM622,880h16v16h-16zM1470,880h16v16h-16zM414,896h16v16h-16zM670,912h16v16h-16zM1358,928h16v16h-16zM718,944h16v16h-16zM1262,944h16v16h-16zM494,960h16v16h-16zM1054,960h16v16h-16zM1262,976h16v16h-16zM1118,1008h16v16h-16zM1358,1008h16v16h-16zM798,1024h16v16h-16zM1054,1024h16v16h-16zM1086,1024h16v16h-16zM558,1040h16v16h-16zM1374,1040h16v16h-16zM574,1056h16v16h-16zM814,1056h16v16h-16zM1342,1056h48v16h-48zM814,1072h16v16h-16zM1230,1072h32v16h-32zM814,1088h16v16h-16zM1422,1120h16v16h-16zM798,1136h16v16h-16zM1326,1152h16v16h-16zM1582,1168h16v16h-16zM782,1184h16v16h-16zM1566,1200h16v16h-16zM782,1216h16v16h-16zM1294,1216h16v16h-16zM782,1232h16v16h-16zM1342,1232h16v16h-16zM782,1248h16v16h-16zM958,1248h16v16h-16zM1566,1312h16v16h-16zM1230,1328h16v16h-16zM1534,1360h16v16h-16zM1230,1376h16v16h-16zM1422,1392h16v16h-16zM1118,1424h32v16h-32zM1182,1440h16v16h-16zM1390,1440h16v16h-16zM1214,1488h16v16h-16zM1358,1488h16v16h-16zM1230,1504h16v16h-16zM942,1600h16v16h-16zM894,1616h16v16h-16zM1038,1616h16v16h-16zM1054,1648h16v16h-16zM878,1696h16v16h-16zM974,1696h16v16h-16zM1070,1776h16v16h-16zM1070,1792h16v16h-16zM1038,1824h16v16h-16zM574,1904h16v16h-16zM558,1936h16v16h-16zM606,1936h16v16h-16zM574,2144h32v16h-32z" fill="#909090"/>
<path d="M702,256h16v16h-16zM590,304h16v16h-16zM702,304h16v16h-16zM510,320h16v16h-16zM542,336h16v16h-16zM446,464h16v16h-16zM1326,528h16v16h-16zM846,560h16v16h-16zM910,560h16v16h-16zM926,624h16v16h-16zM814,688h16v16h-16zM830,720h16v16h-16zM446,784h32v16h-32zM414,816h16v16h-16zM1454,816h16v16h-16zM526,832h16v16h-16zM1486,832h16v16h-16zM558,848h16v16h-16zM1054,848h16v16h-16zM1166,848h16v16h-16zM1038,864h16v16h-16zM414,880h16v16h-16zM1038,880h16v16h-16zM1198,880h16v16h-16zM1198,896h16v16h-16zM430,912h16v16h-16zM462,944h16v16h-16zM526,992h16v16h-16zM1150,1008h16v16h-16zM1070,1024h16v16h-16zM1406,1024h16v16h-16zM1390,1072h16v16h-16zM1406,1088h16v16h-16zM1310,1136h16v16h-16zM1134,1200h16v16h-16zM1070,1216h16v16h-16zM974,1248h16v16h-16zM1390,1248h16v16h-16zM1598,1248h16v16h-16zM1630,1248h16v16h-16zM718,1280h16v16h-16zM766,1280h16v16h-16zM1470,1280h32v16h-32zM1518,1280h16v16h-16zM1214,1296h16v16h-16zM1550,1296h16v16h-16zM1566,1328h16v16h-16zM1470,1376h16v16h-16zM1214,1392h16v16h-16zM1406,1408h16v16h-16zM1182,1424h16v16h-16zM1198,1456h16v16h-16zM1374,1456h16v16h-16zM1342,1504h16v16h-16zM1262,1520h16v16h-16zM958,1600h16v16h-16zM990,1600h16v16h-16zM1054,1632h16v16h-16zM862,1680h16v16h-16zM1006,1680h16v16h-16zM974,1760h16v16h-16zM974,1824h16v16h-16z" fill="#919191"/>
<path d="M462,320h16v16h-16zM494,464h16v16h-16zM1262,496h16v16h-16zM1310,560h16v16h-16zM622,592h16v16h-16zM926,592h16v16h-16zM542,608h16v16h-16zM814,608h16v16h-16zM542,624h16v16h-16zM814,672h16v16h-16zM1182,688h16v16h-16zM894,704h16v16h-16zM1086,704h16v16h-16zM1150,768h16v16h-16zM430,800h16v16h-16zM478,800h16v16h-16zM414,832h16v16h-16zM1774,832h16v16h-16zM414,848h16v16h-16zM414,864h16v16h-16zM1182,864h16v16h-16zM638,896h16v16h-16zM1070,912h16v16h-16zM1214,912h16v16h-16zM1438,912h16v16h-16zM446,928h16v16h-16zM686,928h16v16h-16zM1070,928h16v16h-16zM1246,928h16v16h-16zM734,960h16v16h-16zM1438,960h16v16h-16zM1134,992h32v16h-32zM782,1008h16v16h-16zM1150,1024h16v16h-16zM1310,1024h16v16h-16zM1374,1024h16v16h-16zM798,1040h16v16h-16zM1310,1040h16v16h-16zM590,1104h16v16h-16zM798,1120h16v16h-16zM670,1136h16v16h-16zM782,1168h16v16h-16zM1326,1232h16v16h-16zM1582,1232h16v16h-16zM1134,1280h16v16h-16zM1454,1280h16v16h-16zM1502,1280h16v16h-16zM1230,1312h16v16h-16zM1550,1344h16v16h-16zM1246,1360h16v16h-16zM1454,1376h16v16h-16zM1358,1472h16v16h-16zM974,1600h16v16h-16zM862,1648h16v16h-16zM1038,1648h16v16h-16zM1022,1664h16v16h-16zM894,1696h16v16h-16zM1038,1760h16v16h-16zM958,1776h16v16h-16zM958,1808h16v16h-16zM1054,1808h16v16h-16zM558,2112h16v16h-16z" fill="#929292"/>
<path d="M654,256h16v16h-16zM686,256h16v16h-16zM622,272h16v16h-16zM494,320h16v16h-16zM606,320h16v16h-16zM670,320h16v16h-16zM430,352h16v16h-16zM558,352h16v16h-16zM430,432h16v16h-16zM1246,512h16v16h-16zM830,576h16v16h-16zM926,608h16v16h-16zM622,640h16v16h-16zM910,656h16v16h-16zM1182,672h16v16h-16zM878,720h16v16h-16zM1486,784h16v16h-16zM446,800h16v16h-16zM1502,800h16v16h-16zM430,816h16v16h-16zM494,816h16v16h-16zM542,848h16v16h-16zM1070,848h16v16h-16zM1150,848h16v16h-16zM574,864h16v16h-16zM606,880h16v16h-16zM1054,896h16v16h-16zM702,944h16v16h-16zM750,976h16v16h-16zM1054,976h16v16h-16zM766,992h16v16h-16zM1118,992h16v16h-16zM1102,1008h16v16h-16zM1454,1008h16v16h-16zM1390,1024h16v16h-16zM1294,1056h16v16h-16zM1310,1088h16v16h-16zM798,1104h16v16h-16zM606,1120h16v16h-16zM1614,1168h16v16h-16zM1086,1200h16v16h-16zM1278,1216h16v16h-16zM686,1248h16v16h-16zM1518,1360h16v16h-16zM1198,1408h16v16h-16zM1214,1472h16v16h-16zM1310,1520h16v16h-16zM1022,1616h16v16h-16zM878,1632h16v16h-16zM1038,1632h16v16h-16zM862,1664h16v16h-16zM958,1696h16v16h-16zM1022,1824h16v16h-16zM590,1920h16v16h-16zM558,1952h16v16h-16zM606,1952h16v16h-16zM606,2112h16v16h-16z" fill="#939393"/>
<path d="M670,256h16v16h-16zM606,288h16v16h-16zM478,320h16v16h-16zM526,336h16v16h-16zM574,368h16v16h-16zM462,464h16v16h-16zM1294,496h16v16h-16zM862,560h16v16h-16zM894,560h16v16h-16zM558,592h16v16h-16zM814,624h16v16h-16zM558,640h16v16h-16zM814,656h16v16h-16zM1054,656h32v16h-32zM1198,656h32v16h-32zM830,704h16v16h-16zM1118,704h16v16h-16zM846,720h32v16h-32zM1150,736h16v16h-16zM462,800h16v16h-16zM1070,800h16v16h-16zM510,832h16v16h-16zM1470,832h16v16h-16zM1134,848h16v16h-16zM1326,864h16v16h-16zM1486,864h16v16h-16zM1182,880h16v16h-16zM430,896h16v16h-16zM1182,896h16v16h-16zM654,912h16v16h-16zM1358,912h16v16h-16zM1070,944h16v16h-16zM1454,976h16v16h-16zM1166,992h16v16h-16zM1278,992h16v16h-16zM1054,1008h16v16h-16zM1422,1008h32v16h-32zM798,1056h16v16h-16zM798,1072h16v16h-16zM1326,1072h16v16h-16zM590,1088h16v16h-16zM798,1088h16v16h-16zM1390,1152h16v16h-16zM1262,1216h16v16h-16zM1374,1248h16v16h-16zM702,1264h16v16h-16zM1102,1264h16v16h-16zM1534,1296h16v16h-16zM1550,1312h16v16h-16zM1246,1344h16v16h-16zM1246,1376h16v16h-16zM1438,1376h16v16h-16zM1406,1392h16v16h-16zM1390,1424h16v16h-16zM1198,1440h16v16h-16zM910,1616h16v16h-16zM910,1696h48v16h-48zM990,1760h16v16h-16zM1022,1760h16v16h-16zM1054,1776h16v16h-16zM958,1792h16v16h-16zM990,1824h16v16h-16zM574,1920h16v16h-16z" fill="#949494"/>
<path d="M702,272h16v16h-16zM622,320h16v16h-16zM654,320h16v16h-16zM446,336h16v16h-16zM526,432h16v16h-16zM510,448h16v16h-16zM478,464h16v16h-16zM1278,496h16v16h-16zM1246,544h16v16h-16zM878,560h16v16h-16zM910,576h16v16h-16zM814,640h16v16h-16zM894,688h16v16h-16zM1150,752h16v16h-16zM446,816h16v16h-16zM478,816h16v16h-16zM430,832h16v16h-16zM430,848h16v16h-16zM1086,848h16v16h-16zM1118,848h16v16h-16zM1486,848h16v16h-16zM430,864h16v16h-16zM1054,864h16v16h-16zM1166,864h16v16h-16zM430,880h16v16h-16zM1054,880h16v16h-16zM1454,880h16v16h-16zM446,912h16v16h-16zM1086,912h16v16h-16zM1198,912h16v16h-16zM670,928h16v16h-16zM478,944h16v16h-16zM718,960h16v16h-16zM1246,976h16v16h-16zM1374,1008h16v16h-16zM782,1024h16v16h-16zM1182,1056h16v16h-16zM590,1072h16v16h-16zM1374,1072h16v16h-16zM1406,1104h16v16h-16zM654,1120h16v16h-16zM1406,1136h16v16h-16zM782,1152h16v16h-16zM1342,1152h16v16h-16zM1118,1200h16v16h-16zM1214,1216h48v16h-48zM1310,1232h16v16h-16zM1614,1248h16v16h-16zM1406,1264h16v16h-16zM734,1280h32v16h-32zM1150,1280h16v16h-16zM1198,1280h16v16h-16zM1230,1296h16v16h-16zM1550,1328h16v16h-16zM1502,1360h16v16h-16zM1198,1424h16v16h-16zM1214,1456h16v16h-16zM1230,1488h16v16h-16zM1342,1488h16v16h-16zM1246,1504h16v16h-16zM1278,1520h32v16h-32zM878,1680h16v16h-16zM990,1680h16v16h-16zM1006,1760h16v16h-16zM1006,1824h16v16h-16zM558,1968h16v16h-16zM606,1968h16v16h-16zM558,2096h16v16h-16zM574,2128h16v16h-16z" fill="#959595"/>
<path d="M702,288h16v16h-16zM606,304h16v16h-16zM638,320h16v16h-16zM542,352h16v16h-16zM430,368h16v16h-16zM430,416h16v16h-16zM446,448h16v16h-16zM1262,560h16v16h-16zM1102,704h16v16h-16zM1054,736h16v16h-16zM1054,784h16v16h-16zM1406,784h16v16h-16zM462,816h16v16h-16zM494,832h16v16h-16zM526,848h16v16h-16zM1102,848h16v16h-16zM558,864h16v16h-16zM590,880h16v16h-16zM1166,880h16v16h-16zM622,896h16v16h-16zM1070,896h16v16h-16zM1166,896h16v16h-16zM1438,896h16v16h-16zM462,928h16v16h-16zM1070,960h16v16h-16zM1246,960h16v16h-16zM1054,992h16v16h-16zM1102,992h16v16h-16zM542,1008h16v16h-16zM1086,1008h16v16h-16zM1294,1008h16v16h-16zM1406,1008h16v16h-16zM590,1056h16v16h-16zM670,1120h16v16h-16zM1310,1120h16v16h-16zM1374,1152h16v16h-16zM1598,1168h16v16h-16zM1358,1248h16v16h-16zM766,1264h16v16h-16zM1166,1280h32v16h-32zM1214,1280h16v16h-16zM1438,1280h16v16h-16zM1246,1328h16v16h-16zM1534,1344h16v16h-16zM1422,1376h16v16h-16zM1230,1392h16v16h-16zM1390,1408h16v16h-16zM1374,1440h16v16h-16zM1358,1456h16v16h-16zM1326,1504h16v16h-16zM1006,1616h16v16h-16zM1022,1632h16v16h-16zM1022,1648h16v16h-16zM1054,1792h16v16h-16zM590,2128h16v16h-16z" fill="#969696"/>
<path d="M686,304h16v16h-16zM430,384h16v16h-16zM430,400h16v16h-16zM1310,512h16v16h-16zM1246,528h16v16h-16zM910,640h16v16h-16zM830,688h16v16h-16zM1198,688h32v16h-32zM878,704h16v16h-16zM1326,800h16v16h-16zM1438,816h16v16h-16zM446,832h16v16h-16zM1150,864h16v16h-16zM1470,864h16v16h-16zM1342,880h16v16h-16zM446,896h16v16h-16zM686,944h16v16h-16zM510,960h16v16h-16zM734,976h16v16h-16zM1438,976h16v16h-16zM1374,992h16v16h-16zM766,1008h16v16h-16zM1070,1008h16v16h-16zM1166,1008h16v16h-16zM1390,1008h16v16h-16zM574,1040h16v16h-16zM1166,1040h16v16h-16zM1342,1072h32v16h-32zM1390,1088h16v16h-16zM1310,1104h16v16h-16zM622,1120h32v16h-32zM1406,1120h16v16h-16zM686,1152h16v16h-16zM1358,1152h16v16h-16zM686,1168h16v16h-16zM686,1184h16v16h-16zM1630,1184h16v16h-16zM1102,1200h16v16h-16zM1086,1248h16v16h-16zM1518,1296h16v16h-16zM1262,1360h16v16h-16zM1486,1360h16v16h-16zM1006,1664h16v16h-16zM1038,1808h16v16h-16zM558,1984h16v16h-16z" fill="#979797"/>
<path d="M638,272h16v16h-16zM558,416h16v16h-16zM1294,560h16v16h-16zM910,592h16v16h-16zM846,704h16v16h-16zM1518,784h16v16h-16zM1422,800h16v16h-16zM462,832h32v16h-32zM1454,832h16v16h-16zM446,848h16v16h-16zM510,848h16v16h-16zM1070,864h16v16h-16zM446,880h16v16h-16zM1070,880h16v16h-16zM1086,896h16v16h-16zM1150,896h16v16h-16zM638,912h16v16h-16zM1086,928h16v16h-16zM1230,928h16v16h-16zM1422,928h16v16h-16zM1246,944h16v16h-16zM1422,944h16v16h-16zM702,960h16v16h-16zM1422,960h16v16h-16zM1070,976h16v16h-16zM1230,976h16v16h-16zM750,992h16v16h-16zM1182,992h16v16h-16zM1422,992h16v16h-16zM1454,992h16v16h-16zM782,1040h16v16h-16zM782,1136h16v16h-16zM1198,1216h16v16h-16zM686,1232h16v16h-16zM1294,1232h16v16h-16zM1342,1248h16v16h-16zM1246,1312h16v16h-16zM1534,1312h16v16h-16zM1262,1376h16v16h-16zM1390,1392h16v16h-16zM1214,1408h16v16h-16zM1230,1472h16v16h-16zM1342,1472h16v16h-16zM926,1616h16v16h-16zM894,1632h16v16h-16zM878,1648h16v16h-16zM878,1664h16v16h-16zM974,1776h16v16h-16zM574,1936h32v16h-32zM606,1984h16v16h-16zM558,2080h16v16h-16zM606,2096h16v16h-16z" fill="#989898"/>
<path d="M686,272h16v16h-16zM510,336h16v16h-16zM1310,544h16v16h-16zM846,576h16v16h-16zM894,576h16v16h-16zM894,672h16v16h-16zM1198,672h32v16h-32zM862,704h16v16h-16zM1118,800h16v16h-16zM1470,848h16v16h-16zM446,864h16v16h-16zM542,864h16v16h-16zM1086,864h16v16h-16zM1134,864h16v16h-16zM574,880h16v16h-16zM1150,880h16v16h-16zM606,896h16v16h-16zM1102,896h16v16h-16zM1102,912h16v16h-16zM1182,912h16v16h-16zM494,944h16v16h-16zM1374,960h16v16h-16zM526,976h16v16h-16zM1374,976h16v16h-16zM1422,976h16v16h-16zM1438,992h16v16h-16zM558,1024h16v16h-16zM782,1056h16v16h-16zM1278,1056h16v16h-16zM782,1120h16v16h-16zM686,1136h16v16h-16zM686,1200h16v16h-16zM766,1248h16v16h-16zM1326,1248h16v16h-16zM718,1264h16v16h-16zM1390,1264h16v16h-16zM1230,1280h16v16h-16zM1246,1296h16v16h-16zM1534,1328h16v16h-16zM1518,1344h16v16h-16zM1470,1360h16v16h-16zM1406,1376h16v16h-16zM1214,1440h16v16h-16zM990,1616h16v16h-16zM894,1680h16v16h-16zM974,1680h16v16h-16zM1038,1776h16v16h-16zM974,1808h16v16h-16zM558,2000h16v16h-16z" fill="#999999"/>
<path d="M622,288h16v16h-16zM622,304h16v16h-16zM462,336h16v16h-16zM446,352h16v16h-16zM526,352h16v16h-16zM574,400h16v16h-16zM462,448h16v16h-16zM494,448h16v16h-16zM1278,560h16v16h-16zM830,592h16v16h-16zM910,608h16v16h-16zM622,624h16v16h-16zM910,624h16v16h-16zM574,640h16v16h-16zM606,640h16v16h-16zM830,672h16v16h-16zM1070,720h16v16h-16zM1342,784h16v16h-16zM462,848h48v16h-48zM1326,848h16v16h-16zM1102,864h32v16h-32zM1086,880h16v16h-16zM1134,880h16v16h-16zM1118,896h32v16h-32zM1358,896h16v16h-16zM462,912h16v16h-16zM478,928h16v16h-16zM654,928h16v16h-16zM1374,944h16v16h-16zM718,976h16v16h-16zM1086,976h16v16h-16zM1214,976h16v16h-16zM1070,992h32v16h-32zM1390,992h32v16h-32zM1166,1024h16v16h-16zM782,1072h16v16h-16zM670,1104h16v16h-16zM782,1104h16v16h-16zM1326,1136h16v16h-16zM686,1216h16v16h-16zM1502,1296h16v16h-16zM1262,1344h16v16h-16zM1454,1360h16v16h-16zM1374,1424h16v16h-16zM1230,1456h16v16h-16zM1246,1488h16v16h-16zM1262,1504h16v16h-16zM1006,1632h16v16h-16zM1006,1648h16v16h-16zM606,2000h16v16h-16zM558,2016h16v16h-16zM558,2064h16v16h-16z" fill="#9a9a9a"/>
<path d="M654,272h32v16h-32zM686,288h16v16h-16zM670,304h16v16h-16zM574,384h16v16h-16zM446,432h16v16h-16zM1262,512h16v16h-16zM1310,528h16v16h-16zM574,592h16v16h-16zM606,592h16v16h-16zM622,608h16v16h-16zM558,624h16v16h-16zM878,688h16v16h-16zM1134,720h16v16h-16zM462,864h16v16h-16zM526,864h16v16h-16zM1454,864h16v16h-16zM1102,880h32v16h-32zM1438,880h16v16h-16zM462,896h16v16h-16zM1422,912h16v16h-16zM670,944h16v16h-16zM1102,976h16v16h-16zM766,1024h16v16h-16zM1294,1040h16v16h-16zM782,1088h16v16h-16zM606,1104h16v16h-16zM686,1120h16v16h-16zM766,1200h16v16h-16zM766,1216h16v16h-16zM766,1232h16v16h-16zM1278,1232h16v16h-16zM1630,1232h16v16h-16zM750,1264h16v16h-16zM1422,1280h16v16h-16zM1246,1392h16v16h-16zM1214,1424h16v16h-16zM1358,1440h16v16h-16zM1342,1456h16v16h-16zM1326,1488h16v16h-16zM942,1616h16v16h-16zM974,1616h16v16h-16zM558,2032h16v16h-16zM558,2048h16v16h-16zM574,2112h16v16h-16z" fill="#9b9b9b"/>
<path d="M638,304h16v16h-16zM494,336h16v16h-16zM510,432h16v16h-16zM478,448h16v16h-16zM558,608h16v16h-16zM846,688h16v16h-16zM1134,784h16v16h-16zM1086,800h16v16h-16zM1454,848h16v16h-16zM478,864h16v16h-16zM510,864h16v16h-16zM462,880h16v16h-16zM558,880h16v16h-16zM622,912h16v16h-16zM1118,912h16v16h-16zM1166,912h16v16h-16zM1374,928h16v16h-16zM686,960h16v16h-16zM1086,960h16v16h-16zM1198,976h16v16h-16zM1406,976h16v16h-16zM734,992h16v16h-16zM1198,992h16v16h-16zM1262,992h16v16h-16zM750,1008h16v16h-16zM590,1040h16v16h-16zM606,1056h16v16h-16zM1198,1056h16v16h-16zM1326,1088h16v16h-16zM654,1104h16v16h-16zM1390,1136h16v16h-16zM766,1184h16v16h-16zM1582,1216h16v16h-16zM1598,1232h16v16h-16zM702,1248h16v16h-16zM1310,1248h16v16h-16zM734,1264h16v16h-16zM1118,1264h16v16h-16zM1374,1264h16v16h-16zM1246,1280h16v16h-16zM1486,1296h16v16h-16zM1518,1312h16v16h-16zM1262,1328h16v16h-16zM1518,1328h16v16h-16zM1502,1344h16v16h-16zM1438,1360h16v16h-16zM1374,1392h16v16h-16zM1374,1408h16v16h-16zM1310,1504h16v16h-16zM958,1616h16v16h-16zM990,1664h16v16h-16zM910,1680h16v16h-16zM958,1680h16v16h-16zM974,1792h16v16h-16zM1038,1792h16v16h-16zM1022,1808h16v16h-16zM574,1952h32v16h-32zM606,2016h16v16h-16zM606,2080h16v16h-16zM590,2112h16v16h-16z" fill="#9c9c9c"/>
<path d="M638,288h16v16h-16zM654,304h16v16h-16zM478,336h16v16h-16zM558,368h16v16h-16zM542,416h16v16h-16zM862,576h32v16h-32zM590,640h16v16h-16zM894,656h16v16h-16zM862,688h16v16h-16zM1502,784h16v16h-16zM1438,832h16v16h-16zM494,864h16v16h-16zM590,896h16v16h-16zM1086,944h16v16h-16zM1230,960h16v16h-16zM1406,960h16v16h-16zM702,976h16v16h-16zM1118,976h16v16h-16zM1390,976h16v16h-16zM670,1088h16v16h-16zM1374,1088h16v16h-16zM686,1104h16v16h-16zM1390,1104h16v16h-16zM766,1168h16v16h-16zM1582,1184h16v16h-16zM1182,1216h16v16h-16zM1230,1232h48v16h-48zM1214,1264h16v16h-16zM1470,1296h16v16h-16zM1278,1360h16v16h-16zM1278,1376h16v16h-16zM1390,1376h16v16h-16zM1246,1472h16v16h-16zM894,1648h16v16h-16zM926,1680h32v16h-32zM990,1776h16v16h-16zM1022,1776h16v16h-16zM990,1808h16v16h-16z" fill="#9d9d9d"/>
<path d="M670,288h16v16h-16zM1294,512h16v16h-16zM590,592h16v16h-16zM830,656h16v16h-16zM1102,800h16v16h-16zM1326,816h16v16h-16zM1326,832h16v16h-16zM478,880h16v16h-16zM542,880h16v16h-16zM1422,896h16v16h-16zM478,912h16v16h-16zM1134,912h32v16h-32zM638,928h16v16h-16zM1214,928h16v16h-16zM1406,944h16v16h-16zM1390,960h16v16h-16zM1182,976h16v16h-16zM542,992h16v16h-16zM1294,1024h16v16h-16zM766,1040h16v16h-16zM606,1072h16v16h-16zM670,1072h16v16h-16zM606,1088h16v16h-16zM1214,1232h16v16h-16zM1294,1248h16v16h-16zM1198,1264h16v16h-16zM1230,1264h16v16h-16zM1358,1264h16v16h-16zM1262,1312h16v16h-16zM1486,1344h16v16h-16zM1422,1360h16v16h-16zM1230,1408h16v16h-16zM1230,1440h16v16h-16zM1326,1472h16v16h-16zM1278,1504h16v16h-16zM910,1632h16v16h-16zM894,1664h16v16h-16zM1006,1776h16v16h-16zM1006,1808h16v16h-16zM606,2032h16v16h-16zM606,2064h16v16h-16z" fill="#9e9e9e"/>
<path d="M654,288h16v16h-16zM510,352h16v16h-16zM446,368h16v16h-16zM446,416h16v16h-16zM526,416h16v16h-16zM1262,544h16v16h-16zM894,592h16v16h-16zM878,672h16v16h-16zM1390,784h16v16h-16zM478,896h16v16h-16zM1374,912h16v16h-16zM494,928h16v16h-16zM1406,928h16v16h-16zM510,944h16v16h-16zM1134,976h16v16h-16zM1166,976h16v16h-16zM718,992h16v16h-16zM654,1056h32v16h-32zM686,1088h16v16h-16zM1390,1120h16v16h-16zM766,1152h16v16h-16zM1342,1264h16v16h-16zM1406,1280h16v16h-16zM1262,1296h16v16h-16zM1454,1296h16v16h-16zM1502,1312h16v16h-16zM1262,1392h16v16h-16zM1294,1504h16v16h-16zM990,1632h16v16h-16zM574,1968h32v16h-32zM606,2048h16v16h-16z" fill="#9f9f9f"/>
<path d="M542,368h16v16h-16zM1278,512h16v16h-16zM830,608h16v16h-16zM846,672h16v16h-16zM1054,752h16v16h-16zM1422,816h16v16h-16zM1438,864h16v16h-16zM494,880h48v16h-48zM574,896h16v16h-16zM606,912h16v16h-16zM1102,928h16v16h-16zM654,944h16v16h-16zM1390,944h16v16h-16zM526,960h16v16h-16zM670,960h16v16h-16zM686,976h16v16h-16zM1150,976h16v16h-16zM1214,992h16v16h-16zM1246,992h16v16h-16zM734,1008h16v16h-16zM1182,1008h16v16h-16zM574,1024h16v16h-16zM750,1024h16v16h-16zM606,1040h16v16h-16zM622,1056h16v16h-16zM766,1056h16v16h-16zM1262,1056h16v16h-16zM654,1072h16v16h-16zM686,1072h16v16h-16zM654,1088h16v16h-16zM622,1104h32v16h-32zM1374,1136h16v16h-16zM702,1152h16v16h-16zM702,1168h16v16h-16zM1630,1200h16v16h-16zM750,1248h16v16h-16zM1230,1248h16v16h-16zM1278,1248h16v16h-16zM1246,1264h16v16h-16zM1262,1280h16v16h-16zM1502,1328h16v16h-16zM1470,1344h16v16h-16zM1374,1376h16v16h-16zM1358,1392h16v16h-16zM1358,1424h16v16h-16zM1246,1456h16v16h-16zM1262,1488h16v16h-16zM990,1648h16v16h-16zM974,1664h16v16h-16zM1022,1792h16v16h-16z" fill="#a0a0a0"/>
<path d="M462,352h16v16h-16zM526,368h16v16h-16zM446,384h16v16h-16zM446,400h16v16h-16zM462,432h16v16h-16zM1262,528h16v16h-16zM1294,544h16v16h-16zM830,640h16v16h-16zM1054,768h16v16h-16zM1438,848h16v16h-16zM1342,864h16v16h-16zM494,896h16v16h-16zM494,912h16v16h-16zM1406,912h16v16h-16zM1390,928h16v16h-16zM1230,944h16v16h-16zM702,992h16v16h-16zM654,1040h32v16h-32zM1182,1040h16v16h-16zM638,1056h16v16h-16zM702,1136h16v16h-16zM766,1136h16v16h-16zM1342,1136h16v16h-16zM702,1184h16v16h-16zM1582,1200h16v16h-16zM1086,1216h16v16h-16zM1630,1216h16v16h-16zM1198,1232h16v16h-16zM1614,1232h16v16h-16zM1214,1248h16v16h-16zM1246,1248h32v16h-32zM1134,1264h16v16h-16zM1182,1264h16v16h-16zM1326,1264h16v16h-16zM1278,1344h16v16h-16zM1406,1360h16v16h-16zM1294,1376h16v16h-16zM1358,1408h16v16h-16zM1230,1424h16v16h-16zM1342,1440h16v16h-16zM1326,1456h16v16h-16zM1310,1488h16v16h-16zM990,1792h16v16h-16zM574,2096h16v16h-16z" fill="#a1a1a1"/>
<path d="M494,432h16v16h-16zM894,640h16v16h-16zM862,672h16v16h-16zM1358,880h16v16h-16zM558,896h16v16h-16zM1230,992h16v16h-16zM558,1008h16v16h-16zM622,1040h32v16h-32zM686,1056h16v16h-16zM1214,1056h16v16h-16zM766,1072h16v16h-16zM766,1088h16v16h-16zM1342,1088h32v16h-32zM766,1104h16v16h-16zM766,1120h16v16h-16zM1326,1120h16v16h-16zM1166,1216h16v16h-16zM1086,1232h16v16h-16zM718,1248h16v16h-16zM1262,1264h16v16h-16zM1294,1264h32v16h-32zM1390,1280h16v16h-16zM1438,1296h16v16h-16zM1486,1312h16v16h-16zM1454,1344h16v16h-16zM1262,1472h16v16h-16zM926,1632h16v16h-16zM974,1632h16v16h-16zM910,1664h16v16h-16zM1006,1792h16v16h-16zM590,2096h16v16h-16z" fill="#a2a2a2"/>
<path d="M494,352h16v16h-16zM510,416h16v16h-16zM478,432h16v16h-16zM1278,544h16v16h-16zM846,592h16v16h-16zM894,608h16v16h-16zM830,624h16v16h-16zM1406,800h16v16h-16zM1422,880h16v16h-16zM510,896h16v16h-16zM1374,896h16v16h-16zM1390,912h16v16h-16zM510,928h16v16h-16zM622,928h16v16h-16zM686,992h16v16h-16zM718,1008h16v16h-16zM1278,1008h16v16h-16zM686,1040h16v16h-16zM622,1072h32v16h-32zM1326,1104h16v16h-16zM702,1120h16v16h-16zM1358,1136h16v16h-16zM702,1232h16v16h-16zM750,1232h16v16h-16zM734,1248h16v16h-16zM1278,1264h16v16h-16zM1278,1280h16v16h-16zM1278,1296h16v16h-16zM1278,1328h16v16h-16zM1486,1328h16v16h-16zM1294,1360h16v16h-16zM1278,1392h16v16h-16zM910,1648h16v16h-16zM958,1664h16v16h-16zM574,1984h32v16h-32z" fill="#a3a3a3"/>
<path d="M478,352h16v16h-16zM1294,528h16v16h-16zM574,624h16v16h-16zM526,896h32v16h-32zM510,912h16v16h-16zM590,912h16v16h-16zM542,976h16v16h-16zM670,976h16v16h-16zM702,1008h16v16h-16zM670,1024h16v16h-16zM734,1024h16v16h-16zM750,1040h16v16h-16zM622,1088h32v16h-32zM702,1104h16v16h-16zM1614,1184h16v16h-16zM702,1200h16v16h-16zM1102,1248h16v16h-16zM1198,1248h16v16h-16zM1150,1264h32v16h-32zM1374,1280h16v16h-16zM1278,1312h16v16h-16zM1470,1312h16v16h-16zM1438,1344h16v16h-16zM1310,1376h16v16h-16zM1358,1376h16v16h-16zM1342,1392h16v16h-16zM1246,1408h16v16h-16zM1246,1440h16v16h-16zM1262,1456h16v16h-16zM1310,1472h16v16h-16zM1278,1488h16v16h-16zM942,1632h32v16h-32zM974,1648h16v16h-16zM926,1664h16v16h-16z" fill="#a4a4a4"/>
<path d="M510,368h16v16h-16zM878,592h16v16h-16zM574,608h16v16h-16zM606,624h16v16h-16zM894,624h16v16h-16zM878,656h16v16h-16zM1358,784h16v16h-16zM1406,896h16v16h-16zM526,944h16v16h-16zM638,944h16v16h-16zM654,960h16v16h-16zM1102,960h16v16h-16zM1214,960h16v16h-16zM686,1008h16v16h-16zM590,1024h16v16h-16zM654,1024h16v16h-16zM686,1024h16v16h-16zM1230,1056h32v16h-32zM702,1072h16v16h-16zM702,1088h16v16h-16zM1374,1104h16v16h-16zM750,1184h16v16h-16zM750,1200h16v16h-16zM702,1216h16v16h-16zM750,1216h16v16h-16zM1294,1280h16v16h-16zM1422,1296h16v16h-16zM1470,1328h16v16h-16zM1390,1360h16v16h-16zM1294,1488h16v16h-16zM942,1664h16v16h-16zM574,2000h16v16h-16zM574,2080h16v16h-16z" fill="#a5a5a5"/>
<path d="M462,368h16v16h-16zM526,400h16v16h-16zM462,416h16v16h-16zM1278,528h16v16h-16zM606,608h16v16h-16zM846,656h16v16h-16zM1374,784h16v16h-16zM1422,832h16v16h-16zM574,912h16v16h-16zM1198,928h16v16h-16zM670,992h16v16h-16zM670,1008h16v16h-16zM638,1024h16v16h-16zM702,1024h32v16h-32zM1182,1024h16v16h-16zM702,1040h16v16h-16zM702,1056h16v16h-16zM750,1056h16v16h-16zM1374,1120h16v16h-16zM750,1168h16v16h-16zM1598,1184h16v16h-16zM1358,1280h16v16h-16zM1454,1312h16v16h-16zM1422,1344h16v16h-16zM1326,1376h32v16h-32zM1294,1392h16v16h-16zM1326,1392h16v16h-16zM1326,1440h16v16h-16zM1310,1456h16v16h-16zM1278,1472h16v16h-16zM926,1648h16v16h-16zM590,2000h16v16h-16z" fill="#a6a6a6"/>
<path d="M526,384h16v16h-16zM510,400h16v16h-16zM558,400h16v16h-16zM862,592h16v16h-16zM1422,864h16v16h-16zM1390,896h16v16h-16zM526,912h16v16h-16zM526,928h16v16h-16zM606,928h16v16h-16zM734,1040h16v16h-16zM750,1152h16v16h-16zM718,1168h16v16h-16zM1310,1280h16v16h-16zM1342,1280h16v16h-16zM1406,1296h16v16h-16zM1454,1328h16v16h-16zM1310,1392h16v16h-16zM1342,1408h16v16h-16zM1246,1424h16v16h-16zM1342,1424h16v16h-16zM1294,1472h16v16h-16zM942,1648h32v16h-32zM590,2080h16v16h-16z" fill="#a7a7a7"/>
<path d="M510,384h16v16h-16zM558,384h16v16h-16zM494,416h16v16h-16zM590,624h16v16h-16zM862,656h16v16h-16zM1422,848h16v16h-16zM542,912h32v16h-32zM542,960h16v16h-16zM606,1024h32v16h-32zM718,1040h16v16h-16zM1278,1040h16v16h-16zM750,1072h16v16h-16zM750,1136h16v16h-16zM718,1152h16v16h-16zM718,1184h16v16h-16zM1150,1216h16v16h-16zM1598,1216h16v16h-16zM1182,1232h16v16h-16zM1326,1280h16v16h-16zM1294,1296h16v16h-16zM1438,1312h16v16h-16zM1294,1344h16v16h-16zM1310,1360h16v16h-16zM1278,1456h32v16h-32zM574,2016h32v16h-32zM574,2064h16v16h-16z" fill="#a8a8a8"/>
<path d="M494,368h16v16h-16zM462,384h16v16h-16zM462,400h16v16h-16zM542,400h16v16h-16zM478,416h16v16h-16zM1406,880h16v16h-16zM622,944h16v16h-16zM1102,944h16v16h-16zM654,976h16v16h-16zM558,992h16v16h-16zM654,1008h16v16h-16zM718,1056h32v16h-32zM750,1088h16v16h-16zM750,1104h16v16h-16zM750,1120h16v16h-16zM718,1136h16v16h-16zM718,1232h32v16h-32zM1182,1248h16v16h-16zM1438,1328h16v16h-16zM1374,1360h16v16h-16zM1262,1408h16v16h-16zM1262,1440h16v16h-16zM574,2032h16v16h-16z" fill="#a9a9a9"/>
<path d="M478,368h16v16h-16zM542,384h16v16h-16zM590,608h16v16h-16zM1070,784h16v16h-16zM1374,880h16v16h-16zM542,928h16v16h-16zM590,928h16v16h-16zM1118,928h16v16h-16zM542,944h16v16h-16zM638,960h16v16h-16zM654,992h16v16h-16zM574,1008h16v16h-16zM1198,1008h16v16h-16zM718,1072h16v16h-16zM718,1088h16v16h-16zM718,1104h16v16h-16zM1358,1104h16v16h-16zM718,1120h16v16h-16zM1342,1120h16v16h-16zM734,1152h16v16h-16zM734,1168h16v16h-16zM734,1184h16v16h-16zM718,1200h16v16h-16zM1390,1296h16v16h-16zM1294,1312h16v16h-16zM1422,1312h16v16h-16zM1294,1328h16v16h-16zM1406,1344h16v16h-16zM590,2032h16v16h-16zM574,2048h16v16h-16zM590,2064h16v16h-16z" fill="#aaaaaa"/>
<path d="M494,400h16v16h-16zM878,640h16v16h-16zM1086,720h16v16h-16zM1134,736h16v16h-16zM1134,768h16v16h-16zM1342,800h16v16h-16zM1214,944h16v16h-16zM734,1072h16v16h-16zM1342,1104h16v16h-16zM1358,1120h16v16h-16zM734,1136h16v16h-16zM734,1200h16v16h-16zM718,1216h32v16h-32zM1310,1296h16v16h-16zM1422,1328h16v16h-16zM1326,1408h16v16h-16zM1310,1440h16v16h-16zM590,2048h16v16h-16z" fill="#ababab"/>
<path d="M494,384h16v16h-16zM478,400h16v16h-16zM846,608h16v16h-16zM878,608h16v16h-16zM846,640h16v16h-16zM1118,720h16v16h-16zM1342,848h16v16h-16zM1390,880h16v16h-16zM558,928h32v16h-32zM638,1008h16v16h-16zM734,1088h16v16h-16zM734,1104h16v16h-16zM734,1120h16v16h-16zM1102,1216h16v16h-16zM1614,1216h16v16h-16zM1374,1296h16v16h-16zM1326,1360h16v16h-16zM1278,1408h16v16h-16zM1262,1424h16v16h-16zM1326,1424h16v16h-16zM1278,1440h16v16h-16z" fill="#acacac"/>
<path d="M478,384h16v16h-16zM1406,816h16v16h-16zM1358,864h16v16h-16zM1182,928h16v16h-16zM606,944h16v16h-16zM1198,960h16v16h-16zM558,976h16v16h-16zM1278,1024h16v16h-16zM1198,1040h16v16h-16zM1598,1200h32v16h-32zM1134,1216h16v16h-16zM1118,1248h16v16h-16zM1406,1312h16v16h-16zM1358,1360h16v16h-16zM1310,1408h16v16h-16zM1294,1440h16v16h-16z" fill="#adadad"/>
<path d="M878,624h16v16h-16zM1406,864h16v16h-16zM558,944h16v16h-16zM558,960h16v16h-16zM638,976h16v16h-16zM1166,1248h16v16h-16zM1326,1296h16v16h-16zM1358,1296h16v16h-16zM1406,1328h16v16h-16zM1310,1344h16v16h-16zM1390,1344h16v16h-16zM1342,1360h16v16h-16zM1294,1408h16v16h-16z" fill="#aeaeae"/>
<path d="M846,624h16v16h-16zM862,640h16v16h-16zM574,944h32v16h-32zM622,960h16v16h-16zM638,992h16v16h-16zM590,1008h16v16h-16zM622,1008h16v16h-16zM1262,1008h16v16h-16zM1166,1232h16v16h-16zM1342,1296h16v16h-16zM1310,1312h16v16h-16zM1310,1424h16v16h-16z" fill="#afafaf"/>
<path d="M862,608h16v16h-16zM1070,736h16v16h-16zM1118,784h16v16h-16zM1390,800h16v16h-16zM1118,960h16v16h-16zM606,1008h16v16h-16zM1118,1216h16v16h-16zM1102,1232h16v16h-16zM1390,1312h16v16h-16zM1278,1424h16v16h-16z" fill="#b0b0b0"/>
<path d="M574,992h16v16h-16zM1134,1248h16v16h-16zM1310,1328h16v16h-16zM1390,1328h16v16h-16zM1294,1424h16v16h-16z" fill="#b1b1b1"/>
<path d="M1134,752h16v16h-16zM1406,832h16v16h-16zM1406,848h16v16h-16zM1134,928h16v16h-16zM574,960h16v16h-16zM606,960h16v16h-16zM1150,1248h16v16h-16zM1374,1312h16v16h-16zM1374,1344h16v16h-16z" fill="#b2b2b2"/>
<path d="M862,624h16v16h-16zM1102,720h16v16h-16zM1390,864h16v16h-16zM1166,928h16v16h-16zM590,960h16v16h-16zM574,976h16v16h-16zM622,976h16v16h-16zM622,992h16v16h-16zM1214,1008h16v16h-16zM1326,1312h16v16h-16zM1326,1344h16v16h-16z" fill="#b3b3b3"/>
<path d="M1374,864h16v16h-16zM1198,1024h16v16h-16zM1262,1040h16v16h-16zM1358,1312h16v16h-16z" fill="#b4b4b4"/>
<path d="M1342,832h16v16h-16zM590,992h16v16h-16zM1150,1232h16v16h-16zM1342,1312h16v16h-16zM1374,1328h16v16h-16zM1358,1344h16v16h-16z" fill="#b5b5b5"/>
<path d="M1342,816h16v16h-16zM1150,928h16v16h-16zM1198,944h16v16h-16zM1182,960h16v16h-16zM590,976h32v16h-32zM606,992h16v16h-16zM1326,1328h16v16h-16zM1342,1344h16v16h-16z" fill="#b6b6b6"/>
<path d="M1246,1008h16v16h-16zM1358,1328h16v16h-16z" fill="#b7b7b7"/>
<path d="M1230,1008h16v16h-16zM1214,1040h16v16h-16zM1118,1232h16v16h-16zM1342,1328h16v16h-16z" fill="#b8b8b8"/>
<path d="M1118,944h16v16h-16zM1134,1232h16v16h-16z" fill="#b9b9b9"/>
<path d="M1358,800h32v16h-32zM1390,848h16v16h-16zM1134,960h16v16h-16z" fill="#bababa"/>
<path d="M1390,816h16v16h-16zM1358,848h16v16h-16z" fill="#bbbbbb"/>
<path d="M1086,784h16v16h-16zM1166,960h16v16h-16zM1262,1024h16v16h-16z" fill="#bcbcbc"/>
<path d="M1246,1040h16v16h-16z" fill="#bdbdbd"/>
<path d="M1390,832h16v16h-16zM1230,1040h16v16h-16z" fill="#bebebe"/>
<path d="M1102,784h16v16h-16zM1374,848h16v16h-16zM1150,960h16v16h-16z" fill="#bfbfbf"/>
<path d="M1214,1024h16v16h-16z" fill="#c0c0c0"/>
<path d="M1070,768h16v16h-16zM1182,944h16v16h-16z" fill="#c1c1c1"/>
<path d="M1070,752h16v16h-16z" fill="#c2c2c2"/>
<path d="M1246,1024h16v16h-16z" fill="#c5c5c5"/>
<path d="M1358,832h16v16h-16zM1134,944h16v16h-16z" fill="#c6c6c6"/>
<path d="M1118,736h16v16h-16zM1358,816h32v16h-32zM1230,1024h16v16h-16z" fill="#c7c7c7"/>
<path d="M1374,832h16v16h-16z" fill="#c8c8c8"/>
<path d="M1166,944h16v16h-16z" fill="#cacaca"/>
<path d="M1086,736h16v16h-16z" fill="#cbcbcb"/>
<path d="M1118,768h16v16h-16z" fill="#cccccc"/>
<path d="M1150,944h16v16h-16z" fill="#cdcdcd"/>
<path d="M1102,736h16v16h-16zM1118,752h16v16h-16z" fill="#d6d6d6"/>
<path d="M1086,768h16v16h-16z" fill="#dddddd"/>
<path d="M1102,768h16v16h-16z" fill="#e2e2e2"/>
<path d="M1086,752h16v16h-16z" fill="#e3e3e3"/>
<path d="M1102,752h16v16h-16z" fill="#ebebeb"/>
</g>
<rect x="190" y="160" width="56" height="500" fill="#fff"/>
</g>
<path d="M1694.1,2325.2 L1702.8,2325.2 L1708.6,2328.1 L1717.6,2334.2 L1727.7,2344.0 L1727.7,2348.0 L1719.4,2348.0 L1716.9,2345.4 L1716.5,2340.7 L1710.4,2338.6 L1700.6,2331.7Z" fill="#a9ddd4"/>
<g fill="none" stroke="#000" stroke-width="4.2" stroke-linejoin="round" stroke-linecap="round">
<path d="M247.4,168.0 L249.1,181.3 L244.1,184.0 L240.7,199.7 L243.4,208.7 L237.4,214.7 L235.7,223.1 L240.7,230.4 L249.1,246.4 L267.4,266.4 L279.1,274.8 L289.8,284.8 L291.8,292.1 L302.4,292.8 L305.8,290.1 L314.1,298.1 L329.1,295.5 L344.2,286.8 L362.5,280.8 L374.2,272.1 L390.9,274.1 L392.5,277.1 L406.6,278.1 L419.2,283.1 L432.6,294.1 L444.3,303.2 L462.6,303.8 L486.0,280.8 L499.3,277.5 L500.3,268.1 L505.3,239.7 L524.4,224.7 L544.4,224.1 L547.7,218.1 L571.1,220.4 L609.4,197.2 L626.0,180.5 L636.5,182.6 L646.2,191.6 L639.3,202.1 L617.7,207.6 L618.4,213.9 L629.5,227.8 L629.5,245.2 L615.6,263.9 L628.1,290.4 L642.0,287.6 L649.0,264.6 L638.6,253.5 L637.2,228.5 L676.8,215.3 L673.3,200.7 L683.7,189.6 L694.9,212.5 L717.8,213.2 L739.4,231.3 L740.1,242.4 L770.0,243.1 L803.3,238.9 L810.0,243.8 L822.4,253.1 L845.7,257.4 L864.1,248.1 L865.1,238.1 L944.2,236.4 L915.8,246.4 L925.8,259.8 L950.8,263.1 L977.5,279.8 L982.5,304.8 L999.2,304.8 L1009.2,313.2 L1032.6,324.8 L1054.3,344.9 L1054.3,361.5 L1066.0,363.2 L1094.3,388.2 L1134.4,394.9 L1137.7,389.9 L1164.4,387.6 L1197.8,397.6 L1232.8,406.6 L1269.5,435.0 L1274.5,443.3 L1282.9,445.0 L1287.9,448.3 L1307.9,511.7 L1314.6,513.4 L1316.2,518.4 L1326.8,524.4 L1330.1,535.6 L1328.5,546.7 L1317.9,556.7 L1309.0,566.7 L1300.1,575.6 L1291.2,580.1 L1284.5,584.5 L1282.3,591.2 L1273.4,601.2 L1270.1,611.2 L1266.7,620.1 L1261.2,624.0 L1240.0,631.2 L1255.6,634.6 L1266.7,632.3 L1282.3,622.3 L1292.3,614.5 L1297.9,604.5 L1302.3,589.0 L1304.5,586.7 L1320.1,586.7 L1347.9,586.7 L1378.0,591.2 L1375.7,600.1 L1372.4,615.7 L1373.5,622.3 L1381.3,614.5 L1389.1,606.8 L1396.9,600.1 L1409.1,601.2 L1420.0,605.7 L1429.1,609.7 L1450.8,618.1 L1469.1,624.7 L1479.1,629.7 L1489.1,623.1 L1495.8,636.4 L1505.8,649.8 L1499.1,664.8 L1495.8,684.8 L1505.8,668.1 L1512.5,663.1 L1525.8,659.8 L1540.9,658.1 L1555.9,663.1 L1587.6,669.8 L1602.6,674.1 L1636.0,672.1 L1649.3,674.1 L1689.4,698.1 L1712.7,718.2 L1736.1,734.9 L1752.8,741.5 L1774.5,744.2 L1792.8,748.2 L1802.8,758.2 L1809.5,781.6 L1817.8,816.6 L1811.2,855.0 L1806.2,868.3 L1792.8,885.0 L1776.1,903.4 L1759.4,920.1 L1746.1,931.7 L1732.7,948.4 L1722.7,968.4 L1702.7,998.5 L1689.4,991.8 L1679.3,1008.5 L1681.0,1035.2 L1682.7,1085.2 L1676.0,1128.6 L1662.7,1168.0 L1659.3,1194.7 L1656.0,1213.1 L1642.6,1229.7 L1632.6,1241.4 L1624.3,1254.8 L1620.9,1269.8 L1617.6,1289.8 L1595.9,1299.8 L1589.2,1304.8 L1584.2,1321.5 L1552.5,1321.5 L1519.2,1324.8 L1499.1,1331.5 L1479.1,1341.5 L1469.1,1348.2 L1440.7,1359.9 L1412.4,1376.6 L1389.0,1389.9 L1379.0,1401.6 L1372.3,1414.9 L1371.3,1448.1 L1374.6,1468.1 L1369.6,1488.1 L1363.0,1501.5 L1346.3,1514.8 L1332.9,1528.2 L1319.6,1548.2 L1306.2,1568.2 L1286.2,1588.2 L1266.2,1604.9 L1256.2,1614.9 L1246.2,1635.0 L1236.2,1651.6 L1217.8,1668.3 L1206.1,1688.4 L1199.4,1691.7 L1167.7,1708.4 L1142.7,1701.7 L1126.0,1705.0 L1096.0,1691.7 L1076.0,1691.7 L1056.0,1676.7 L1054.3,1689.0 L1092.7,1716.7 L1089.3,1738.4 L1109.3,1755.1 L1109.3,1768.4 L1076.0,1811.8 L1029.3,1828.5 L965.9,1835.2 L929.1,1831.8 L935.8,1850.2 L929.1,1875.2 L934.2,1891.9 L915.8,1901.9 L882.4,1906.9 L852.4,1895.3 L839.0,1901.9 L844.1,1935.3 L865.7,1945.3 L884.1,1935.3 L892.4,1952.0 L864.1,1961.3 L837.7,1982.2 L833.5,2014.2 L825.1,2032.3 L794.5,2032.3 L769.5,2048.9 L759.8,2072.6 L791.8,2096.2 L822.4,2102.6 L811.2,2132.4 L773.7,2149.1 L751.4,2188.0 L723.6,2199.1 L709.7,2214.4 L719.5,2247.8 L741.7,2267.2 L724.4,2267.1 L699.3,2263.7 L672.6,2278.8 L656.0,2285.4 L647.6,2313.8 L639.3,2313.8 L599.2,2302.1 L562.5,2280.4 L524.1,2263.7 L512.5,2243.7 L522.5,2225.4 L505.8,2203.7 L500.8,2148.6 L515.8,2116.9 L549.2,2091.9 L500.8,2082.9 L530.8,2055.2 L542.5,2001.8 L579.2,2011.8 L594.2,1945.1 L572.5,1938.4 L562.5,1977.4 L542.5,1971.7 L557.5,1900.0 L562.7,1868.6 L579.4,1846.9 L567.7,1811.8 L566.1,1777.8 L579.4,1776.8 L597.8,1730.1 L622.8,1671.7 L636.2,1625.0 L627.8,1578.2 L637.8,1549.9 L634.5,1511.5 L652.8,1471.4 L656.2,1421.4 L664.5,1368.0 L672.9,1318.6 L679.5,1268.6 L674.5,1215.2 L669.5,1171.8 L637.8,1155.1 L634.5,1140.1 L572.7,1110.0 L512.7,1073.3 L489.3,1053.3 L476.0,1026.6 L481.0,1016.6 L452.6,974.9 L419.2,914.8 L390.9,851.4 L377.5,834.7 L367.5,813.1 L342.5,793.0 L319.1,779.7 L327.5,768.0 L314.1,733.6 L324.1,713.6 L350.8,691.9 L369.2,666.9 L360.8,653.5 L349.2,668.6 L329.1,653.5 L335.8,645.2 L332.5,635.2 L329.1,616.8 L340.8,611.8 L345.8,591.8 L359.2,568.4 L357.5,556.8 L396.6,537.7 L392.5,528.4 L405.9,525.1 L404.2,510.0 L412.6,496.7 L427.6,493.4 L452.6,458.3 L440.9,451.6 L445.9,435.0 L440.9,401.6 L445.9,388.2 L440.9,364.9 L429.3,349.9 L419.2,339.9 L410.9,323.2 L417.6,314.8 L409.2,309.8 L402.6,299.8 L387.5,291.5 L374.2,293.1 L360.8,309.8 L347.5,314.8 L345.8,321.5 L360.8,338.2 L350.8,343.2 L345.8,348.2 L332.5,349.9 L325.8,331.5 L312.5,333.2 L305.8,321.5 L280.8,313.2 L265.7,318.8 L249.1,309.8 L240.7,303.2 L242.4,293.1 L232.4,283.1 L210.7,271.4 L207.3,261.4 L199.0,256.4"/>
<path d="M942.5,258.1 L952.5,249.8 L950.8,233.1 L974.2,230.7 L974.2,256.4Z"/>
<path d="M532.5,2282.1 L555.8,2288.8 L599.2,2308.8 L645.9,2322.1 L664.3,2307.1 L674.3,2285.4 L702.7,2272.1 L726.0,2275.4 L752.7,2315.5 L799.4,2335.5 L841.2,2342.2 L826.1,2358.8 L797.8,2360.5 L776.1,2352.2 L767.7,2362.2 L742.7,2372.2 L712.7,2370.5 L686.0,2362.2 L649.3,2355.5 L612.6,2340.5 L575.9,2320.5Z"/>
<path d="M965.6,2243.6 L1004.5,2231.1 L1030.9,2239.4 L1050.9,2226.9 L1076.8,2242.2 L1067.1,2253.3 L1024.0,2263.1 L1008.7,2250.6 L982.3,2265.9Z"/>
<path d="M617.7,209.7 L639.3,210.4 L640.6,203.5"/>
<path d="M1302.3,589.0 L1301.2,597.9 L1299.0,616.8 L1301.2,625.7 L1304.5,633.5 L1312.3,636.8 L1325.7,635.7 L1337.9,633.5 L1341.2,629.0 L1345.7,631.2 L1353.5,627.9 L1361.3,624.6 L1362.4,620.1 L1367.9,620.1 L1372.4,615.7"/>
<path d="M1297.9,611.2 L1300.1,617.9 L1303.4,631.2 L1306.8,640.1 L1313.4,646.8 L1326.8,643.5 L1336.8,643.5 L1347.9,637.9 L1353.5,639.0 L1364.6,633.5 L1371.3,627.9 L1375.7,633.5 L1379.1,629.0 L1373.5,622.3"/>
<path d="M1337.9,666.8 L1343.5,653.5 L1349.0,637.9"/>
<path d="M1273.4,620.1 L1277.8,609.0 L1282.3,602.3 L1286.7,597.9 L1289.0,602.3 L1284.5,609.0 L1277.8,617.9 L1273.4,620.1"/>
<path d="M1293.4,589.0 L1296.8,583.4 L1303.4,581.7 L1306.8,584.5 L1302.3,589.0 L1296.8,591.2 L1293.4,589.0"/>
<path d="M1311.2,568.9 L1317.9,561.2 L1324.6,562.3 L1323.4,566.7 L1316.8,570.1 L1311.2,568.9"/>
<path d="M1317.9,577.8 L1320.1,572.3 L1330.1,571.2 L1335.7,574.5 L1331.2,577.8 L1324.6,580.1 L1317.9,577.8"/>
<path d="M1336.8,582.3 L1337.9,579.0 L1344.6,579.0 L1346.8,583.4 L1342.4,584.5 L1336.8,582.3"/>
<path d="M1494.1,1328.2 L1502.5,1321.5 L1515.8,1322.2 L1525.8,1320.8 L1529.2,1324.8 L1519.2,1326.5 L1502.5,1328.2"/>
<path d="M199.0,228.1 L210.7,225.4 L220.7,229.7 L227.4,234.7 L235.7,236.4 L240.7,231.4"/>
<path d="M266.7,318.8 L269.1,306.5 L271.7,296.8 L268.1,291.8 L270.4,279.8 L277.8,276.8"/>
<path d="M444.3,303.2 L449.3,324.2 L445.3,332.2 L432.6,333.9 L429.3,348.2"/>
<path d="M396.6,537.7 L432.6,555.1 L442.6,568.4 L469.3,573.5 L479.3,568.4 L511.0,585.1"/>
<path d="M511.0,585.1 L517.7,583.5 L539.4,600.1 L552.7,616.8 L566.1,623.5 L584.4,655.9 L606.1,660.2 L624.5,651.9 L636.2,656.9 L654.5,655.2 L681.2,668.6 L661.2,701.9 L669.5,701.9 L682.9,716.9"/>
<path d="M511.0,585.1 L514.4,611.8 L502.7,631.8 L469.3,665.2 L430.9,678.6 L409.2,705.3 L402.6,730.3 L385.9,742.0 L369.2,721.9 L345.8,721.9 L344.2,710.3 L352.5,703.6 L350.8,693.6"/>
<path d="M686.2,525.1 L686.9,548.4 L704.6,548.4 L707.9,561.1 L681.2,563.4 L679.5,586.8 L694.6,598.5 L699.6,616.8 L691.2,668.6 L682.9,716.9"/>
<path d="M686.2,525.1 L739.6,524.4 L738.9,518.4 L741.3,516.7 L744.6,523.4 L752.9,521.7 L764.6,513.4 L773.0,521.7 L778.0,545.1"/>
<path d="M682.9,716.9 L669.5,715.3 L656.2,720.3 L617.8,735.3 L592.8,747.0 L587.8,768.0"/>
<path d="M617.7,208.3 L610.1,224.3 L598.9,232.7 L588.5,245.2 L585.7,265.3 L576.7,286.9 L592.7,289.0 L596.8,303.6 L604.5,312.6 L605.9,318.0"/>
<path d="M604.5,314.8 L604.5,341.5 L617.8,356.5 L661.2,353.2 L681.2,358.2 L701.2,384.9 L756.3,379.9 L768.0,384.9 L759.6,404.9 L752.9,435.0 L759.6,461.7 L769.6,471.7 L752.9,490.0 L773.0,508.4 L779.6,528.4 L783.0,543.4 L799.0,556.8"/>
<path d="M799.0,556.8 L812.3,551.8 L824.0,558.4 L832.4,548.4 L859.1,535.1 L870.7,528.4 L875.8,515.1 L895.8,503.4"/>
<path d="M1009.2,313.2 L984.2,331.5 L982.5,341.5 L992.5,356.5 L984.2,361.5 L965.9,368.2 L964.2,381.6 L959.2,389.9 L982.5,414.9"/>
<path d="M982.5,416.6 L972.5,431.6 L955.8,438.3 L934.2,448.3 L914.1,455.0 L909.1,465.0 L905.8,459.0 L895.8,455.0 L884.1,455.0 L870.7,451.0 L854.1,449.0 L849.7,444.3 L852.4,451.0 L860.7,454.3 L862.4,478.3 L867.4,501.7 L895.8,503.4"/>
<path d="M865.7,456.7 L870.7,478.3 L874.1,501.7"/>
<path d="M895.8,503.4 L914.1,515.1 L917.5,531.7 L924.1,551.8 L923.1,578.5 L924.1,603.5 L945.8,626.8 L952.5,628.5 L953.2,608.5 L962.5,598.5 L972.5,598.5 L980.9,608.5 L990.9,603.5 L1000.9,575.1 L1037.6,574.5"/>
<path d="M982.5,414.9 L999.2,413.3 L1002.6,425.0 L1012.6,440.0 L1019.2,455.0 L1009.2,466.7 L1007.6,485.0 L1009.2,501.7 L1014.2,521.7 L1024.3,531.7 L1037.6,538.4"/>
<path d="M1037.6,538.4 L1039.3,595.1 L1045.9,598.5 L1052.6,611.8 L1066.0,625.2 L1089.3,638.5 L1112.7,650.2 L1121.0,658.5 L1069.3,768.0"/>
<path d="M1037.6,538.4 L1052.6,531.7 L1076.0,524.4 L1099.3,516.7 L1112.7,518.4 L1134.4,521.7 L1132.7,510.0 L1136.0,503.4 L1149.4,501.7 L1164.4,500.0 L1171.1,505.0 L1181.1,511.7 L1196.1,513.4 L1204.5,506.7 L1214.5,508.4 L1217.8,513.4 L1232.8,511.7 L1249.5,491.7 L1272.9,448.3"/>
<path d="M1094.3,389.9 L1092.7,416.6 L1074.3,425.0 L1071.0,451.6 L1067.6,453.3 L1082.6,473.3 L1092.7,475.0 L1099.3,495.0 L1112.7,518.4"/>
<path d="M1197.8,397.6 L1181.1,425.0 L1184.4,445.0 L1196.1,465.0 L1187.8,505.0 L1181.1,511.7"/>
<path d="M1171.1,505.0 L1172.7,515.1 L1189.4,526.7 L1202.8,528.4 L1212.8,536.7 L1219.5,551.8"/>
<path d="M1220.0,553.4 L1225.6,556.7 L1226.7,566.7 L1231.1,577.8 L1235.6,586.7 L1242.2,593.4 L1245.6,604.5 L1252.3,614.5 L1262.3,619.0"/>
<path d="M1369.0,749.9 L1382.3,738.2 L1395.7,728.2 L1412.4,711.5 L1425.7,688.1 L1432.4,671.4 L1440.7,646.4 L1449.1,621.4 L1450.8,618.1"/>
<path d="M1587.6,671.4 L1589.2,678.1 L1569.2,693.1 L1559.2,701.5 L1552.5,718.2 L1554.2,734.9 L1550.9,768.2 L1554.2,794.9 L1535.9,799.9 L1522.5,801.6 L1509.2,811.6 L1502.5,819.9 L1479.1,825.0 L1469.1,831.6 L1462.4,851.6 L1457.4,868.3 L1457.4,885.0 L1458.4,908.4 L1457.4,915.1"/>
<path d="M1369.0,749.9 L1385.7,754.9 L1392.4,758.2 L1405.7,761.5 L1410.7,784.9 L1405.7,801.6 L1400.7,813.3 L1412.4,825.0 L1422.4,835.0 L1435.7,838.3 L1440.7,845.0 L1430.7,851.6 L1422.4,870.0 L1430.7,881.7 L1437.4,895.0 L1447.4,908.4 L1457.4,913.4"/>
<path d="M1457.4,915.1 L1445.8,925.1 L1439.1,938.4 L1439.1,950.1 L1449.1,960.1 L1449.1,988.5 L1449.1,1011.8 L1452.4,1035.2 L1457.4,1051.9 L1452.4,1068.6"/>
<path d="M1457.4,915.1 L1469.1,921.7 L1479.1,930.1 L1487.5,931.7 L1502.5,925.1 L1519.2,918.4 L1527.5,905.0 L1525.8,888.4 L1532.5,883.4 L1549.2,885.0 L1562.5,890.0 L1579.2,881.7 L1595.9,868.3 L1609.3,861.7 L1615.9,865.0 L1622.6,875.0 L1626.0,886.7 L1636.0,881.7 L1649.3,870.0 L1666.0,858.3 L1682.7,863.3 L1699.4,870.0 L1707.7,880.0"/>
<path d="M1602.6,674.1 L1600.9,691.5 L1609.3,718.2 L1612.6,744.9 L1617.6,768.2 L1624.3,788.2 L1631.0,801.6 L1627.6,818.3 L1629.3,835.0 L1622.6,848.3 L1610.9,858.3 L1609.3,861.7"/>
<path d="M1629.3,818.3 L1649.3,817.6 L1662.7,818.3 L1676.0,828.3 L1681.0,835.0 L1689.4,828.3"/>
<path d="M1734.4,736.5 L1719.4,749.9 L1709.4,764.9 L1704.4,781.6 L1696.0,784.9 L1692.7,801.6 L1694.4,813.3 L1689.4,825.0 L1681.0,835.0"/>
<path d="M1696.0,788.2 L1712.7,781.6 L1727.7,776.6 L1737.7,776.6 L1729.4,784.9 L1729.4,796.6 L1739.4,799.9 L1751.1,801.6 L1756.1,806.6 L1759.4,796.6 L1766.1,784.9 L1782.8,788.9 L1807.8,789.9"/>
<path d="M1689.4,828.3 L1706.0,830.0 L1722.7,821.6 L1736.1,816.6 L1742.7,821.6 L1739.4,835.0 L1742.7,845.0 L1752.8,841.6 L1759.4,835.0 L1769.4,828.3 L1784.5,825.0 L1802.8,823.3 L1812.8,821.6"/>
<path d="M1707.7,880.0 L1719.4,870.0 L1732.7,871.7 L1747.8,881.7 L1769.4,876.7 L1786.1,868.3 L1799.5,868.3 L1804.5,870.0"/>
<path d="M1707.7,880.0 L1722.7,888.4 L1736.1,896.7 L1752.8,905.0 L1762.8,918.4"/>
<path d="M1709.4,893.4 L1717.7,905.0 L1719.4,921.7 L1706.0,928.4 L1712.7,945.1 L1722.7,953.4 L1729.4,951.8 L1736.1,941.7"/>
<path d="M1452.4,1068.6 L1459.1,1065.2 L1472.4,1058.5 L1485.8,1051.9 L1495.8,1045.2 L1512.5,1041.9 L1522.5,1041.9 L1525.8,1050.2 L1539.2,1053.5 L1552.5,1055.2 L1569.2,1065.2 L1585.9,1068.6 L1602.6,1078.6 L1605.9,1086.9 L1622.6,1086.9 L1632.6,1091.9 L1646.0,1095.3 L1651.3,1098.9"/>
<path d="M1652.7,1098.7 L1651.6,1104.5 L1645.7,1110.4 L1639.8,1113.9 L1638.7,1119.8 L1641.0,1123.3 L1634.0,1124.5 L1630.4,1125.6 L1628.1,1137.4 L1630.4,1144.4 L1636.3,1150.3 L1642.2,1156.2 L1656.3,1170.3 L1658.6,1171.7"/>
<path d="M1642.2,1156.4 L1636.3,1156.8 L1618.7,1159.7 L1618.7,1162.0 L1623.4,1164.4 L1615.2,1166.7 L1610.5,1170.3 L1611.7,1172.6 L1616.3,1173.8 L1618.7,1182.0 L1617.5,1185.5 L1609.3,1187.9 L1610.5,1191.4 L1617.5,1194.9 L1618.7,1202.0 L1617.5,1206.6 L1614.0,1210.2 L1610.5,1214.9 L1607.0,1219.6 L1604.6,1223.1 L1603.4,1229.0 L1594.0,1231.3 L1588.2,1236.0 L1589.3,1240.7 L1588.2,1247.7 L1584.7,1253.6 L1580.0,1257.1 L1577.6,1259.9"/>
<path d="M1452.4,1068.6 L1444.1,1061.9 L1439.1,1055.2 L1427.4,1065.2 L1425.7,1081.9 L1422.4,1095.3 L1412.4,1098.6 L1409.0,1118.6 L1415.7,1132.0 L1407.4,1142.0 L1412.4,1168.0"/>
<path d="M1382.3,1081.9 L1410.7,1081.9 L1412.4,1098.6 L1382.3,1098.6 L1382.3,1081.9"/>
<path d="M1369.0,1005.2 L1382.3,1001.8 L1399.0,1005.2 L1412.4,1001.8 L1429.1,996.8 L1445.8,995.1 L1450.8,998.5"/>
<path d="M581.1,768.0 L577.8,778.0 L581.1,793.0 L566.1,799.7 L561.1,809.7 L564.4,814.7 L554.4,818.1 L556.1,826.4 L562.7,838.1 L569.4,851.4 L579.4,864.8 L586.1,874.8 L579.4,884.8 L602.8,888.1 L612.8,903.2 L639.5,903.2 L664.5,886.5 L662.8,934.9"/>
<path d="M564.4,811.4 L596.1,824.7 L669.5,843.1 L719.6,868.1 L786.3,899.8 L799.0,888.1"/>
<path d="M662.8,934.9 L679.5,939.9 L697.9,936.5 L721.2,938.2 L736.3,934.9 L746.3,924.8 L788.0,899.8 L799.0,898.1"/>
<path d="M697.9,936.5 L726.3,986.6 L717.9,998.3 L716.2,1046.6 L702.9,1061.7 L709.6,1078.3 L701.2,1086.7 L716.2,1113.4 L696.2,1148.4"/>
<path d="M669.5,1171.8 L686.2,1163.4 L696.2,1148.4"/>
<path d="M696.2,1148.4 L709.6,1168.4 L714.6,1191.8 L729.6,1205.2 L722.9,1238.5 L739.6,1275.2 L752.9,1318.6 L773.0,1315.3 L779.6,1325.3 L768.0,1355.3 L739.6,1368.0"/>
<path d="M773.0,1315.3 L799.0,1288.6"/>
<path d="M1069.3,768.0 L1056.0,794.7 L1054.3,801.4 L1062.6,816.4 L1057.6,828.1 L1056.0,851.4 L1050.9,863.1 L954.2,864.1"/>
<path d="M1062.6,816.4 L1076.0,834.7 L1081.0,856.4 L1092.7,871.4 L1109.3,883.1 L1119.4,886.5 L1317.9,896.5"/>
<path d="M1317.9,896.5 L1332.9,871.4 L1349.6,844.8 L1352.9,829.7 L1347.9,821.4 L1351.3,804.7 L1366.3,791.4 L1379.6,778.0 L1381.3,768.0"/>
<path d="M954.2,864.1 L955.8,874.8 L954.2,889.8 L955.8,911.5 L954.2,934.9 L992.5,936.5 L1004.2,941.5 L1005.9,954.9 L1002.6,964.9 L1009.2,981.6 L1002.6,998.3 L995.9,1008.3 L982.5,1018.3"/>
<path d="M954.2,864.1 L945.8,861.4 L935.8,856.4 L922.5,844.8 L914.1,839.7 L890.8,838.7 L879.1,849.8 L874.1,861.4 L870.7,866.4 L859.1,869.8 L845.7,873.1 L842.4,878.1 L832.4,881.5 L819.0,886.5 L810.7,883.1 L799.0,884.8"/>
<path d="M799.0,898.1 L830.7,894.8 L832.4,924.8 L830.7,949.9 L842.4,966.6 L864.1,983.2 L887.4,988.2 L909.1,994.9 L932.5,1004.9 L947.5,1016.6 L965.9,1016.6 L984.2,1021.6 L990.9,1031.6 L992.5,1048.3 L995.9,1066.7 L985.9,1066.7 L992.5,1081.7 L999.2,1105.7 L1059.3,1106.7 L1056.0,1118.4 L1057.6,1131.7 L1066.0,1140.1 L1077.6,1148.4 L1084.3,1158.4 L1081.0,1175.1 L1076.0,1191.8 L1066.0,1215.2 L1064.3,1228.5 L1071.0,1241.9 L1071.0,1295.3 L1116.0,1293.6 L1139.4,1301.9 L1146.1,1318.6 L1152.7,1352.0 L1186.1,1355.3 L1187.8,1368.0"/>
<path d="M945.8,1213.5 L1002.6,1203.5 L1032.6,1203.5 L1062.6,1220.2 L1072.6,1215.2 L1066.0,1228.5"/>
<path d="M945.8,1213.5 L930.8,1241.9 L919.1,1295.3 L875.8,1290.2 L862.4,1315.3 L845.7,1295.3 L799.0,1283.6"/>
<path d="M919.1,1295.3 L975.9,1350.3 L1012.6,1358.7 L1025.9,1368.0"/>
<path d="M1084.3,1156.8 L1099.3,1151.8 L1112.7,1138.4 L1129.4,1135.1 L1142.7,1141.7 L1159.4,1148.4 L1176.1,1145.1 L1187.8,1148.4 L1206.1,1138.4 L1197.8,1156.8 L1224.5,1161.8"/>
<path d="M1224.5,1161.8 L1231.1,1181.8 L1249.5,1186.8 L1269.5,1195.1 L1294.6,1205.2 L1292.9,1223.5"/>
<path d="M1294.6,1205.2 L1309.6,1185.1 L1326.3,1180.1 L1356.3,1173.5 L1399.0,1171.8 L1412.3,1167.8"/>
<path d="M1294.6,1223.5 L1276.2,1245.2 L1264.5,1268.6 L1251.2,1288.6 L1229.5,1305.3 L1209.5,1321.9 L1196.1,1342.0 L1189.4,1368.0"/>
<path d="M1229.5,1305.3 L1259.5,1308.6 L1329.6,1318.6 L1339.6,1335.3 L1349.6,1368.0"/>
<path d="M1294.6,1223.5 L1309.6,1218.5 L1349.6,1223.5 L1359.6,1236.9 L1366.3,1230.2 L1399.0,1225.2"/>
<path d="M1224.5,1161.8 L1222.8,1135.1 L1229.5,1121.7 L1239.5,1111.7 L1242.8,1105.0 L1259.5,1093.4 L1272.9,1075.0 L1286.2,1061.7 L1292.9,1048.3 L1299.6,1028.3 L1304.6,1008.3 L1312.9,991.6 L1319.6,981.6"/>
<path d="M1314.6,998.3 L1332.9,1004.9 L1346.3,1006.6 L1356.3,989.9 L1366.3,1001.6 L1373.0,1003.3 L1399.0,1008.3"/>
<path d="M1317.9,896.5 L1306.2,928.2 L1302.9,954.9 L1306.2,981.6 L1311.2,994.9 L1314.6,998.3"/>
<path d="M1579.2,1254.8 L1572.6,1274.8 L1570.9,1279.8"/>
<path d="M1589.2,1249.8 L1590.9,1261.4 L1615.9,1264.8 L1619.3,1288.1"/>
<path d="M1570.9,1279.8 L1549.2,1289.8 L1525.8,1291.5 L1502.5,1299.8 L1495.8,1303.2 L1504.2,1309.8 L1512.5,1311.5 L1510.8,1314.8 L1495.8,1318.2"/>
<path d="M1369.0,1229.7 L1385.7,1228.1 L1405.7,1226.4 L1414.1,1233.1 L1417.4,1248.1 L1422.4,1261.4 L1439.1,1274.8 L1434.1,1291.5 L1440.7,1311.5 L1449.1,1318.2 L1459.1,1314.8 L1462.4,1309.8 L1479.1,1306.5 L1495.8,1301.5"/>
<path d="M1369.0,1173.0 L1385.7,1174.7 L1402.4,1168.0"/>
<path d="M734.6,1368.0 L734.6,1423.1 L727.9,1434.7 L736.3,1448.1 L712.9,1468.1 L692.9,1498.1 L681.2,1528.2 L684.5,1558.2 L664.5,1591.6 L679.5,1648.3 L687.9,1653.3 L687.9,1681.7 L669.5,1715.1 L669.5,1740.1 L646.2,1761.8 L646.2,1791.8 L656.2,1821.8 L636.2,1835.2 L627.8,1861.9 L619.5,1896.9 L624.5,1935.3 L612.8,1942.0 L617.8,1968.0"/>
<path d="M1020.9,1368.0 L1045.9,1379.7 L1076.0,1391.4 L1081.0,1404.7 L1049.3,1454.8 L1116.0,1468.1 L1142.7,1463.1 L1171.1,1438.1 L1177.8,1401.4 L1186.1,1368.0"/>
<path d="M1081.0,1553.2 L1099.3,1534.9 L1122.7,1511.5 L1146.1,1488.1 L1172.7,1469.8 L1204.5,1454.8 L1207.8,1429.7 L1204.5,1418.1 L1192.8,1404.7 L1179.4,1408.0 L1177.8,1401.4"/>
<path d="M1207.8,1428.1 L1226.1,1426.4 L1232.8,1429.7 L1279.5,1438.1 L1286.2,1428.1 L1306.2,1421.4 L1332.9,1418.1 L1346.3,1423.1 L1366.3,1418.1 L1373.0,1414.7"/>
<path d="M1206.1,1454.8 L1232.8,1458.1 L1266.2,1468.1 L1289.5,1481.5 L1302.9,1493.1 L1312.9,1498.1 L1332.9,1499.8 L1326.3,1508.2 L1324.6,1521.5 L1332.9,1523.2"/>
<path d="M1081.0,1553.2 L1092.7,1554.9 L1102.7,1551.5 L1132.7,1573.2 L1136.0,1581.6 L1144.4,1574.9 L1159.4,1586.6 L1206.1,1613.3 L1226.1,1635.0 L1209.5,1651.6 L1214.5,1665.0 L1217.8,1668.3"/>
<path d="M1056.0,1675.0 L1057.6,1651.6 L1066.0,1643.3 L1064.3,1614.9 L1071.0,1581.6 L1081.0,1553.2"/>
<path d="M1257.8,1614.9 L1272.9,1588.2 L1286.2,1568.2 L1292.9,1561.5 L1286.2,1549.9 L1291.2,1558.2 L1306.2,1554.9 L1307.9,1561.5 L1296.2,1574.9 L1289.5,1591.6 L1279.5,1601.6 L1266.2,1608.3 L1257.8,1614.9"/>
<path d="M1349.6,1368.0 L1351.3,1373.0 L1366.3,1374.7 L1376.3,1381.3 L1386.3,1384.7 L1399.0,1383.0"/>
<path d="M619.2,1900.0 L625.9,1935.0 L612.6,1941.7 L619.2,1980.1 L634.3,1990.1 L624.3,2005.1 L637.6,2010.1 L642.6,2023.5 L629.3,2028.5 L632.6,2046.8 L620.9,2091.9 L602.6,2120.2 L607.6,2135.3 L595.9,2155.3 L572.5,2167.0 L574.2,2202.0 L585.9,2215.4 L607.6,2213.7 L607.6,2237.0 L620.9,2257.1 L689.3,2260.4 L742.7,2267.1"/>
<path d="M726.0,2275.4 L726.0,2347.2 L776.1,2348.8"/>
</g>

<g transform="translate(1740,2180) scale(0.11123)">
<path d="M170,640 C165,760 200,900 300,1020 C420,1160 600,1262 800,1265 C1050,1268 1260,1140 1390,980 C1500,840 1555,660 1575,480 L1580,420 L1650,420 L1435,200 L1200,420 L1278,420 C1270,560 1230,720 1150,860 C1060,990 940,1060 800,1075 C620,1090 450,1040 330,940 C250,870 195,780 170,640 Z" fill="#0473ba"/>
<path d="M178,655 C160,450 260,250 420,150 C560,70 760,70 880,140 C990,210 1030,350 1033,505 L1095,507 L872,712 L682,507 L752,507 C760,420 720,350 640,320 C540,290 430,320 340,400 C260,470 205,580 192,690" fill="none" stroke="#0473ba" stroke-width="14"/>
<circle cx="870" cy="885" r="150" fill="#f29100"/>
<text x="262" y="776" font-size="215" font-weight="bold" font-style="italic" textLength="458" lengthAdjust="spacingAndGlyphs" font-family="DejaVu Sans, Liberation Sans, sans-serif" fill="#111">INPE</text>
</g>

</svg>
<rect x="198.4" y="168.5" width="1771.1" height="2214.9" fill="none" stroke="#000" stroke-width="3.0"/>
<text x="360.6" y="2449" font-size="58.3" text-anchor="middle" font-family="DejaVu Sans, Liberation Sans, sans-serif">80°W</text>
<text x="682.5" y="2449" font-size="58.3" text-anchor="middle" font-family="DejaVu Sans, Liberation Sans, sans-serif">70°W</text>
<text x="1004.3" y="2449" font-size="58.3" text-anchor="middle" font-family="DejaVu Sans, Liberation Sans, sans-serif">60°W</text>
<text x="1326.2" y="2449" font-size="58.3" text-anchor="middle" font-family="DejaVu Sans, Liberation Sans, sans-serif">50°W</text>
<text x="1648.1" y="2449" font-size="58.3" text-anchor="middle" font-family="DejaVu Sans, Liberation Sans, sans-serif">40°W</text>
<text x="178" y="277.2" font-size="58.3" text-anchor="end" font-family="DejaVu Sans, Liberation Sans, sans-serif">10°N</text>
<text x="178" y="599.0" font-size="58.3" text-anchor="end" font-family="DejaVu Sans, Liberation Sans, sans-serif">0°</text>
<text x="178" y="920.8" font-size="58.3" text-anchor="end" font-family="DejaVu Sans, Liberation Sans, sans-serif">10°S</text>
<text x="178" y="1242.6" font-size="58.3" text-anchor="end" font-family="DejaVu Sans, Liberation Sans, sans-serif">20°S</text>
<text x="178" y="1564.4" font-size="58.3" text-anchor="end" font-family="DejaVu Sans, Liberation Sans, sans-serif">30°S</text>
<text x="178" y="1886.2" font-size="58.3" text-anchor="end" font-family="DejaVu Sans, Liberation Sans, sans-serif">40°S</text>
<text x="178" y="2208.0" font-size="58.3" text-anchor="end" font-family="DejaVu Sans, Liberation Sans, sans-serif">50°S</text>
<rect x="2011.5" y="2203.12" width="46.19999999999982" height="24.68" fill="#563105"/>
<rect x="2011.5" y="2179.05" width="46.19999999999982" height="24.68" fill="#5d3506"/>
<rect x="2011.5" y="2154.97" width="46.19999999999982" height="24.68" fill="#663a07"/>
<rect x="2011.5" y="2130.90" width="46.19999999999982" height="24.68" fill="#6c3e07"/>
<rect x="2011.5" y="2106.82" width="46.19999999999982" height="24.68" fill="#734208"/>
<rect x="2011.5" y="2082.74" width="46.19999999999982" height="24.68" fill="#794608"/>
<rect x="2011.5" y="2058.67" width="46.19999999999982" height="24.68" fill="#824b09"/>
<rect x="2011.5" y="2034.59" width="46.19999999999982" height="24.68" fill="#894f0a"/>
<rect x="2011.5" y="2010.52" width="46.19999999999982" height="24.68" fill="#8f540c"/>
<rect x="2011.5" y="1986.44" width="46.19999999999982" height="24.68" fill="#955910"/>
<rect x="2011.5" y="1962.36" width="46.19999999999982" height="24.68" fill="#9d6116"/>
<rect x="2011.5" y="1938.29" width="46.19999999999982" height="24.68" fill="#a3671a"/>
<rect x="2011.5" y="1914.21" width="46.19999999999982" height="24.68" fill="#a96c1e"/>
<rect x="2011.5" y="1890.14" width="46.19999999999982" height="24.68" fill="#af7222"/>
<rect x="2011.5" y="1866.06" width="46.19999999999982" height="24.68" fill="#b57826"/>
<rect x="2011.5" y="1841.98" width="46.19999999999982" height="24.68" fill="#bd7f2c"/>
<rect x="2011.5" y="1817.91" width="46.19999999999982" height="24.68" fill="#c28633"/>
<rect x="2011.5" y="1793.83" width="46.19999999999982" height="24.68" fill="#c58e3d"/>
<rect x="2011.5" y="1769.76" width="46.19999999999982" height="24.68" fill="#c99546"/>
<rect x="2011.5" y="1745.68" width="46.19999999999982" height="24.68" fill="#cea053"/>
<rect x="2011.5" y="1721.61" width="46.19999999999982" height="24.68" fill="#d2a75c"/>
<rect x="2011.5" y="1697.53" width="46.19999999999982" height="24.68" fill="#d6af65"/>
<rect x="2011.5" y="1673.45" width="46.19999999999982" height="24.68" fill="#d9b76f"/>
<rect x="2011.5" y="1649.38" width="46.19999999999982" height="24.68" fill="#dec17b"/>
<rect x="2011.5" y="1625.30" width="46.19999999999982" height="24.68" fill="#e1c684"/>
<rect x="2011.5" y="1601.23" width="46.19999999999982" height="24.68" fill="#e4ca8c"/>
<rect x="2011.5" y="1577.15" width="46.19999999999982" height="24.68" fill="#e7cf94"/>
<rect x="2011.5" y="1553.07" width="46.19999999999982" height="24.68" fill="#ead59f"/>
<rect x="2011.5" y="1529.00" width="46.19999999999982" height="24.68" fill="#edd9a8"/>
<rect x="2011.5" y="1504.92" width="46.19999999999982" height="24.68" fill="#f0deb0"/>
<rect x="2011.5" y="1480.85" width="46.19999999999982" height="24.68" fill="#f2e2b8"/>
<rect x="2011.5" y="1456.77" width="46.19999999999982" height="24.68" fill="#f6e8c3"/>
<rect x="2011.5" y="1432.69" width="46.19999999999982" height="24.68" fill="#f6eac9"/>
<rect x="2011.5" y="1408.62" width="46.19999999999982" height="24.68" fill="#f6ebcf"/>
<rect x="2011.5" y="1384.54" width="46.19999999999982" height="24.68" fill="#f6edd5"/>
<rect x="2011.5" y="1360.47" width="46.19999999999982" height="24.68" fill="#f5efdc"/>
<rect x="2011.5" y="1336.39" width="46.19999999999982" height="24.68" fill="#f5f0e2"/>
<rect x="2011.5" y="1312.31" width="46.19999999999982" height="24.68" fill="#f5f2e8"/>
<rect x="2011.5" y="1288.24" width="46.19999999999982" height="24.68" fill="#f5f3ee"/>
<rect x="2011.5" y="1264.16" width="46.19999999999982" height="24.68" fill="#f4f5f5"/>
<rect x="2011.5" y="1240.09" width="46.19999999999982" height="24.68" fill="#eff3f3"/>
<rect x="2011.5" y="1216.01" width="46.19999999999982" height="24.68" fill="#e9f2f1"/>
<rect x="2011.5" y="1191.93" width="46.19999999999982" height="24.68" fill="#e4f1ef"/>
<rect x="2011.5" y="1167.86" width="46.19999999999982" height="24.68" fill="#def0ed"/>
<rect x="2011.5" y="1143.78" width="46.19999999999982" height="24.68" fill="#d7eeeb"/>
<rect x="2011.5" y="1119.71" width="46.19999999999982" height="24.68" fill="#d2ede9"/>
<rect x="2011.5" y="1095.63" width="46.19999999999982" height="24.68" fill="#ccebe7"/>
<rect x="2011.5" y="1071.55" width="46.19999999999982" height="24.68" fill="#c7eae5"/>
<rect x="2011.5" y="1047.48" width="46.19999999999982" height="24.68" fill="#bce5df"/>
<rect x="2011.5" y="1023.40" width="46.19999999999982" height="24.68" fill="#b4e2db"/>
<rect x="2011.5" y="999.33" width="46.19999999999982" height="24.68" fill="#abdfd7"/>
<rect x="2011.5" y="975.25" width="46.19999999999982" height="24.68" fill="#a3dbd3"/>
<rect x="2011.5" y="951.17" width="46.19999999999982" height="24.68" fill="#98d7cd"/>
<rect x="2011.5" y="927.10" width="46.19999999999982" height="24.68" fill="#8fd3c9"/>
<rect x="2011.5" y="903.02" width="46.19999999999982" height="24.68" fill="#87d0c5"/>
<rect x="2011.5" y="878.95" width="46.19999999999982" height="24.68" fill="#7fccc0"/>
<rect x="2011.5" y="854.87" width="46.19999999999982" height="24.68" fill="#73c3b8"/>
<rect x="2011.5" y="830.79" width="46.19999999999982" height="24.68" fill="#6abdb2"/>
<rect x="2011.5" y="806.72" width="46.19999999999982" height="24.68" fill="#61b7ac"/>
<rect x="2011.5" y="782.64" width="46.19999999999982" height="24.68" fill="#58b0a7"/>
<rect x="2011.5" y="758.57" width="46.19999999999982" height="24.68" fill="#4da89f"/>
<rect x="2011.5" y="734.49" width="46.19999999999982" height="24.68" fill="#44a299"/>
<rect x="2011.5" y="710.42" width="46.19999999999982" height="24.68" fill="#3b9b93"/>
<rect x="2011.5" y="686.34" width="46.19999999999982" height="24.68" fill="#33958d"/>
<rect x="2011.5" y="662.26" width="46.19999999999982" height="24.68" fill="#2b8d85"/>
<rect x="2011.5" y="638.19" width="46.19999999999982" height="24.68" fill="#258880"/>
<rect x="2011.5" y="614.11" width="46.19999999999982" height="24.68" fill="#1f827a"/>
<rect x="2011.5" y="590.04" width="46.19999999999982" height="24.68" fill="#187c74"/>
<rect x="2011.5" y="565.96" width="46.19999999999982" height="24.68" fill="#12766e"/>
<rect x="2011.5" y="541.88" width="46.19999999999982" height="24.68" fill="#0a6f67"/>
<rect x="2011.5" y="517.81" width="46.19999999999982" height="24.68" fill="#046961"/>
<rect x="2011.5" y="493.73" width="46.19999999999982" height="24.68" fill="#01645b"/>
<rect x="2011.5" y="469.66" width="46.19999999999982" height="24.68" fill="#015f56"/>
<rect x="2011.5" y="445.58" width="46.19999999999982" height="24.68" fill="#01584f"/>
<rect x="2011.5" y="421.50" width="46.19999999999982" height="24.68" fill="#015349"/>
<rect x="2011.5" y="397.43" width="46.19999999999982" height="24.68" fill="#004e44"/>
<rect x="2011.5" y="373.35" width="46.19999999999982" height="24.68" fill="#00493e"/>
<rect x="2011.5" y="349.28" width="46.19999999999982" height="24.68" fill="#004337"/>
<rect x="2011.5" y="325.20" width="46.19999999999982" height="24.68" fill="#003e32"/>
<polygon points="2011.5,325.7 2034.6,229.5 2057.7,325.7" fill="#003c30"/>
<polygon points="2011.5,2226.7 2034.6,2321.7 2057.7,2226.7" fill="#543005"/>
<polygon points="2011.5,325.2 2034.6,229.5 2057.7,325.2 2057.7,2227.2 2034.6,2321.7 2011.5,2227.2" fill="none" stroke="#000" stroke-width="3" stroke-linejoin="miter" stroke-miterlimit="4"/>
<line x1="2057.7" y1="2227.20" x2="2073.2999999999997" y2="2227.20" stroke="#000" stroke-width="3.2"/>
<text x="2086.6" y="2246.00" font-size="50" font-family="DejaVu Sans, Liberation Sans, sans-serif">-4</text>
<line x1="2057.7" y1="1986.44" x2="2073.2999999999997" y2="1986.44" stroke="#000" stroke-width="3.2"/>
<text x="2086.6" y="2005.24" font-size="50" font-family="DejaVu Sans, Liberation Sans, sans-serif">-3</text>
<line x1="2057.7" y1="1745.68" x2="2073.2999999999997" y2="1745.68" stroke="#000" stroke-width="3.2"/>
<text x="2086.6" y="1764.48" font-size="50" font-family="DejaVu Sans, Liberation Sans, sans-serif">-2</text>
<line x1="2057.7" y1="1504.92" x2="2073.2999999999997" y2="1504.92" stroke="#000" stroke-width="3.2"/>
<text x="2086.6" y="1523.72" font-size="50" font-family="DejaVu Sans, Liberation Sans, sans-serif">-1</text>
<line x1="2057.7" y1="1264.16" x2="2073.2999999999997" y2="1264.16" stroke="#000" stroke-width="3.2"/>
<text x="2086.6" y="1282.96" font-size="50" font-family="DejaVu Sans, Liberation Sans, sans-serif">0</text>
<line x1="2057.7" y1="1023.40" x2="2073.2999999999997" y2="1023.40" stroke="#000" stroke-width="3.2"/>
<text x="2086.6" y="1042.20" font-size="50" font-family="DejaVu Sans, Liberation Sans, sans-serif">1</text>
<line x1="2057.7" y1="782.64" x2="2073.2999999999997" y2="782.64" stroke="#000" stroke-width="3.2"/>
<text x="2086.6" y="801.44" font-size="50" font-family="DejaVu Sans, Liberation Sans, sans-serif">2</text>
<line x1="2057.7" y1="541.88" x2="2073.2999999999997" y2="541.88" stroke="#000" stroke-width="3.2"/>
<text x="2086.6" y="560.68" font-size="50" font-family="DejaVu Sans, Liberation Sans, sans-serif">3</text>
<line x1="2057.7" y1="325.20" x2="2073.2999999999997" y2="325.20" stroke="#000" stroke-width="3.2"/>
<text x="2086.6" y="344.00" font-size="50" font-family="DejaVu Sans, Liberation Sans, sans-serif">4</text>
</svg>
</body></html>
